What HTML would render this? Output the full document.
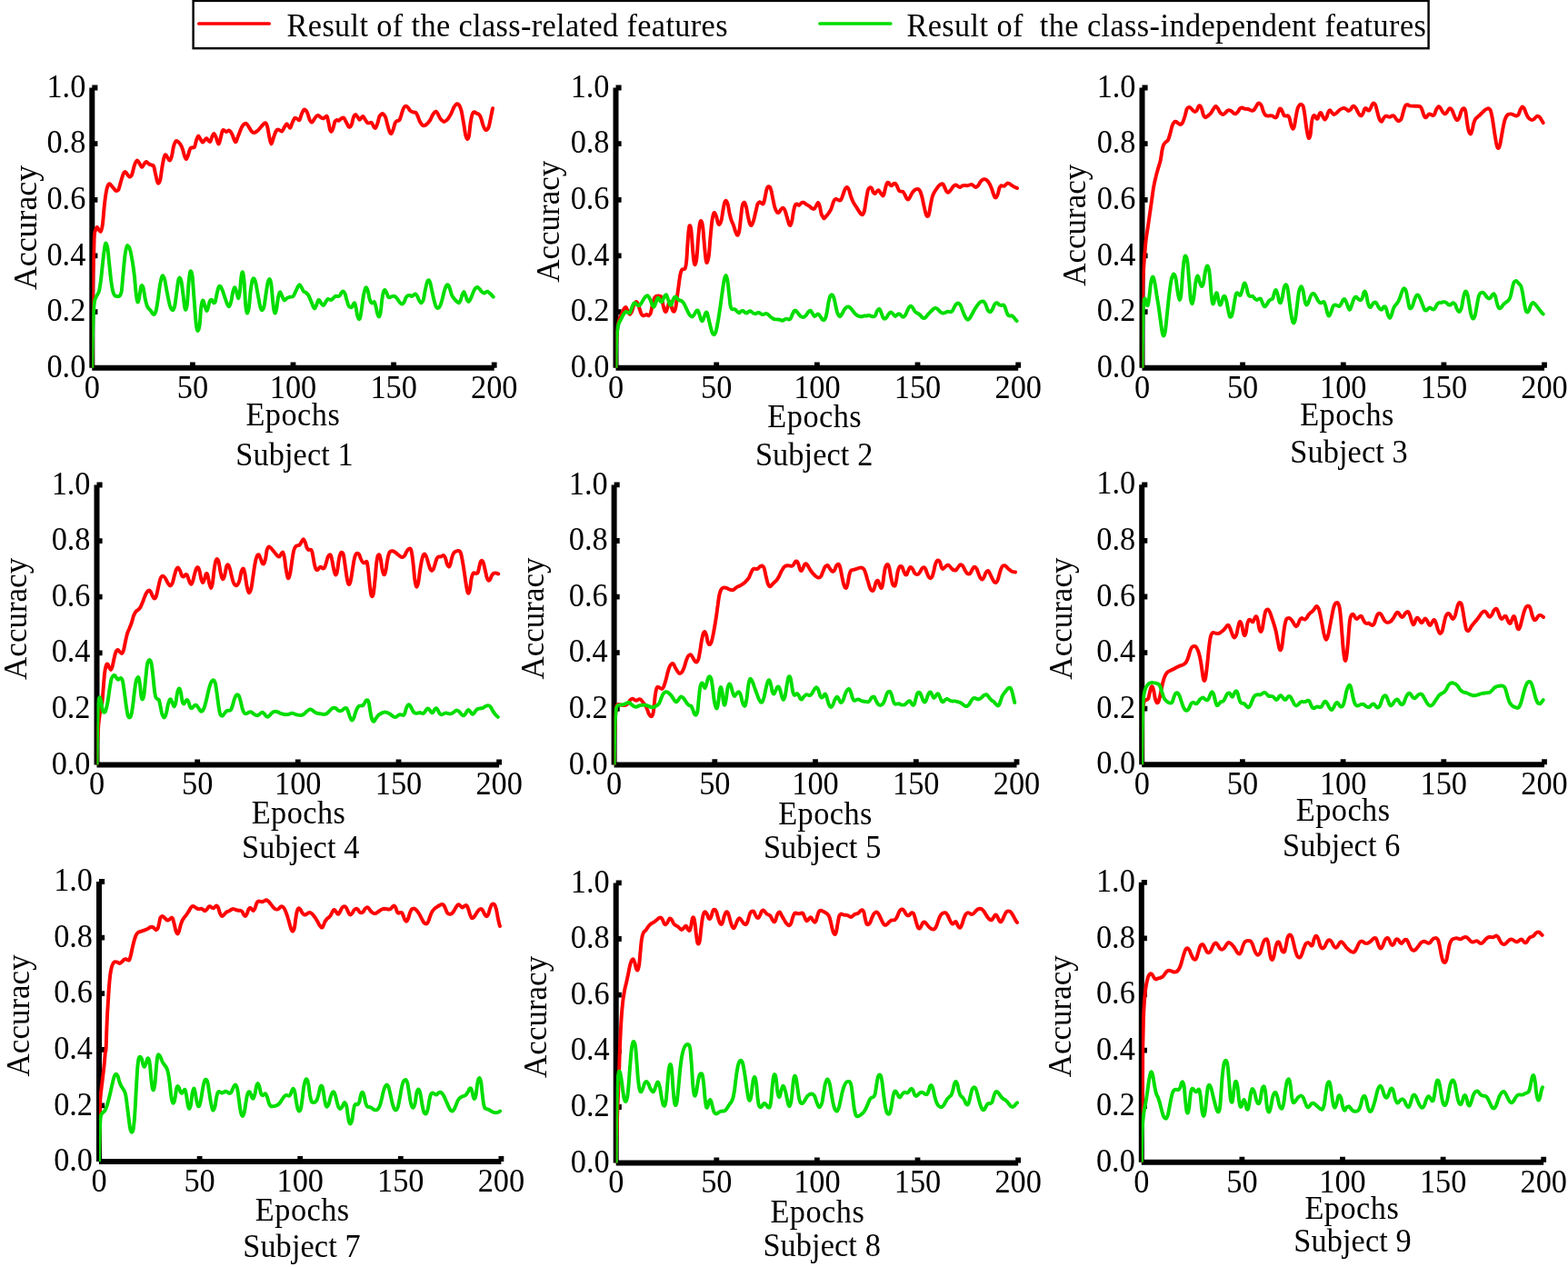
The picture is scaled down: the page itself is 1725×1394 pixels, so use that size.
<!DOCTYPE html>
<html lang="en"><head><meta charset="utf-8"><title>Accuracy curves for nine subjects</title>
<style>html,body{margin:0;padding:0;background:#fff}body{width:1725px;height:1394px;overflow:hidden}svg{display:block}text{font-family:"Liberation Serif","DejaVu Serif",serif;font-size:34.3px;fill:#000}.t{font-size:34.3px}.c{fill:none;stroke-width:3.95;stroke-linejoin:round;stroke-linecap:round}</style></head><body>
<svg width="1725" height="1394" viewBox="0 0 1725 1394">
<rect width="1725" height="1394" fill="#fff"/>
<g id="legend"><rect x="212.6" y="0.9" width="1359.0" height="52.3" fill="#fff" stroke="#000" stroke-width="2.4"/>
<line x1="218.8" y1="26.0" x2="296.2" y2="26.0" stroke="#ff0000" stroke-width="3.7" stroke-linecap="round"/>
<text transform="translate(315.6 39.8) scale(1 1.03)" textLength="484.9" lengthAdjust="spacing">Result of the class-related features</text>
<line x1="902" y1="26.0" x2="979.8" y2="26.0" stroke="#00dd00" stroke-width="3.7" stroke-linecap="round"/>
<text transform="translate(997.4 39.8) scale(1 1.03)" textLength="571.5" lengthAdjust="spacing" xml:space="preserve">Result of  the class-independent features</text></g>
<g id="subject1">
<path d="M101.3 404.7V96.5M101.3 404.7H543.7" stroke="#000" stroke-width="6.0" fill="none"/>
<path d="M101.3 343.1h6.1M101.3 281.4h6.1M101.3 219.8h6.1M101.3 158.1h6.1M101.3 96.5h6.1M211.9 404.7v-6.1M322.5 404.7v-6.1M433.1 404.7v-6.1M543.7 404.7v-6.1" stroke="#000" stroke-width="5.8" fill="none"/>
<clipPath id="cp1"><rect x="101.3" y="86.5" width="452.4" height="318.2"/></clipPath>
<g clip-path="url(#cp1)">
<path class="c" stroke="#ff0000" d="M101.3 404.7C101.4 398.8 101.6 382.1 101.7 369.2C101.8 356.3 101.7 345.0 102.0 327.4C102.3 309.9 103.1 276.3 103.6 264.0C104.1 251.6 104.5 255.8 105.0 253.5C105.6 251.2 105.9 249.8 106.8 250.0C107.8 250.3 109.6 255.4 110.6 254.9C111.6 254.4 112.2 251.5 112.8 247.3C113.5 243.0 113.9 235.0 114.5 229.2C115.1 223.4 115.9 216.6 116.6 212.5C117.3 208.3 118.0 205.8 118.7 204.1C119.4 202.4 119.8 202.1 120.8 202.4C121.7 202.8 123.1 205.0 124.2 206.2C125.4 207.5 126.7 209.6 127.7 210.0C128.7 210.3 129.6 210.2 130.5 208.3C131.4 206.4 132.3 201.5 133.3 198.6C134.2 195.6 135.2 192.0 136.1 190.5C136.9 188.9 137.3 188.8 138.1 189.2C139.0 189.6 140.1 192.1 140.9 193.0C141.7 193.9 142.3 194.8 143.0 194.7C143.7 194.5 144.3 194.4 145.1 192.3C145.9 190.2 147.0 184.5 147.9 181.8C148.8 179.2 149.7 176.9 150.7 176.6C151.6 176.2 152.5 178.5 153.4 179.8C154.4 181.0 155.3 183.9 156.2 183.9C157.2 183.9 158.2 180.8 159.0 179.8C159.8 178.8 160.3 177.8 161.1 177.9C161.9 178.1 163.0 179.9 163.9 180.5C164.8 181.1 165.8 181.2 166.7 181.6C167.5 181.9 168.3 181.1 169.0 182.6C169.7 184.0 170.2 187.5 170.8 190.2C171.5 192.9 172.1 196.6 172.7 198.6C173.2 200.5 173.7 201.8 174.3 201.6C175.0 201.4 175.7 200.2 176.4 197.2C177.1 194.1 177.8 187.3 178.5 183.2C179.2 179.2 179.9 174.9 180.6 172.8C181.2 170.7 181.7 170.2 182.4 170.4C183.1 170.7 184.0 173.2 184.8 174.2C185.5 175.2 186.2 176.9 186.8 176.6C187.5 176.2 188.2 174.7 188.9 172.1C189.6 169.5 190.3 163.7 191.0 161.0C191.7 158.2 192.5 156.7 193.1 155.7C193.7 154.7 193.7 154.7 194.5 155.1C195.3 155.5 196.9 156.8 198.0 158.2C199.0 159.6 200.0 161.6 200.8 163.8C201.6 166.0 202.2 169.5 202.9 171.4C203.6 173.3 204.2 175.3 204.9 175.2C205.6 175.1 206.3 172.6 207.0 170.7C207.7 168.8 208.4 165.2 209.1 163.8C209.8 162.4 210.4 162.7 211.2 162.4C212.0 162.0 213.2 163.1 214.0 161.7C214.8 160.3 215.4 156.0 216.1 154.0C216.8 152.0 217.5 149.8 218.2 149.6C218.9 149.3 219.4 151.5 220.2 152.6C221.1 153.8 222.1 156.4 223.0 156.5C224.0 156.6 225.1 154.0 225.8 153.3C226.6 152.6 226.9 152.1 227.5 152.3C228.1 152.6 228.7 154.2 229.3 154.7C229.9 155.3 230.7 156.5 231.4 155.7C232.1 154.9 232.8 151.3 233.5 149.8C234.2 148.4 234.9 146.8 235.6 147.1C236.3 147.3 236.8 149.3 237.7 151.2C238.5 153.1 239.6 158.2 240.4 158.5C241.2 158.7 241.8 155.0 242.5 152.6C243.2 150.3 244.0 145.9 244.6 144.3C245.3 142.7 245.7 143.0 246.4 143.2C247.1 143.3 247.8 144.9 248.8 145.0C249.8 145.0 251.2 143.2 252.3 143.6C253.3 143.9 253.9 145.0 255.0 147.1C256.2 149.1 257.8 155.6 258.9 156.1C260.1 156.6 260.8 152.6 262.0 149.8C263.2 147.1 264.8 141.8 266.2 139.4C267.6 137.0 269.2 135.8 270.4 135.7C271.5 135.5 272.1 137.3 273.1 138.7C274.2 140.1 275.5 143.1 276.6 144.3C277.7 145.5 278.5 146.2 279.8 145.9C281.1 145.7 282.7 144.3 284.3 142.9C285.8 141.4 287.9 138.6 289.1 137.3C290.4 136.0 291.1 135.0 291.9 135.2C292.7 135.5 293.3 136.3 294.0 138.7C294.7 141.1 295.4 146.5 296.1 149.8C296.8 153.1 297.6 158.2 298.5 158.5C299.3 158.7 300.1 153.6 301.0 151.2C301.9 148.8 302.8 145.4 303.8 144.0C304.7 142.6 305.5 142.5 306.5 142.6C307.6 142.7 309.0 145.0 310.0 144.6C311.1 144.1 311.9 141.5 312.8 140.1C313.7 138.7 314.5 136.1 315.6 136.2C316.6 136.3 318.0 141.1 319.1 140.8C320.1 140.5 320.9 136.4 321.8 134.5C322.8 132.7 323.6 130.1 324.6 129.7C325.7 129.2 327.2 131.3 328.1 131.7C328.9 132.0 329.1 132.7 329.7 131.7C330.4 130.6 331.1 127.1 331.8 125.4C332.5 123.7 333.2 122.0 333.9 121.2C334.6 120.5 335.3 120.5 336.0 121.0C336.7 121.4 337.3 122.1 338.1 124.0C338.9 125.9 340.0 130.6 340.9 132.4C341.8 134.1 342.6 134.7 343.4 134.4C344.2 134.2 344.9 132.1 345.8 131.0C346.6 129.8 347.7 128.1 348.5 127.5C349.3 126.9 349.8 126.9 350.6 127.2C351.4 127.6 352.5 129.1 353.4 129.6C354.3 130.1 355.1 130.5 355.9 130.3C356.7 130.0 357.6 128.5 358.3 128.2C358.9 127.9 359.4 127.3 359.9 128.5C360.5 129.6 360.9 132.8 361.5 135.2C362.0 137.5 362.6 141.2 363.1 142.8C363.7 144.4 364.2 145.0 364.8 144.6C365.4 144.3 366.0 142.5 366.6 140.7C367.2 138.9 367.8 135.2 368.4 133.8C369.1 132.3 369.6 132.3 370.4 132.1C371.1 131.9 372.0 133.0 372.9 132.7C373.8 132.3 374.8 130.8 375.7 130.3C376.6 129.8 377.4 129.0 378.2 129.6C379.0 130.2 379.7 132.2 380.5 133.8C381.4 135.3 382.6 138.1 383.3 139.1C384.1 140.0 384.5 140.1 385.1 139.6C385.8 139.1 386.5 138.0 387.1 136.3C387.7 134.5 388.2 130.6 388.9 128.9C389.5 127.2 390.3 126.2 391.0 126.1C391.7 126.0 392.3 127.3 393.1 128.2C393.8 129.1 394.7 131.5 395.4 131.7C396.2 131.9 397.0 129.9 397.7 129.3C398.4 128.7 398.9 127.8 399.6 128.2C400.3 128.6 401.1 130.5 401.8 131.7C402.6 132.8 403.4 134.6 404.2 135.2C405.0 135.7 405.8 135.2 406.6 135.2C407.3 135.1 408.0 134.2 408.8 134.9C409.6 135.6 410.4 138.4 411.1 139.3C411.9 140.3 412.5 141.3 413.2 140.7C413.9 140.1 414.6 137.9 415.3 135.8C416.0 133.8 416.7 129.9 417.4 128.2C418.2 126.5 419.2 125.9 419.9 125.4C420.6 124.9 420.9 124.8 421.6 125.4C422.3 126.0 423.3 126.8 424.1 128.9C424.9 131.0 425.7 135.3 426.5 137.9C427.2 140.6 427.9 143.4 428.6 144.9C429.2 146.4 429.9 147.4 430.6 147.0C431.3 146.5 432.0 144.1 432.7 142.1C433.4 140.1 434.1 136.7 434.8 135.2C435.5 133.6 436.1 133.6 436.9 133.1C437.7 132.6 438.7 133.1 439.4 132.1C440.2 131.0 440.6 129.0 441.4 126.8C442.1 124.6 443.0 120.8 443.9 119.2C444.7 117.5 445.5 116.9 446.4 116.8C447.2 116.6 447.9 117.3 448.7 118.2C449.6 119.0 450.6 121.1 451.5 121.9C452.4 122.8 453.4 123.0 454.3 123.3C455.2 123.6 456.3 123.2 457.1 123.7C457.9 124.3 458.4 125.1 459.2 126.8C460.0 128.5 461.0 131.9 461.9 133.8C462.9 135.6 463.9 136.9 464.7 137.7C465.5 138.4 466.0 138.4 466.8 138.2C467.6 138.0 468.6 137.5 469.6 136.5C470.7 135.6 471.9 134.2 473.1 132.4C474.2 130.5 475.5 127.0 476.6 125.4C477.6 123.8 478.5 122.7 479.4 122.6C480.2 122.5 480.6 123.4 481.4 124.7C482.2 126.0 483.3 128.9 484.2 130.3C485.1 131.7 486.2 132.5 487.0 133.1C487.8 133.6 488.2 134.1 489.1 133.8C490.0 133.4 491.4 132.4 492.6 131.0C493.7 129.6 494.9 127.6 496.1 125.4C497.2 123.2 498.5 119.6 499.5 117.8C500.6 115.9 501.4 114.6 502.3 114.3C503.2 113.9 504.2 114.4 505.1 115.7C506.0 116.9 506.8 118.7 507.6 121.9C508.4 125.2 509.2 130.9 510.0 135.2C510.7 139.4 511.4 144.7 512.0 147.7C512.7 150.6 513.5 152.7 514.1 153.0C514.8 153.2 515.4 152.0 516.0 149.1C516.5 146.1 517.0 139.1 517.6 135.2C518.2 131.2 519.0 127.4 519.7 125.4C520.4 123.4 521.0 123.4 521.8 123.3C522.6 123.2 523.5 124.3 524.3 124.7C525.1 125.1 525.9 125.0 526.7 125.7C527.4 126.4 527.9 126.8 528.8 128.9C529.6 130.9 530.7 135.7 531.5 137.9C532.4 140.2 533.0 141.6 533.6 142.4C534.3 143.2 534.7 143.3 535.4 142.8C536.1 142.3 537.1 141.5 537.8 139.3C538.5 137.1 539.2 132.9 539.9 129.6C540.6 126.2 541.6 120.9 542.0 119.2"/>
<path class="c" stroke="#00dd00" d="M101.3 404.7C101.4 398.8 101.7 378.6 102.0 369.2C102.2 359.8 102.3 354.6 102.7 348.3C103.0 342.0 103.5 335.3 104.0 331.6C104.6 327.9 105.3 327.9 106.1 326.0C106.9 324.2 108.1 323.5 108.9 320.5C109.7 317.4 110.3 313.3 111.0 307.9C111.7 302.6 112.4 294.5 113.1 288.4C113.8 282.4 114.6 275.2 115.2 271.8C115.8 268.3 116.0 267.3 116.6 267.6C117.1 267.8 117.8 269.7 118.4 273.1C119.0 276.6 119.4 282.7 120.0 288.4C120.7 294.2 121.4 302.6 122.1 307.9C122.8 313.3 123.5 317.6 124.2 320.5C124.9 323.4 125.5 324.4 126.3 325.3C127.1 326.3 128.2 326.0 129.1 326.0C130.0 326.1 130.7 326.7 131.5 325.8C132.2 324.8 133.0 324.4 133.7 320.5C134.3 316.6 134.7 308.9 135.4 302.4C136.0 295.9 136.8 286.6 137.4 281.5C138.1 276.4 138.7 273.6 139.3 271.8C139.8 269.9 140.0 269.9 140.7 270.4C141.3 270.8 142.2 271.5 143.0 274.5C143.9 277.5 145.0 283.6 145.8 288.4C146.6 293.3 147.3 298.2 147.9 303.8C148.5 309.3 149.0 317.3 149.6 321.9C150.1 326.4 150.5 329.2 150.9 330.9C151.4 332.6 151.6 332.7 152.1 331.9C152.5 331.1 152.9 328.7 153.4 326.0C154.0 323.3 154.6 317.6 155.1 315.6C155.6 313.6 156.0 313.9 156.5 314.2C157.0 314.5 157.4 315.2 157.9 317.7C158.4 320.1 159.1 325.7 159.7 328.8C160.4 331.9 161.1 334.6 161.8 336.5C162.5 338.3 163.2 339.0 163.9 339.9C164.6 340.9 165.3 341.1 166.0 342.0C166.7 342.9 167.4 344.6 168.1 345.2C168.7 345.9 169.2 346.4 169.9 345.8C170.5 345.1 171.1 344.4 171.8 341.3C172.5 338.3 173.4 332.1 174.1 327.4C174.7 322.8 175.3 317.3 176.0 313.5C176.7 309.7 177.5 306.1 178.1 304.4C178.7 302.8 179.1 303.2 179.6 303.8C180.1 304.3 180.5 304.7 181.3 307.9C182.0 311.2 183.1 318.6 184.1 323.2C185.0 327.9 186.0 332.9 186.8 335.8C187.7 338.7 188.3 339.8 188.9 340.6C189.6 341.5 190.2 341.5 190.8 340.6C191.3 339.8 191.8 339.1 192.4 335.8C193.0 332.4 193.9 325.1 194.5 320.5C195.2 315.8 195.7 310.4 196.3 307.9C196.9 305.5 197.4 305.4 198.0 305.9C198.5 306.3 199.1 307.6 199.7 310.7C200.2 313.9 200.9 320.0 201.5 324.6C202.1 329.3 202.7 336.0 203.3 338.6C203.8 341.1 204.2 341.1 204.7 340.2C205.1 339.3 205.6 337.4 206.1 333.0C206.5 328.5 207.0 318.8 207.4 313.5C207.9 308.2 208.4 303.5 208.8 301.0C209.3 298.5 209.6 298.0 210.1 298.5C210.6 298.9 211.1 299.9 211.6 303.8C212.1 307.7 212.5 315.1 213.0 321.9C213.5 328.6 214.2 337.9 214.7 344.1C215.2 350.4 215.6 356.1 216.1 359.4C216.6 362.7 217.2 364.1 217.8 363.9C218.3 363.6 219.0 361.8 219.6 358.0C220.1 354.3 220.5 345.6 220.9 341.3C221.4 337.0 221.9 334.0 222.3 332.3C222.8 330.6 223.2 330.1 223.7 330.9C224.3 331.7 225.0 335.3 225.5 337.2C226.1 339.0 226.7 341.8 227.2 342.0C227.8 342.3 228.3 340.3 228.9 338.6C229.5 336.8 230.0 333.0 230.7 331.6C231.3 330.2 232.1 329.7 232.8 329.9C233.5 330.2 234.2 332.6 234.9 333.0C235.5 333.4 236.1 333.7 236.7 332.3C237.2 330.9 237.7 327.3 238.3 324.6C239.0 322.0 239.8 317.9 240.4 316.3C241.1 314.7 241.5 314.4 242.2 314.9C242.9 315.4 243.8 317.0 244.6 319.1C245.5 321.2 246.5 324.8 247.4 327.4C248.3 330.1 249.4 333.5 250.2 335.1C251.0 336.6 251.6 337.5 252.3 336.9C253.0 336.3 253.7 334.3 254.3 331.6C255.0 328.9 255.7 323.0 256.4 320.5C257.1 317.9 257.9 316.0 258.5 316.3C259.2 316.5 259.7 319.9 260.3 321.9C261.0 323.8 261.8 328.6 262.4 328.1C263.0 327.6 263.6 323.1 264.1 319.1C264.6 315.0 265.0 307.0 265.5 303.8C266.0 300.5 266.6 298.4 267.1 299.6C267.7 300.7 268.2 304.9 268.7 310.7C269.2 316.5 269.6 328.8 270.1 334.4C270.6 340.0 271.1 343.7 271.7 344.4C272.4 345.1 273.2 342.5 273.8 338.6C274.5 334.6 275.0 325.4 275.6 320.5C276.3 315.5 277.0 310.9 277.6 308.6C278.2 306.3 278.8 306.0 279.4 306.5C280.0 307.1 280.7 308.6 281.5 312.1C282.3 315.6 283.4 322.9 284.3 327.4C285.2 331.9 286.0 337.0 286.8 339.2C287.5 341.5 288.1 341.4 288.7 341.1C289.3 340.7 289.9 340.1 290.5 337.2C291.2 334.2 291.9 327.6 292.6 323.2C293.3 318.8 294.0 313.4 294.7 310.7C295.4 308.1 296.2 306.8 296.8 307.2C297.4 307.7 297.9 309.2 298.5 313.5C299.0 317.8 299.7 328.1 300.3 333.0C300.8 337.9 301.2 340.9 301.7 342.7C302.1 344.6 302.6 344.8 303.1 344.1C303.5 343.4 303.9 341.6 304.4 338.6C305.0 335.5 305.6 328.9 306.3 326.0C306.9 323.1 307.5 321.1 308.2 321.1C308.9 321.1 309.7 324.5 310.4 326.0C311.2 327.6 311.9 330.1 312.8 330.5C313.7 330.8 314.5 328.7 315.6 328.1C316.6 327.5 317.9 327.1 319.1 326.7C320.2 326.4 321.5 327.1 322.5 326.0C323.6 325.0 324.5 322.2 325.3 320.5C326.2 318.7 327.0 316.8 327.6 315.6C328.3 314.4 328.8 313.2 329.5 313.2C330.1 313.2 330.7 314.4 331.4 315.6C332.2 316.8 333.0 319.4 333.9 320.5C334.8 321.5 335.8 321.3 336.7 322.1C337.6 322.9 338.6 323.8 339.5 325.3C340.4 326.9 341.4 329.5 342.3 331.6C343.2 333.7 344.1 336.6 344.8 337.9C345.5 339.1 345.9 339.6 346.4 339.2C347.0 338.9 347.5 337.2 348.1 335.8C348.7 334.4 349.4 331.8 349.9 330.9C350.5 330.0 350.7 329.7 351.3 330.2C351.9 330.7 352.6 332.7 353.4 333.7C354.2 334.7 355.2 336.2 355.9 336.1C356.7 335.9 357.1 334.1 357.9 333.0C358.6 331.8 359.6 329.7 360.4 329.1C361.1 328.5 361.8 329.4 362.4 329.5C363.1 329.6 363.8 330.2 364.5 329.9C365.2 329.7 365.9 328.8 366.6 328.1C367.4 327.4 368.2 326.1 369.0 325.8C369.8 325.4 370.7 326.1 371.5 326.0C372.3 326.0 372.9 326.0 373.6 325.3C374.3 324.6 375.0 322.7 375.7 321.9C376.4 321.0 377.1 320.2 377.8 320.5C378.4 320.7 378.9 321.6 379.6 323.2C380.2 324.9 380.9 328.1 381.5 330.2C382.1 332.3 382.7 334.5 383.3 335.8C383.9 337.0 384.5 337.5 385.1 337.9C385.8 338.2 386.5 338.4 387.1 337.9C387.7 337.3 388.4 335.1 388.9 334.4C389.4 333.7 389.8 333.0 390.3 333.7C390.7 334.4 391.2 336.3 391.7 338.6C392.1 340.8 392.5 344.8 393.1 346.9C393.6 349.0 394.3 350.8 394.9 351.1C395.4 351.3 396.0 350.6 396.5 348.3C397.1 346.0 397.6 341.1 398.2 337.2C398.8 333.2 399.4 327.9 400.0 324.6C400.6 321.4 401.3 319.0 401.8 317.7C402.4 316.3 402.7 316.1 403.2 316.6C403.7 317.0 404.3 318.4 404.9 320.5C405.4 322.5 406.0 326.7 406.6 328.8C407.1 330.9 407.8 332.2 408.4 333.0C409.0 333.7 409.6 333.4 410.2 333.3C410.8 333.1 411.3 331.6 411.9 332.3C412.4 332.9 412.9 335.0 413.5 337.2C414.1 339.4 414.7 343.7 415.3 345.5C415.9 347.4 416.6 348.8 417.1 348.3C417.7 347.8 418.3 345.7 418.8 342.7C419.3 339.7 419.7 333.8 420.2 330.2C420.7 326.6 421.3 323.0 421.9 321.1C422.4 319.3 423.1 318.8 423.7 319.1C424.3 319.3 424.9 321.2 425.5 322.6C426.1 323.9 426.7 326.4 427.4 327.1C428.2 327.8 429.1 327.0 429.9 326.7C430.8 326.5 431.8 325.8 432.7 325.8C433.6 325.8 434.4 326.1 435.2 326.7C436.0 327.3 436.8 328.5 437.6 329.5C438.4 330.6 439.2 332.1 440.0 333.0C440.7 333.8 441.4 334.8 442.2 334.6C443.0 334.5 443.8 333.5 444.6 332.3C445.3 331.1 445.9 328.6 446.6 327.4C447.3 326.3 448.0 325.7 448.7 325.3C449.4 324.9 450.1 324.8 450.8 324.9C451.5 325.0 452.2 326.1 452.9 326.0C453.6 326.0 454.3 325.0 455.0 324.6C455.7 324.2 456.4 323.3 457.1 323.5C457.8 323.8 458.4 324.7 459.2 326.0C459.9 327.4 460.9 330.4 461.7 331.6C462.4 332.8 462.9 333.6 463.6 333.3C464.3 332.9 465.2 331.9 465.9 329.5C466.5 327.1 467.1 322.3 467.8 319.1C468.5 315.8 469.4 311.8 470.0 310.0C470.7 308.2 471.1 308.0 471.7 308.2C472.2 308.4 472.7 309.1 473.4 311.4C474.0 313.7 474.8 318.4 475.6 321.9C476.4 325.3 477.2 329.6 478.0 332.3C478.7 335.0 479.3 336.8 480.0 337.9C480.7 338.9 481.4 339.1 482.1 338.8C482.8 338.6 483.5 338.1 484.2 336.5C485.0 334.8 485.9 331.7 486.7 328.8C487.5 325.9 488.3 321.5 489.1 319.1C489.8 316.6 490.6 315.1 491.2 314.2C491.8 313.3 492.3 313.0 492.9 313.5C493.4 314.0 494.0 315.1 494.7 317.0C495.4 318.8 496.2 322.7 497.0 324.6C497.9 326.6 498.9 327.6 499.8 328.8C500.7 330.0 501.5 330.8 502.3 331.6C503.1 332.3 504.1 333.5 504.8 333.3C505.6 333.0 506.1 331.8 506.8 330.2C507.4 328.6 508.0 325.4 508.6 323.9C509.2 322.4 509.8 321.0 510.4 321.1C511.0 321.3 511.4 323.1 512.0 324.6C512.7 326.2 513.5 329.3 514.1 330.5C514.8 331.6 515.3 332.1 516.0 331.6C516.6 331.1 517.5 329.3 518.3 327.4C519.2 325.6 520.3 322.2 521.1 320.5C521.9 318.7 522.5 317.7 523.2 317.0C523.9 316.2 524.5 315.8 525.3 316.0C526.0 316.2 526.8 317.1 527.6 317.9C528.5 318.8 529.3 320.4 530.1 321.1C531.0 321.9 531.8 322.6 532.6 322.6C533.5 322.6 534.4 321.5 535.0 321.1C535.6 320.8 535.8 320.5 536.4 320.7C537.0 321.0 538.0 321.9 538.8 322.6C539.5 323.2 540.4 324.2 541.0 324.9C541.6 325.6 542.4 326.4 542.7 326.7"/>
</g>
<text class="t" transform="translate(94.3 414.8) scale(1 1.03)" text-anchor="end">0.0</text>
<text class="t" transform="translate(94.3 353.2) scale(1 1.03)" text-anchor="end">0.2</text>
<text class="t" transform="translate(94.3 291.5) scale(1 1.03)" text-anchor="end">0.4</text>
<text class="t" transform="translate(94.3 229.9) scale(1 1.03)" text-anchor="end">0.6</text>
<text class="t" transform="translate(94.3 168.2) scale(1 1.03)" text-anchor="end">0.8</text>
<text class="t" transform="translate(94.3 106.6) scale(1 1.03)" text-anchor="end">1.0</text>
<text class="t" transform="translate(101.3 437.5) scale(1 1.03)" text-anchor="middle">0</text>
<text class="t" transform="translate(211.9 437.5) scale(1 1.03)" text-anchor="middle">50</text>
<text class="t" transform="translate(322.5 437.5) scale(1 1.03)" text-anchor="middle">100</text>
<text class="t" transform="translate(433.1 437.5) scale(1 1.03)" text-anchor="middle">150</text>
<text class="t" transform="translate(543.7 437.5) scale(1 1.03)" text-anchor="middle">200</text>
<text transform="translate(322.1 468.0) scale(1 1.03)" text-anchor="middle" textLength="103.3" lengthAdjust="spacing">Epochs</text>
<text transform="translate(324.0 512.4) scale(1 1.03)" text-anchor="middle" textLength="129.4" lengthAdjust="spacing">Subject 1</text>
<text transform="translate(40.0 250.5) rotate(-90)" text-anchor="middle" style="font-size:35.8px">Accuracy</text>
</g>
<g id="subject2">
<path d="M677.5 404.7V96.5M677.5 404.7H1120.2" stroke="#000" stroke-width="6.0" fill="none"/>
<path d="M677.5 343.1h6.1M677.5 281.4h6.1M677.5 219.8h6.1M677.5 158.1h6.1M677.5 96.5h6.1M788.2 404.7v-6.1M898.9 404.7v-6.1M1009.5 404.7v-6.1M1120.2 404.7v-6.1" stroke="#000" stroke-width="5.8" fill="none"/>
<clipPath id="cp2"><rect x="677.5" y="86.5" width="452.7" height="318.2"/></clipPath>
<g clip-path="url(#cp2)">
<path class="c" stroke="#ff0000" d="M677.5 404.7C677.6 401.2 677.6 390.8 677.9 384.0C678.1 377.2 678.4 369.2 679.0 364.0C679.5 358.8 680.2 355.8 681.0 352.8C681.9 349.8 682.9 348.1 683.8 345.9C684.8 343.7 685.8 340.9 686.6 339.6C687.4 338.3 688.0 337.7 688.7 338.2C689.4 338.7 690.1 341.1 690.8 342.4C691.5 343.7 692.2 345.8 692.9 345.9C693.6 346.0 694.1 344.9 695.0 343.1C695.8 341.2 696.8 336.5 697.8 334.7C698.7 332.9 699.7 331.8 700.5 332.2C701.4 332.7 702.1 335.4 702.9 337.5C703.7 339.7 704.6 343.5 705.4 345.2C706.2 346.8 706.7 347.0 707.5 347.3C708.2 347.5 709.2 346.7 709.9 346.6C710.5 346.4 711.0 346.0 711.7 346.1C712.3 346.3 713.1 347.5 713.8 347.3C714.4 347.0 715.1 346.6 715.8 344.5C716.5 342.4 717.2 337.5 717.9 334.7C718.6 331.9 719.3 329.3 720.0 327.8C720.8 326.3 721.5 326.0 722.4 325.7C723.3 325.3 724.7 325.5 725.6 325.7C726.5 325.9 727.0 325.6 727.7 327.1C728.3 328.6 728.8 332.3 729.3 334.7C729.9 337.2 730.6 340.3 731.1 341.7C731.7 343.0 732.2 343.5 732.8 342.8C733.4 342.1 734.0 339.3 734.6 337.5C735.2 335.7 735.8 332.6 736.3 331.9C736.8 331.3 737.2 331.9 737.7 333.3C738.2 334.7 738.9 338.7 739.5 340.3C740.1 341.9 741.0 343.0 741.6 342.8C742.2 342.6 742.7 341.2 743.2 338.9C743.8 336.6 744.1 333.1 744.6 329.2C745.2 325.2 745.8 319.7 746.5 315.2C747.1 310.8 747.7 305.7 748.3 302.7C748.8 299.7 749.3 298.3 749.9 297.2C750.6 296.0 751.4 296.4 752.0 296.1C752.7 295.7 753.3 296.5 753.8 295.1C754.4 293.6 754.8 291.9 755.2 287.4C755.7 282.9 756.0 274.0 756.5 267.9C756.9 261.9 757.4 254.5 757.9 251.2C758.3 248.0 758.8 247.8 759.3 248.4C759.7 249.1 760.2 250.8 760.6 255.4C761.1 260.0 761.7 270.7 762.2 276.3C762.7 281.8 763.1 286.4 763.6 288.8C764.0 291.2 764.4 291.6 764.8 290.9C765.3 290.2 765.8 289.2 766.4 284.6C766.9 280.1 767.5 270.0 768.0 263.8C768.6 257.5 769.1 250.5 769.7 247.1C770.3 243.6 770.9 242.7 771.5 243.2C772.1 243.6 772.6 245.2 773.2 249.8C773.8 254.4 774.4 264.7 775.0 270.7C775.6 276.8 776.1 283.1 776.6 286.0C777.2 289.0 777.5 289.5 778.0 288.5C778.6 287.6 779.3 285.1 779.9 280.5C780.4 275.9 781.0 267.2 781.5 261.0C782.1 254.7 782.8 247.2 783.3 242.9C783.9 238.6 784.5 236.7 785.0 235.2C785.5 233.8 785.9 233.7 786.4 234.3C786.9 234.8 787.6 236.8 788.2 238.7C788.8 240.6 789.4 244.3 790.0 245.7C790.6 247.0 791.1 247.5 791.7 246.8C792.3 246.1 793.1 244.2 793.8 241.5C794.4 238.8 795.0 233.5 795.6 230.4C796.2 227.2 796.7 224.3 797.2 222.7C797.8 221.1 798.3 220.6 798.9 220.9C799.5 221.2 800.1 222.5 800.7 224.8C801.3 227.1 801.9 231.6 802.5 234.5C803.2 237.4 803.8 240.1 804.5 242.2C805.2 244.3 805.9 245.0 806.7 247.1C807.5 249.1 808.3 252.7 809.1 254.7C809.8 256.7 810.5 259.0 811.2 258.9C811.9 258.8 812.6 257.4 813.3 254.0C813.9 250.7 814.5 243.4 815.1 238.7C815.6 234.1 816.1 228.8 816.7 226.2C817.4 223.5 818.1 222.5 818.8 222.7C819.5 222.9 820.2 224.9 820.9 227.6C821.6 230.2 822.3 235.6 823.0 238.7C823.7 241.8 824.5 244.9 825.1 246.4C825.7 247.9 826.1 248.3 826.8 247.8C827.4 247.2 828.2 245.3 829.0 242.9C829.7 240.4 830.6 236.2 831.4 233.1C832.1 230.1 832.7 226.6 833.4 224.8C834.1 223.0 834.8 222.5 835.5 222.3C836.2 222.1 836.9 223.1 837.6 223.4C838.3 223.7 839.1 225.0 839.7 224.1C840.4 223.2 840.9 220.5 841.5 217.8C842.1 215.2 842.8 210.2 843.5 208.1C844.1 206.0 844.9 205.3 845.7 205.3C846.4 205.3 847.3 206.0 848.0 208.1C848.8 210.2 849.4 214.6 850.1 217.8C850.8 221.1 851.5 225.0 852.2 227.6C853.0 230.1 853.8 232.1 854.6 233.1C855.4 234.2 856.0 234.3 856.8 233.8C857.6 233.4 858.4 231.2 859.2 230.4C859.9 229.5 860.6 228.6 861.3 228.7C862.0 228.8 862.6 229.4 863.4 231.1C864.1 232.7 865.0 236.2 865.7 238.7C866.5 241.3 867.3 244.9 868.0 246.4C868.6 247.9 869.1 248.3 869.6 247.8C870.2 247.2 870.7 245.5 871.3 242.9C871.9 240.2 872.5 234.6 873.1 231.8C873.7 228.9 874.3 226.7 874.9 225.5C875.5 224.3 876.2 224.4 876.9 224.5C877.6 224.6 878.3 226.1 879.1 225.9C879.8 225.7 880.7 223.9 881.5 223.4C882.2 222.9 882.9 222.5 883.8 222.7C884.7 222.9 885.9 224.1 887.0 224.8C888.1 225.5 889.4 226.1 890.5 226.9C891.5 227.6 892.4 228.8 893.3 229.2C894.2 229.7 895.0 230.1 895.8 229.7C896.5 229.3 897.1 228.0 897.7 226.9C898.4 225.8 899.2 223.1 899.8 223.0C900.5 222.9 901.0 224.0 901.6 226.2C902.3 228.3 903.2 234.1 903.7 235.9C904.2 237.8 904.2 236.6 904.6 237.3C905.1 238.1 905.8 240.3 906.5 240.4C907.2 240.5 908.0 239.0 908.8 238.0C909.7 237.0 910.7 235.9 911.6 234.5C912.5 233.1 913.5 231.9 914.4 229.7C915.3 227.5 916.3 223.1 917.2 221.3C918.0 219.5 918.7 219.2 919.5 218.9C920.4 218.7 921.2 219.7 922.0 219.9C922.9 220.2 924.0 221.0 924.8 220.3C925.6 219.6 926.2 217.7 926.9 215.8C927.7 213.8 928.5 210.4 929.3 208.8C930.1 207.2 931.0 206.0 931.8 206.0C932.6 206.0 933.1 207.0 933.9 208.8C934.6 210.5 935.4 214.1 936.2 216.4C937.1 218.8 937.9 221.0 938.8 222.7C939.6 224.4 940.5 225.3 941.5 226.9C942.6 228.5 944.0 231.0 945.0 232.4C946.0 233.9 946.7 235.1 947.4 235.7C948.1 236.2 948.6 236.6 949.2 235.9C949.8 235.3 950.4 234.5 951.0 231.8C951.6 229.0 952.3 223.1 953.0 219.2C953.6 215.4 954.3 210.9 955.0 208.8C955.7 206.7 956.5 206.7 957.1 206.4C957.8 206.1 958.3 206.1 958.9 207.0C959.5 207.8 960.1 210.6 960.7 211.6C961.4 212.6 962.1 213.1 962.7 213.0C963.3 212.8 963.9 211.2 964.5 210.6C965.1 210.0 965.9 208.9 966.6 209.2C967.3 209.5 968.0 211.3 968.7 212.3C969.4 213.2 970.2 214.6 970.8 215.1C971.3 215.5 971.6 215.9 972.1 214.8C972.7 213.6 973.2 210.2 973.8 208.1C974.4 205.9 975.0 203.0 975.6 201.8C976.2 200.6 976.8 200.6 977.4 200.9C978.1 201.2 978.8 203.1 979.4 203.6C980.0 204.2 980.6 204.4 981.2 204.2C981.8 204.0 982.4 202.6 983.0 202.2C983.6 201.9 984.3 201.4 985.0 201.8C985.6 202.2 986.1 203.3 986.8 204.6C987.4 205.9 988.2 208.5 988.9 209.5C989.5 210.5 990.2 210.4 990.9 210.6C991.7 210.8 992.5 210.3 993.3 210.9C994.1 211.5 994.8 213.1 995.5 214.3C996.2 215.6 996.9 217.7 997.5 218.5C998.1 219.4 998.6 219.8 999.3 219.5C999.9 219.2 1000.6 217.8 1001.4 216.4C1002.1 215.1 1003.1 212.8 1003.9 211.6C1004.7 210.4 1005.5 209.8 1006.2 209.2C1007.0 208.6 1007.6 208.3 1008.3 208.1C1009.0 207.9 1009.7 207.6 1010.4 208.1C1011.1 208.6 1011.8 209.3 1012.5 210.9C1013.2 212.5 1013.9 215.0 1014.6 217.8C1015.3 220.6 1016.0 224.6 1016.7 227.6C1017.4 230.6 1018.1 234.2 1018.8 235.9C1019.4 237.7 1020.0 238.2 1020.6 238.0C1021.2 237.8 1021.7 236.7 1022.2 234.5C1022.8 232.3 1023.3 227.8 1023.9 224.8C1024.5 221.8 1025.1 218.6 1025.7 216.4C1026.4 214.2 1027.0 213.1 1027.8 211.6C1028.6 210.1 1029.7 208.7 1030.6 207.4C1031.5 206.1 1032.6 204.7 1033.4 203.9C1034.2 203.1 1034.8 202.8 1035.5 202.5C1036.1 202.3 1036.7 202.0 1037.3 202.5C1037.9 203.1 1038.5 204.6 1039.2 206.0C1039.9 207.4 1040.8 210.0 1041.5 210.9C1042.2 211.8 1042.7 211.8 1043.4 211.6C1044.1 211.3 1044.9 210.4 1045.6 209.5C1046.4 208.6 1047.3 206.9 1048.0 206.0C1048.7 205.1 1049.5 204.3 1050.1 203.9C1050.7 203.5 1051.1 203.5 1051.8 203.6C1052.4 203.8 1053.2 204.6 1054.0 205.0C1054.7 205.4 1055.6 206.1 1056.3 206.0C1057.1 205.9 1057.9 204.7 1058.7 204.3C1059.5 204.0 1060.3 203.9 1061.2 203.9C1062.1 203.9 1063.1 204.4 1064.0 204.3C1064.9 204.3 1065.7 203.9 1066.5 203.6C1067.3 203.4 1068.1 202.8 1068.9 202.9C1069.7 203.1 1070.4 204.1 1071.2 204.6C1072.1 205.1 1072.9 206.1 1073.7 206.0C1074.6 205.9 1075.4 204.9 1076.2 203.9C1077.1 202.9 1077.8 201.1 1078.6 200.0C1079.4 199.0 1080.2 198.1 1081.0 197.7C1081.7 197.2 1082.4 197.1 1083.2 197.2C1084.0 197.4 1084.8 197.7 1085.6 198.3C1086.4 199.0 1087.1 199.9 1087.9 201.1C1088.8 202.4 1089.7 204.1 1090.4 206.0C1091.2 207.9 1091.9 210.5 1092.5 212.3C1093.2 214.1 1093.8 215.9 1094.3 216.7C1094.9 217.5 1095.5 217.6 1096.0 217.1C1096.6 216.6 1097.1 215.4 1097.7 213.7C1098.3 211.9 1098.9 208.3 1099.5 206.7C1100.1 205.1 1100.7 204.7 1101.3 204.3C1101.9 204.0 1102.6 204.6 1103.2 204.6C1103.9 204.7 1104.4 205.0 1105.1 204.6C1105.7 204.3 1106.4 203.0 1107.1 202.5C1107.8 202.0 1108.5 201.5 1109.2 201.6C1110.0 201.6 1110.8 202.3 1111.6 202.8C1112.4 203.3 1113.3 204.1 1114.1 204.6C1114.9 205.1 1115.8 205.6 1116.6 206.0C1117.4 206.4 1118.6 206.8 1119.0 207.0"/>
<path class="c" stroke="#00dd00" d="M677.5 404.7C677.6 401.2 677.7 390.1 677.9 384.0C678.0 377.9 678.3 372.6 678.7 368.1C679.1 363.6 679.6 359.8 680.4 357.0C681.1 354.2 682.2 353.3 683.1 351.4C684.1 349.6 685.0 347.3 685.9 345.9C686.8 344.5 687.6 343.4 688.4 343.1C689.2 342.7 690.0 343.6 690.8 343.8C691.5 344.0 692.2 345.0 692.9 344.2C693.6 343.4 694.3 340.6 695.0 338.9C695.7 337.2 696.4 335.0 697.0 334.0C697.7 333.1 698.1 333.1 698.7 333.3C699.4 333.6 700.2 335.0 701.0 335.4C701.7 335.9 702.5 336.6 703.3 336.1C704.2 335.7 705.2 334.0 706.1 332.6C707.0 331.3 708.1 328.9 708.9 327.8C709.7 326.6 710.3 326.0 711.0 325.7C711.7 325.3 712.4 325.1 713.0 325.7C713.7 326.3 714.4 327.5 715.1 329.2C715.9 330.8 716.9 334.0 717.6 335.4C718.4 336.8 719.0 337.9 719.6 337.5C720.2 337.2 720.8 334.8 721.4 333.3C722.0 331.8 722.7 329.4 723.2 328.5C723.7 327.6 724.1 327.6 724.6 328.1C725.2 328.5 725.9 330.6 726.5 331.3C727.2 331.9 727.8 332.5 728.4 331.9C729.0 331.4 729.6 328.9 730.2 327.8C730.8 326.6 731.3 325.5 731.8 325.0C732.4 324.5 732.7 324.0 733.2 324.7C733.7 325.4 734.3 327.5 734.9 329.2C735.5 330.8 736.1 333.7 736.7 334.7C737.3 335.8 737.9 336.1 738.5 335.4C739.1 334.7 739.6 332.0 740.2 330.6C740.7 329.2 741.3 327.7 741.9 327.1C742.4 326.4 743.0 326.3 743.7 326.7C744.3 327.0 745.1 328.5 745.8 329.2C746.5 329.8 747.1 330.2 747.9 330.6C748.6 330.9 749.4 330.7 750.2 331.3C751.0 331.8 751.7 332.8 752.4 334.0C753.2 335.3 754.0 337.3 754.8 338.9C755.6 340.5 756.4 342.4 757.2 343.8C757.9 345.2 758.6 346.5 759.4 347.3C760.2 348.0 761.0 348.6 761.8 348.4C762.5 348.1 763.2 346.9 763.9 345.9C764.5 344.9 765.3 343.1 765.9 342.4C766.6 341.7 767.2 341.1 767.8 341.7C768.3 342.3 768.9 344.2 769.4 345.9C770.0 347.5 770.5 350.2 771.1 351.4C771.7 352.6 772.3 353.6 772.9 353.1C773.5 352.6 774.1 350.1 774.7 348.6C775.3 347.2 775.9 344.9 776.4 344.2C776.9 343.5 777.3 343.2 777.8 344.2C778.3 345.2 778.8 347.4 779.4 350.0C780.1 352.6 781.0 357.1 781.7 359.8C782.4 362.4 782.9 364.7 783.6 366.1C784.3 367.4 785.0 368.5 785.7 368.1C786.4 367.8 787.1 366.5 787.8 364.0C788.5 361.4 789.2 357.2 790.0 352.8C790.8 348.4 791.6 342.6 792.4 337.5C793.1 332.4 793.8 327.1 794.5 322.2C795.2 317.3 795.9 311.5 796.6 308.3C797.3 305.1 798.0 303.0 798.6 303.0C799.3 303.0 799.7 304.9 800.3 308.3C800.9 311.7 801.6 319.0 802.1 323.6C802.7 328.2 803.0 333.4 803.5 336.1C804.0 338.9 804.3 339.3 804.9 340.0C805.5 340.7 806.3 340.2 807.0 340.3C807.7 340.4 808.4 340.1 809.1 340.6C809.8 341.0 810.5 342.5 811.2 343.1C811.9 343.7 812.6 344.3 813.3 344.2C814.0 344.1 814.6 342.8 815.3 342.4C816.0 342.0 816.7 341.7 817.4 342.0C818.1 342.2 818.8 343.4 819.5 343.8C820.2 344.2 820.9 344.6 821.6 344.5C822.3 344.3 823.0 343.2 823.7 342.8C824.4 342.5 825.0 342.1 825.8 342.4C826.6 342.7 827.6 344.0 828.6 344.5C829.5 344.9 830.5 345.2 831.4 345.2C832.2 345.1 832.7 344.4 833.4 344.2C834.1 344.0 834.8 344.0 835.5 344.2C836.2 344.4 836.9 345.3 837.6 345.6C838.3 345.9 839.0 346.2 839.7 346.1C840.4 346.1 841.1 345.3 841.8 345.2C842.5 345.0 843.2 344.9 843.9 345.2C844.6 345.5 845.1 346.3 846.0 347.0C846.8 347.7 847.8 348.7 848.7 349.4C849.7 350.0 850.6 350.8 851.5 351.2C852.5 351.5 853.3 351.3 854.3 351.4C855.4 351.5 856.7 351.5 857.8 351.7C858.8 351.9 859.6 352.9 860.6 352.8C861.5 352.8 862.5 351.8 863.4 351.4C864.2 351.1 864.7 350.7 865.4 350.7C866.1 350.7 866.8 351.4 867.5 351.4C868.2 351.4 868.9 351.7 869.6 350.7C870.3 349.8 871.1 347.3 871.7 345.9C872.4 344.5 872.9 343.1 873.5 342.4C874.1 341.7 874.6 341.5 875.2 341.7C875.8 341.9 876.5 342.9 877.3 343.8C878.1 344.7 879.2 346.4 880.1 347.3C880.9 348.1 881.4 348.4 882.1 348.6C882.8 348.9 883.4 349.3 884.2 348.9C885.0 348.6 886.2 347.5 887.0 346.6C887.9 345.6 888.6 343.9 889.4 343.1C890.1 342.3 890.9 341.5 891.6 341.7C892.3 341.9 892.8 343.4 893.6 344.5C894.3 345.5 895.3 347.6 896.1 348.0C896.8 348.3 897.5 347.0 898.1 346.6C898.8 346.2 899.5 345.4 900.2 345.6C900.9 345.8 901.6 347.0 902.3 348.0C903.0 348.9 904.0 350.6 904.4 351.2C904.6 351.7 904.4 351.3 904.6 351.4C905.0 351.6 905.9 352.4 906.5 352.1C907.0 351.9 907.6 351.5 908.1 350.0C908.7 348.5 909.2 346.1 909.8 343.1C910.4 340.1 911.0 334.8 911.6 331.9C912.2 329.1 912.8 327.0 913.4 325.7C914.0 324.4 914.7 324.1 915.4 324.3C916.0 324.5 916.6 325.3 917.2 327.1C917.8 328.8 918.4 332.1 919.0 334.7C919.6 337.4 920.3 341.0 920.9 343.1C921.6 345.2 922.2 346.4 922.8 347.3C923.3 348.1 923.8 348.3 924.4 348.0C925.0 347.6 925.7 346.4 926.5 345.2C927.3 343.9 928.2 341.5 929.0 340.3C929.8 339.1 930.8 338.3 931.5 337.8C932.3 337.3 932.8 337.3 933.5 337.5C934.2 337.7 934.9 338.2 935.7 338.9C936.5 339.6 937.3 340.7 938.0 341.7C938.8 342.7 939.6 343.9 940.4 344.8C941.2 345.6 942.1 346.4 942.9 347.0C943.8 347.5 944.6 347.8 945.4 348.0C946.2 348.2 946.9 348.3 947.8 348.2C948.7 348.2 949.7 347.7 950.6 347.5C951.5 347.4 952.4 347.6 953.4 347.5C954.3 347.4 955.2 346.9 956.1 347.0C957.1 347.1 958.1 347.8 958.9 348.0C959.8 348.2 960.6 348.4 961.3 348.2C962.0 348.1 962.5 348.0 963.1 347.0C963.7 346.0 964.2 343.5 964.8 342.4C965.4 341.3 966.0 340.6 966.6 340.3C967.1 340.0 967.5 339.9 968.0 340.6C968.5 341.3 969.1 343.0 969.6 344.5C970.2 345.9 970.8 348.3 971.5 349.4C972.1 350.4 972.6 350.7 973.3 350.7C973.9 350.7 974.5 350.2 975.2 349.4C975.9 348.5 976.7 346.8 977.4 345.9C978.1 344.9 978.8 344.1 979.4 343.8C979.9 343.4 980.2 343.4 980.8 343.8C981.4 344.2 982.3 345.5 983.0 346.1C983.7 346.8 984.3 348.0 985.0 348.0C985.6 348.0 986.5 346.6 987.2 346.1C987.9 345.7 988.5 345.1 989.1 345.2C989.8 345.2 990.3 346.0 990.9 346.6C991.5 347.1 992.2 348.1 992.8 348.4C993.3 348.7 993.9 348.7 994.4 348.4C995.0 348.1 995.5 347.6 996.1 346.6C996.7 345.6 997.3 343.8 997.9 342.4C998.5 341.0 999.3 339.1 1000.0 338.2C1000.7 337.3 1001.4 336.8 1002.1 336.8C1002.8 336.9 1003.5 337.7 1004.2 338.6C1004.9 339.6 1005.6 341.5 1006.2 342.4C1006.9 343.3 1007.6 343.7 1008.3 344.2C1009.0 344.7 1009.7 344.7 1010.4 345.2C1011.1 345.6 1011.8 346.3 1012.5 347.0C1013.2 347.7 1013.9 348.8 1014.6 349.4C1015.3 349.9 1016.0 350.2 1016.7 350.0C1017.4 349.9 1018.0 349.5 1018.8 348.6C1019.6 347.8 1020.6 346.2 1021.6 345.2C1022.5 344.1 1023.4 343.3 1024.3 342.4C1025.3 341.5 1026.3 340.2 1027.1 339.6C1028.0 339.0 1028.7 338.8 1029.5 338.9C1030.3 339.0 1030.9 339.7 1031.7 340.3C1032.5 340.9 1033.3 342.2 1034.1 342.8C1034.8 343.5 1035.5 343.9 1036.2 344.2C1036.8 344.5 1037.2 344.6 1037.8 344.5C1038.5 344.4 1039.3 344.1 1040.1 343.8C1040.8 343.5 1041.7 342.9 1042.4 342.8C1043.2 342.7 1043.8 343.0 1044.5 343.1C1045.2 343.1 1046.0 343.4 1046.6 343.1C1047.3 342.7 1047.8 342.0 1048.4 341.0C1049.0 340.0 1049.7 338.0 1050.4 336.8C1051.1 335.7 1051.9 334.6 1052.6 334.0C1053.3 333.5 1053.8 333.3 1054.5 333.6C1055.2 334.0 1056.1 334.9 1056.8 336.1C1057.5 337.4 1058.0 339.3 1058.7 341.0C1059.4 342.7 1060.2 344.9 1060.9 346.6C1061.7 348.2 1062.6 349.9 1063.3 350.7C1064.0 351.6 1064.5 351.9 1065.1 351.7C1065.7 351.5 1066.3 350.8 1067.1 349.8C1067.8 348.7 1068.7 346.7 1069.6 345.2C1070.5 343.6 1071.4 341.8 1072.3 340.3C1073.3 338.8 1074.2 337.3 1075.1 336.1C1076.0 334.9 1076.8 333.8 1077.6 333.1C1078.5 332.3 1079.3 331.9 1080.0 331.7C1080.8 331.4 1081.4 331.2 1082.1 331.7C1082.8 332.2 1083.5 333.3 1084.2 334.7C1084.9 336.2 1085.6 338.9 1086.3 340.3C1087.0 341.7 1087.8 342.6 1088.4 343.1C1088.9 343.5 1089.2 343.5 1089.8 343.1C1090.3 342.6 1091.1 341.6 1091.8 340.3C1092.5 339.0 1093.2 336.6 1093.9 335.4C1094.6 334.3 1095.4 333.6 1096.0 333.3C1096.6 333.0 1097.1 333.3 1097.7 333.6C1098.3 334.0 1098.8 335.1 1099.5 335.4C1100.1 335.8 1100.9 335.9 1101.6 335.9C1102.3 335.9 1103.0 335.2 1103.7 335.4C1104.3 335.7 1104.9 336.4 1105.5 337.5C1106.0 338.7 1106.6 340.9 1107.1 342.4C1107.7 343.9 1108.2 345.7 1108.8 346.6C1109.4 347.4 1110.0 347.4 1110.6 347.5C1111.3 347.7 1112.0 347.1 1112.7 347.3C1113.4 347.4 1114.1 348.0 1114.8 348.6C1115.5 349.3 1116.3 350.4 1116.9 351.2C1117.5 351.9 1118.3 352.8 1118.6 353.1"/>
</g>
<text class="t" transform="translate(670.5 414.8) scale(1 1.03)" text-anchor="end">0.0</text>
<text class="t" transform="translate(670.5 353.2) scale(1 1.03)" text-anchor="end">0.2</text>
<text class="t" transform="translate(670.5 291.5) scale(1 1.03)" text-anchor="end">0.4</text>
<text class="t" transform="translate(670.5 229.9) scale(1 1.03)" text-anchor="end">0.6</text>
<text class="t" transform="translate(670.5 168.2) scale(1 1.03)" text-anchor="end">0.8</text>
<text class="t" transform="translate(670.5 106.6) scale(1 1.03)" text-anchor="end">1.0</text>
<text class="t" transform="translate(677.5 437.5) scale(1 1.03)" text-anchor="middle">0</text>
<text class="t" transform="translate(788.2 437.5) scale(1 1.03)" text-anchor="middle">50</text>
<text class="t" transform="translate(898.9 437.5) scale(1 1.03)" text-anchor="middle">100</text>
<text class="t" transform="translate(1009.5 437.5) scale(1 1.03)" text-anchor="middle">150</text>
<text class="t" transform="translate(1120.2 437.5) scale(1 1.03)" text-anchor="middle">200</text>
<text transform="translate(896.0 470.2) scale(1 1.03)" text-anchor="middle" textLength="103.3" lengthAdjust="spacing">Epochs</text>
<text transform="translate(895.6 512.1) scale(1 1.03)" text-anchor="middle" textLength="129.4" lengthAdjust="spacing">Subject 2</text>
<text transform="translate(614.7 243.8) rotate(-90)" text-anchor="middle" style="font-size:35.0px">Accuracy</text>
</g>
<g id="subject3">
<path d="M1256.5 404.7V96.5M1256.5 404.7H1699.0" stroke="#000" stroke-width="6.0" fill="none"/>
<path d="M1256.5 343.1h6.1M1256.5 281.4h6.1M1256.5 219.8h6.1M1256.5 158.1h6.1M1256.5 96.5h6.1M1367.1 404.7v-6.1M1477.8 404.7v-6.1M1588.4 404.7v-6.1M1699.0 404.7v-6.1" stroke="#000" stroke-width="5.8" fill="none"/>
<clipPath id="cp3"><rect x="1256.5" y="86.5" width="452.5" height="318.2"/></clipPath>
<g clip-path="url(#cp3)">
<path class="c" stroke="#ff0000" d="M1256.5 404.7C1256.6 398.8 1256.7 382.1 1256.8 369.2C1256.9 356.3 1257.1 339.0 1257.2 327.4C1257.4 315.8 1257.4 309.7 1257.9 299.6C1258.5 289.5 1259.6 275.0 1260.4 266.7C1261.3 258.5 1262.0 255.4 1262.8 250.0C1263.6 244.7 1264.3 239.6 1265.0 234.7C1265.7 229.9 1266.3 225.7 1267.0 220.8C1267.7 215.9 1268.4 209.9 1269.2 205.5C1270.0 201.1 1270.7 197.9 1271.6 194.4C1272.4 190.9 1273.5 187.6 1274.3 184.6C1275.2 181.6 1276.0 179.5 1276.7 176.3C1277.4 173.0 1277.9 168.0 1278.5 165.2C1279.1 162.3 1279.6 160.4 1280.3 158.9C1281.0 157.4 1281.9 156.9 1282.7 156.1C1283.5 155.3 1284.3 155.5 1285.1 154.0C1285.8 152.5 1286.5 149.7 1287.3 147.1C1288.1 144.4 1288.9 140.1 1289.7 138.0C1290.4 135.9 1291.1 135.0 1291.8 134.3C1292.4 133.6 1293.1 133.6 1293.8 133.8C1294.6 134.1 1295.4 135.1 1296.2 135.7C1297.0 136.2 1297.9 137.2 1298.7 137.0C1299.5 136.9 1300.4 136.1 1301.2 134.5C1302.0 133.0 1302.8 130.0 1303.6 127.6C1304.3 125.1 1305.0 121.5 1305.7 119.9C1306.4 118.3 1307.0 118.3 1307.8 118.1C1308.5 117.9 1309.3 118.3 1310.1 119.0C1310.9 119.6 1311.9 121.0 1312.6 121.7C1313.4 122.4 1314.0 123.2 1314.7 123.1C1315.4 123.1 1316.2 122.3 1316.8 121.3C1317.4 120.3 1317.9 118.0 1318.5 117.1C1319.0 116.3 1319.7 116.0 1320.3 116.4C1320.9 116.9 1321.5 118.2 1322.1 119.9C1322.7 121.7 1323.4 125.3 1324.0 126.9C1324.7 128.4 1325.4 129.1 1326.1 129.2C1326.9 129.4 1327.6 128.4 1328.6 127.6C1329.6 126.8 1331.1 125.8 1332.1 124.5C1333.2 123.2 1334.0 121.2 1334.9 119.9C1335.8 118.6 1336.6 117.0 1337.4 116.9C1338.2 116.7 1338.9 118.0 1339.8 119.2C1340.6 120.4 1341.6 123.0 1342.5 124.1C1343.5 125.2 1344.4 125.9 1345.3 125.9C1346.3 125.9 1347.3 124.8 1348.1 124.1C1349.0 123.4 1349.7 122.2 1350.5 121.7C1351.2 121.3 1351.9 121.1 1352.7 121.3C1353.5 121.5 1354.3 122.1 1355.1 122.7C1355.9 123.3 1356.7 124.4 1357.4 124.8C1358.2 125.2 1358.9 125.4 1359.7 125.1C1360.4 124.7 1361.3 123.6 1362.0 122.7C1362.8 121.8 1363.4 120.2 1364.1 119.5C1364.9 118.8 1365.8 118.5 1366.6 118.5C1367.4 118.6 1368.1 119.4 1369.0 119.6C1369.8 119.9 1370.8 119.8 1371.8 119.9C1372.7 120.1 1373.7 120.3 1374.6 120.6C1375.4 120.9 1376.2 121.6 1376.9 121.7C1377.7 121.8 1378.4 122.0 1379.2 121.3C1379.9 120.7 1380.8 119.0 1381.5 117.8C1382.3 116.7 1382.9 115.0 1383.6 114.3C1384.3 113.7 1385.0 113.3 1385.7 113.7C1386.4 114.0 1387.1 114.9 1387.8 116.4C1388.5 117.9 1389.2 121.0 1389.9 122.7C1390.6 124.4 1391.1 125.6 1392.0 126.5C1392.8 127.3 1393.8 127.5 1394.7 127.6C1395.7 127.7 1396.6 127.2 1397.5 127.2C1398.4 127.2 1399.2 127.2 1400.0 127.6C1400.8 127.9 1401.7 129.0 1402.4 129.2C1403.1 129.5 1403.6 129.7 1404.2 129.0C1404.8 128.2 1405.3 126.2 1405.9 124.8C1406.4 123.4 1407.0 121.2 1407.5 120.3C1408.1 119.5 1408.5 119.5 1409.1 119.9C1409.6 120.3 1410.2 121.5 1410.7 122.7C1411.3 123.9 1411.9 126.1 1412.5 126.9C1413.2 127.7 1414.2 127.5 1414.9 127.6C1415.7 127.7 1416.4 126.8 1417.0 127.3C1417.6 127.8 1418.1 128.6 1418.7 130.4C1419.2 132.1 1419.9 136.1 1420.5 138.0C1421.1 139.9 1421.7 141.7 1422.3 141.8C1422.9 141.9 1423.4 140.8 1424.0 138.7C1424.5 136.6 1425.1 132.1 1425.6 129.0C1426.2 125.8 1426.8 122.1 1427.4 119.9C1428.1 117.7 1428.8 116.6 1429.5 115.8C1430.2 114.9 1430.9 114.5 1431.6 114.8C1432.3 115.0 1433.1 115.2 1433.7 117.1C1434.3 119.0 1434.8 122.4 1435.4 126.2C1435.9 130.0 1436.6 136.2 1437.2 140.1C1437.8 144.0 1438.5 147.9 1439.0 149.8C1439.5 151.8 1439.9 152.4 1440.4 151.9C1440.8 151.5 1441.3 150.2 1441.8 147.1C1442.2 143.9 1442.6 136.4 1443.2 133.1C1443.7 129.9 1444.3 128.6 1444.8 127.6C1445.4 126.6 1445.9 126.8 1446.5 127.3C1447.1 127.8 1447.8 129.9 1448.3 130.4C1448.8 130.9 1449.2 131.2 1449.7 130.4C1450.2 129.5 1450.9 126.5 1451.5 125.5C1452.1 124.4 1452.6 123.6 1453.2 124.1C1453.8 124.6 1454.6 127.0 1455.3 128.3C1456.0 129.5 1456.7 131.4 1457.4 131.5C1458.1 131.6 1458.8 130.3 1459.5 129.0C1460.1 127.6 1460.6 124.7 1461.3 123.4C1461.9 122.1 1462.5 121.2 1463.2 121.3C1463.9 121.4 1464.7 123.3 1465.4 124.1C1466.2 124.9 1466.9 125.9 1467.8 125.9C1468.7 125.9 1469.7 124.9 1470.6 124.1C1471.5 123.3 1472.4 122.1 1473.4 121.3C1474.3 120.5 1475.2 119.9 1476.2 119.5C1477.1 119.1 1478.0 118.8 1478.9 119.0C1479.9 119.1 1480.9 120.1 1481.7 120.6C1482.5 121.1 1482.9 121.9 1483.6 121.9C1484.3 121.9 1485.2 121.3 1485.9 120.5C1486.6 119.8 1487.2 118.0 1487.8 117.3C1488.4 116.7 1489.0 116.5 1489.6 116.8C1490.3 117.1 1490.9 117.9 1491.7 119.2C1492.5 120.4 1493.5 122.7 1494.2 124.0C1495.0 125.3 1495.5 126.3 1496.2 126.8C1496.8 127.3 1497.4 127.5 1498.0 127.1C1498.6 126.6 1499.2 125.3 1499.8 124.0C1500.3 122.8 1500.9 120.4 1501.4 119.6C1502.0 118.7 1502.3 118.9 1502.8 119.2C1503.3 119.4 1503.9 120.6 1504.5 121.0C1505.1 121.4 1505.7 121.9 1506.3 121.5C1506.9 121.1 1507.5 119.6 1508.1 118.5C1508.7 117.3 1509.2 115.4 1509.8 114.5C1510.3 113.7 1510.9 113.4 1511.5 113.6C1512.0 113.8 1512.7 114.2 1513.3 115.7C1513.9 117.2 1514.5 120.4 1515.1 122.6C1515.7 124.8 1516.2 127.2 1516.8 128.9C1517.3 130.6 1517.8 131.9 1518.4 132.7C1519.0 133.4 1519.6 133.9 1520.2 133.5C1520.8 133.1 1521.4 131.2 1522.0 130.3C1522.7 129.4 1523.4 128.3 1524.0 127.9C1524.6 127.5 1525.2 127.7 1525.8 127.8C1526.4 127.9 1527.0 128.3 1527.6 128.5C1528.2 128.6 1528.7 128.8 1529.3 128.6C1529.9 128.4 1530.7 127.7 1531.4 127.5C1532.1 127.3 1532.8 127.0 1533.5 127.5C1534.1 128.0 1534.8 129.4 1535.5 130.3C1536.2 131.1 1537.0 132.2 1537.6 132.7C1538.3 133.1 1538.7 133.3 1539.3 133.1C1539.9 132.8 1540.9 132.3 1541.5 131.0C1542.2 129.7 1542.6 127.4 1543.2 125.4C1543.7 123.4 1544.3 120.8 1544.9 119.2C1545.4 117.5 1546.1 116.3 1546.7 115.7C1547.3 115.0 1547.8 115.1 1548.5 115.2C1549.2 115.4 1549.9 116.1 1550.8 116.4C1551.8 116.6 1553.1 116.6 1554.3 116.6C1555.6 116.7 1557.2 116.7 1558.5 116.8C1559.8 116.8 1561.1 116.7 1562.0 117.1C1562.9 117.5 1563.2 118.0 1563.8 119.2C1564.4 120.3 1564.9 122.5 1565.5 124.0C1566.0 125.5 1566.6 127.3 1567.1 128.2C1567.7 129.0 1568.3 129.4 1568.9 129.2C1569.5 128.9 1570.2 127.4 1570.8 126.8C1571.3 126.2 1571.8 125.5 1572.4 125.4C1573.0 125.3 1573.8 125.8 1574.5 126.1C1575.2 126.4 1576.0 127.2 1576.6 127.1C1577.2 127.0 1577.7 126.5 1578.3 125.4C1578.8 124.3 1579.5 121.8 1580.1 120.5C1580.7 119.3 1581.3 118.2 1581.9 117.8C1582.5 117.3 1583.2 117.3 1583.8 117.8C1584.5 118.2 1585.0 119.5 1585.6 120.5C1586.3 121.6 1587.0 123.2 1587.7 124.0C1588.4 124.8 1589.1 125.5 1589.8 125.4C1590.5 125.3 1591.2 124.2 1591.9 123.3C1592.6 122.4 1593.3 120.5 1594.0 119.8C1594.6 119.2 1595.2 119.1 1595.8 119.4C1596.4 119.8 1597.1 120.6 1597.8 121.9C1598.4 123.3 1599.3 125.9 1600.0 127.5C1600.7 129.1 1601.3 130.5 1601.9 131.2C1602.5 132.0 1603.1 132.3 1603.7 131.9C1604.3 131.6 1604.9 130.4 1605.5 128.9C1606.2 127.3 1606.9 124.2 1607.5 122.6C1608.1 121.1 1608.7 120.1 1609.3 119.6C1609.9 119.0 1610.6 118.9 1611.1 119.6C1611.6 120.2 1612.0 121.0 1612.5 123.3C1613.0 125.7 1613.4 130.4 1613.9 133.8C1614.4 137.1 1615.0 141.3 1615.6 143.5C1616.1 145.7 1616.8 146.4 1617.2 147.0C1617.7 147.6 1617.9 147.7 1618.3 147.0C1618.8 146.3 1619.2 144.8 1619.7 142.8C1620.2 140.8 1620.8 137.1 1621.4 135.2C1622.0 133.2 1622.6 132.0 1623.2 131.0C1623.9 129.9 1624.5 129.6 1625.3 128.9C1626.1 128.1 1627.2 127.4 1628.1 126.5C1629.0 125.7 1629.9 124.7 1630.9 123.7C1631.8 122.8 1632.8 121.7 1633.7 121.0C1634.5 120.3 1635.4 119.8 1636.2 119.6C1636.9 119.3 1637.5 119.2 1638.1 119.6C1638.7 120.0 1639.3 120.3 1639.9 121.9C1640.5 123.6 1641.1 126.4 1641.7 129.6C1642.3 132.7 1642.8 137.0 1643.4 140.7C1643.9 144.4 1644.5 148.5 1645.1 151.8C1645.6 155.2 1646.3 159.0 1646.9 160.9C1647.4 162.8 1648.0 163.3 1648.5 163.0C1649.1 162.6 1649.8 161.1 1650.3 158.8C1650.9 156.5 1651.4 152.3 1652.0 149.1C1652.6 145.8 1653.2 142.2 1653.8 139.3C1654.4 136.4 1655.0 133.6 1655.6 131.7C1656.3 129.7 1656.9 128.5 1657.6 127.5C1658.3 126.5 1659.0 126.0 1659.8 125.7C1660.6 125.3 1661.4 125.3 1662.2 125.4C1663.0 125.5 1663.8 125.8 1664.5 126.1C1665.3 126.4 1666.1 126.8 1666.8 127.1C1667.5 127.3 1668.1 127.7 1668.7 127.5C1669.3 127.3 1669.9 127.1 1670.5 126.1C1671.1 125.1 1671.8 122.6 1672.3 121.2C1672.9 119.9 1673.5 118.8 1674.0 118.2C1674.5 117.6 1674.9 117.5 1675.4 117.8C1675.9 118.0 1676.5 118.7 1677.1 119.8C1677.6 121.0 1678.2 123.2 1678.9 124.7C1679.5 126.2 1680.3 127.8 1681.0 128.9C1681.7 129.9 1682.3 130.5 1683.1 131.0C1683.8 131.5 1684.7 131.9 1685.4 131.9C1686.2 131.9 1686.9 131.6 1687.7 131.0C1688.4 130.4 1689.3 129.0 1690.0 128.5C1690.7 127.9 1691.2 127.7 1691.8 127.8C1692.4 127.8 1693.1 128.2 1693.8 128.9C1694.4 129.5 1694.9 130.6 1695.6 131.7C1696.2 132.7 1697.3 134.6 1697.7 135.2"/>
<path class="c" stroke="#00dd00" d="M1256.5 404.7C1256.6 398.8 1256.8 379.7 1257.0 369.2C1257.2 358.6 1257.4 347.8 1257.7 341.3C1257.9 334.8 1258.2 332.2 1258.6 330.2C1259.0 328.2 1259.6 328.4 1260.0 329.1C1260.5 329.8 1260.9 333.3 1261.4 334.4C1261.9 335.5 1262.3 336.9 1262.8 335.8C1263.3 334.6 1263.7 331.4 1264.2 327.4C1264.7 323.5 1265.5 315.7 1266.0 312.1C1266.5 308.5 1266.9 307.0 1267.4 305.9C1267.9 304.7 1268.3 304.1 1268.8 305.1C1269.3 306.2 1270.0 308.9 1270.6 312.1C1271.2 315.4 1271.9 320.2 1272.5 324.6C1273.2 329.0 1274.1 333.9 1274.8 338.6C1275.5 343.2 1276.1 348.1 1276.7 352.5C1277.3 356.9 1278.0 362.2 1278.5 365.0C1279.1 367.8 1279.6 369.7 1280.2 369.4C1280.8 369.2 1281.4 367.8 1282.0 363.6C1282.7 359.4 1283.4 350.6 1284.1 344.1C1284.8 337.6 1285.5 330.4 1286.2 324.6C1286.9 318.8 1287.6 313.0 1288.3 309.3C1289.0 305.6 1289.7 303.6 1290.4 302.4C1291.0 301.2 1291.5 301.2 1292.0 302.1C1292.6 303.0 1293.2 304.6 1293.8 307.9C1294.4 311.2 1295.0 318.2 1295.7 321.9C1296.3 325.5 1297.0 329.7 1297.6 329.9C1298.2 330.2 1298.8 328.3 1299.4 323.2C1300.0 318.2 1300.6 306.1 1301.2 299.6C1301.8 293.1 1302.3 287.2 1302.9 284.3C1303.4 281.3 1304.0 281.1 1304.5 281.8C1305.1 282.5 1305.8 283.9 1306.4 288.4C1307.0 293.0 1307.6 302.6 1308.2 309.3C1308.8 316.1 1309.3 324.7 1309.8 328.8C1310.4 332.9 1311.1 334.3 1311.7 334.1C1312.2 333.9 1312.7 331.1 1313.3 327.4C1313.9 323.8 1314.6 315.9 1315.1 312.1C1315.7 308.3 1316.3 305.7 1316.8 304.4C1317.3 303.2 1317.7 303.4 1318.2 304.4C1318.7 305.5 1319.3 309.0 1319.9 310.7C1320.4 312.5 1321.0 314.7 1321.7 314.9C1322.3 315.1 1323.1 314.7 1323.8 312.1C1324.5 309.6 1325.2 302.7 1325.8 299.6C1326.5 296.4 1327.0 294.4 1327.5 293.3C1328.1 292.3 1328.5 292.0 1329.0 293.3C1329.6 294.6 1330.2 296.2 1330.7 301.0C1331.3 305.7 1331.9 316.5 1332.4 321.9C1332.9 327.2 1333.3 331.0 1333.8 333.0C1334.2 335.0 1334.7 334.6 1335.2 333.7C1335.6 332.8 1336.1 329.3 1336.6 327.4C1337.0 325.6 1337.5 323.2 1338.0 322.6C1338.4 321.9 1338.7 322.0 1339.1 323.2C1339.5 324.5 1340.0 328.2 1340.5 330.2C1341.0 332.2 1341.6 335.0 1342.1 335.5C1342.7 336.0 1343.3 334.4 1343.9 333.0C1344.5 331.5 1345.2 327.9 1345.8 326.7C1346.3 325.6 1346.9 325.4 1347.4 326.0C1348.0 326.6 1348.5 327.9 1349.1 330.2C1349.7 332.5 1350.3 337.0 1350.9 339.9C1351.5 342.8 1352.1 346.2 1352.7 347.6C1353.3 349.0 1353.8 349.1 1354.4 348.6C1354.9 348.0 1355.5 346.7 1356.0 344.1C1356.6 341.5 1357.3 336.3 1357.9 333.0C1358.5 329.6 1359.1 325.7 1359.7 323.9C1360.2 322.1 1360.8 322.1 1361.3 322.1C1361.9 322.1 1362.4 323.5 1363.0 323.9C1363.6 324.4 1364.2 325.4 1364.8 324.6C1365.4 323.8 1366.0 321.0 1366.6 319.1C1367.2 317.1 1367.8 314.0 1368.3 312.8C1368.8 311.6 1369.2 311.2 1369.7 311.8C1370.2 312.4 1370.8 314.3 1371.3 316.3C1371.9 318.3 1372.5 322.3 1373.2 323.9C1373.8 325.6 1374.4 325.7 1375.2 326.0C1376.1 326.3 1377.2 325.4 1378.0 325.8C1378.8 326.1 1379.4 327.4 1380.1 328.1C1380.8 328.8 1381.4 329.8 1382.2 329.9C1383.0 330.1 1384.0 329.3 1384.7 329.1C1385.5 328.9 1386.0 328.0 1386.7 328.5C1387.3 329.1 1387.9 331.0 1388.5 332.3C1389.1 333.6 1389.7 335.6 1390.3 336.5C1390.9 337.3 1391.3 337.5 1392.0 337.2C1392.6 336.8 1393.3 335.4 1394.0 334.4C1394.7 333.3 1395.4 331.7 1396.1 330.9C1396.8 330.1 1397.5 330.0 1398.2 329.5C1398.9 329.0 1399.7 329.4 1400.3 328.1C1400.9 326.8 1401.4 323.4 1402.0 321.9C1402.5 320.3 1403.2 318.7 1403.8 319.1C1404.4 319.4 1405.0 321.9 1405.6 323.9C1406.2 326.0 1406.7 330.1 1407.3 331.6C1407.8 333.1 1408.4 333.7 1408.9 333.0C1409.5 332.3 1410.1 330.1 1410.7 327.4C1411.3 324.8 1411.9 319.3 1412.5 317.0C1413.2 314.6 1413.9 313.3 1414.5 313.2C1415.1 313.1 1415.7 313.7 1416.3 316.3C1416.9 318.9 1417.5 324.2 1418.1 328.8C1418.7 333.4 1419.4 340.1 1420.1 344.1C1420.7 348.2 1421.3 351.3 1421.9 353.2C1422.4 355.0 1423.0 355.8 1423.5 355.2C1424.1 354.7 1424.8 352.9 1425.3 349.7C1425.9 346.4 1426.4 340.4 1427.0 335.8C1427.6 331.1 1428.2 325.1 1428.8 321.9C1429.4 318.6 1430.1 317.3 1430.6 316.3C1431.2 315.2 1431.5 314.9 1432.0 315.6C1432.5 316.3 1433.1 317.7 1433.7 320.5C1434.3 323.2 1435.1 329.8 1435.8 332.3C1436.4 334.8 1437.0 335.5 1437.6 335.5C1438.2 335.5 1438.9 333.9 1439.5 332.3C1440.2 330.7 1441.1 327.5 1441.8 326.0C1442.5 324.5 1443.1 323.7 1443.7 323.2C1444.3 322.8 1444.9 322.8 1445.5 323.2C1446.2 323.7 1446.9 324.8 1447.6 326.0C1448.4 327.3 1449.3 329.7 1450.1 330.9C1450.9 332.1 1451.7 333.0 1452.5 333.3C1453.2 333.6 1453.9 332.9 1454.6 332.7C1455.3 332.5 1456.0 331.5 1456.7 332.3C1457.3 333.0 1457.8 335.1 1458.5 337.2C1459.1 339.2 1459.8 343.1 1460.4 344.8C1461.0 346.6 1461.6 347.8 1462.2 347.6C1462.9 347.4 1463.6 345.2 1464.3 343.4C1465.0 341.7 1465.7 338.5 1466.4 337.2C1467.1 335.8 1467.7 335.7 1468.5 335.5C1469.3 335.3 1470.2 335.8 1471.0 336.1C1471.8 336.3 1472.6 337.2 1473.4 336.9C1474.1 336.6 1474.8 335.5 1475.5 334.4C1476.1 333.3 1476.9 331.1 1477.5 330.2C1478.2 329.3 1478.7 328.6 1479.3 329.1C1480.0 329.6 1480.6 331.3 1481.3 333.0C1482.0 334.7 1483.0 338.0 1483.6 339.2C1484.3 340.5 1484.6 341.1 1485.2 340.6C1485.7 340.2 1486.2 338.1 1486.8 336.5C1487.4 334.8 1488.1 332.4 1488.6 330.9C1489.2 329.4 1489.8 328.1 1490.3 327.4C1490.9 326.7 1491.4 326.5 1492.0 326.7C1492.6 326.9 1493.2 328.0 1493.8 328.5C1494.4 329.1 1495.0 329.7 1495.6 329.9C1496.2 330.2 1496.7 330.3 1497.3 329.9C1497.8 329.5 1498.4 328.7 1498.9 327.4C1499.5 326.1 1499.9 323.2 1500.3 322.1C1500.8 321.0 1501.3 320.4 1501.7 320.7C1502.2 321.0 1502.6 322.0 1503.1 323.9C1503.6 325.9 1504.1 330.1 1504.6 332.3C1505.2 334.5 1505.8 336.2 1506.3 337.2C1506.9 338.1 1507.4 338.2 1508.0 337.9C1508.6 337.5 1509.2 335.9 1509.8 335.1C1510.4 334.3 1510.9 333.4 1511.5 333.0C1512.0 332.6 1512.7 332.4 1513.3 332.7C1513.9 333.1 1514.5 334.1 1515.1 335.1C1515.7 336.0 1516.2 337.4 1516.8 338.3C1517.3 339.1 1517.8 339.8 1518.4 340.2C1519.0 340.6 1519.6 341.0 1520.2 340.6C1520.8 340.2 1521.5 338.4 1522.0 337.9C1522.6 337.3 1523.2 337.1 1523.7 337.4C1524.2 337.8 1524.6 338.5 1525.1 339.9C1525.6 341.4 1526.3 344.7 1526.8 346.2C1527.3 347.7 1527.7 348.5 1528.2 349.0C1528.6 349.5 1529.1 349.9 1529.5 349.4C1530.0 348.9 1530.4 347.8 1531.0 346.2C1531.5 344.6 1532.1 341.6 1532.8 339.9C1533.4 338.3 1533.9 337.4 1534.6 336.5C1535.2 335.5 1535.9 334.9 1536.5 334.1C1537.1 333.3 1537.7 332.7 1538.3 331.6C1538.9 330.5 1539.6 328.9 1540.1 327.4C1540.7 325.9 1541.2 324.1 1541.8 322.6C1542.4 321.0 1542.9 319.2 1543.5 318.4C1544.0 317.5 1544.7 317.1 1545.3 317.4C1545.9 317.7 1546.4 318.3 1547.0 320.5C1547.5 322.6 1548.2 327.3 1548.8 330.2C1549.3 333.1 1549.9 336.4 1550.4 337.9C1551.0 339.4 1551.6 339.5 1552.2 339.2C1552.8 339.0 1553.4 338.0 1554.0 336.5C1554.7 335.0 1555.3 332.1 1556.0 330.2C1556.7 328.3 1557.4 326.3 1558.1 325.3C1558.7 324.4 1559.3 324.4 1559.9 324.6C1560.5 324.9 1561.0 325.7 1561.6 326.7C1562.1 327.8 1562.8 329.4 1563.4 330.9C1564.0 332.4 1564.6 334.1 1565.2 335.8C1565.8 337.4 1566.5 339.7 1567.1 340.6C1567.8 341.6 1568.3 341.7 1568.9 341.6C1569.5 341.5 1570.2 340.4 1570.8 339.9C1571.3 339.4 1571.9 338.7 1572.4 338.6C1573.0 338.4 1573.5 338.6 1574.1 338.8C1574.7 339.1 1575.3 340.0 1575.9 340.2C1576.5 340.5 1577.1 340.6 1577.7 340.2C1578.3 339.8 1578.8 338.9 1579.4 337.9C1580.0 336.8 1580.8 334.9 1581.5 334.1C1582.2 333.3 1582.9 333.2 1583.5 333.0C1584.2 332.8 1584.9 333.1 1585.6 333.0C1586.3 332.9 1587.0 332.4 1587.7 332.3C1588.4 332.2 1589.1 332.1 1589.8 332.3C1590.5 332.5 1591.2 333.1 1591.9 333.7C1592.6 334.2 1593.3 335.2 1594.0 335.5C1594.6 335.8 1595.2 335.8 1595.8 335.5C1596.4 335.2 1596.9 334.1 1597.5 333.7C1598.0 333.3 1598.6 333.0 1599.1 333.3C1599.7 333.5 1600.3 334.0 1601.0 335.1C1601.6 336.2 1602.2 338.7 1602.8 339.9C1603.3 341.2 1603.9 342.0 1604.4 342.4C1605.0 342.9 1605.5 343.1 1606.1 342.4C1606.7 341.8 1607.3 340.8 1607.9 338.6C1608.5 336.3 1609.0 331.6 1609.6 328.8C1610.2 326.0 1610.8 323.2 1611.4 321.9C1612.0 320.5 1612.5 320.3 1613.0 320.7C1613.6 321.2 1614.1 322.4 1614.6 324.6C1615.1 326.9 1615.7 331.0 1616.3 334.4C1616.8 337.7 1617.5 342.3 1618.1 344.8C1618.6 347.4 1619.2 348.8 1619.7 349.7C1620.2 350.6 1620.6 350.8 1621.1 350.4C1621.6 349.9 1622.2 349.1 1622.8 346.9C1623.4 344.7 1624.0 340.4 1624.6 337.2C1625.2 333.9 1625.8 329.8 1626.4 327.4C1627.0 325.1 1627.5 323.9 1628.1 323.0C1628.7 322.0 1629.5 322.0 1630.2 321.9C1630.8 321.7 1631.4 321.7 1632.0 322.1C1632.6 322.5 1633.2 323.5 1633.9 324.4C1634.6 325.2 1635.5 326.7 1636.2 327.4C1636.9 328.1 1637.5 328.5 1638.1 328.5C1638.7 328.5 1639.3 328.1 1639.9 327.4C1640.5 326.7 1641.1 325.1 1641.7 324.4C1642.3 323.7 1642.8 323.0 1643.4 323.2C1643.9 323.5 1644.5 324.3 1645.1 326.0C1645.6 327.8 1646.3 331.6 1646.9 333.7C1647.5 335.8 1648.1 337.6 1648.7 338.6C1649.3 339.5 1649.7 339.5 1650.3 339.2C1651.0 339.0 1651.7 338.0 1652.4 337.2C1653.1 336.3 1653.7 335.2 1654.5 334.4C1655.3 333.6 1656.4 333.0 1657.3 332.3C1658.2 331.6 1659.1 331.2 1659.8 330.2C1660.6 329.2 1661.1 328.1 1661.8 326.0C1662.4 323.9 1663.0 320.2 1663.6 317.7C1664.2 315.1 1664.8 312.2 1665.4 310.7C1666.0 309.3 1666.7 309.2 1667.3 309.1C1668.0 308.9 1668.5 309.5 1669.1 310.0C1669.8 310.6 1670.5 311.6 1671.2 312.4C1671.9 313.2 1672.7 313.3 1673.3 314.9C1673.9 316.5 1674.4 318.8 1675.0 321.9C1675.6 324.9 1676.2 329.8 1676.8 333.0C1677.4 336.2 1677.9 339.3 1678.5 341.1C1679.0 342.8 1679.7 343.4 1680.3 343.4C1680.9 343.5 1681.5 342.5 1682.1 341.3C1682.7 340.2 1683.2 337.7 1683.8 336.5C1684.3 335.2 1684.8 334.2 1685.4 333.7C1686.0 333.1 1686.6 333.0 1687.2 333.3C1687.9 333.5 1688.6 334.3 1689.3 335.1C1690.0 335.8 1690.7 336.9 1691.4 337.9C1692.1 338.8 1692.8 339.7 1693.5 340.6C1694.2 341.6 1694.9 342.6 1695.6 343.4C1696.3 344.2 1697.3 345.2 1697.7 345.5"/>
</g>
<text class="t" transform="translate(1249.5 414.8) scale(1 1.03)" text-anchor="end">0.0</text>
<text class="t" transform="translate(1249.5 353.2) scale(1 1.03)" text-anchor="end">0.2</text>
<text class="t" transform="translate(1249.5 291.5) scale(1 1.03)" text-anchor="end">0.4</text>
<text class="t" transform="translate(1249.5 229.9) scale(1 1.03)" text-anchor="end">0.6</text>
<text class="t" transform="translate(1249.5 168.2) scale(1 1.03)" text-anchor="end">0.8</text>
<text class="t" transform="translate(1249.5 106.6) scale(1 1.03)" text-anchor="end">1.0</text>
<text class="t" transform="translate(1256.5 437.5) scale(1 1.03)" text-anchor="middle">0</text>
<text class="t" transform="translate(1367.1 437.5) scale(1 1.03)" text-anchor="middle">50</text>
<text class="t" transform="translate(1477.8 437.5) scale(1 1.03)" text-anchor="middle">100</text>
<text class="t" transform="translate(1588.4 437.5) scale(1 1.03)" text-anchor="middle">150</text>
<text class="t" transform="translate(1699.0 437.5) scale(1 1.03)" text-anchor="middle">200</text>
<text transform="translate(1481.8 467.5) scale(1 1.03)" text-anchor="middle" textLength="103.3" lengthAdjust="spacing">Epochs</text>
<text transform="translate(1484.0 509.3) scale(1 1.03)" text-anchor="middle" textLength="129.4" lengthAdjust="spacing">Subject 3</text>
<text transform="translate(1194.1 247.7) rotate(-90)" text-anchor="middle" style="font-size:35.0px">Accuracy</text>
</g>
<g id="subject4">
<path d="M106.5 841.5V533.5M106.5 841.5H549.1" stroke="#000" stroke-width="6.0" fill="none"/>
<path d="M106.5 779.9h6.1M106.5 718.3h6.1M106.5 656.7h6.1M106.5 595.1h6.1M106.5 533.5h6.1M217.2 841.5v-6.1M327.8 841.5v-6.1M438.5 841.5v-6.1M549.1 841.5v-6.1" stroke="#000" stroke-width="5.8" fill="none"/>
<clipPath id="cp4"><rect x="106.5" y="523.5" width="452.6" height="318.0"/></clipPath>
<g clip-path="url(#cp4)">
<path class="c" stroke="#ff0000" d="M106.5 841.5C106.6 837.3 106.9 823.4 107.2 816.1C107.5 808.9 107.9 803.4 108.3 798.0C108.8 792.7 109.5 788.5 110.0 784.1C110.5 779.7 111.0 773.3 111.4 771.6C111.8 769.9 111.9 776.2 112.2 774.0C112.6 771.8 113.2 763.6 113.6 758.1C114.1 752.7 114.5 745.7 115.0 741.4C115.5 737.1 116.1 734.2 116.7 732.4C117.3 730.6 117.8 730.2 118.4 730.6C119.0 730.9 119.6 733.4 120.2 734.5C120.8 735.5 121.4 737.2 122.0 737.0C122.6 736.7 123.0 735.4 123.7 733.1C124.3 730.8 125.1 726.1 125.8 723.3C126.4 720.6 127.2 717.8 127.8 716.4C128.5 715.0 129.0 714.9 129.6 715.0C130.3 715.1 131.0 716.4 131.7 717.1C132.5 717.7 133.4 719.1 134.1 718.9C134.8 718.7 135.3 717.7 135.9 715.7C136.5 713.6 137.2 709.8 137.8 706.6C138.5 703.5 139.3 699.5 140.1 696.9C140.8 694.3 141.7 693.3 142.4 691.3C143.2 689.4 144.0 687.4 144.8 685.1C145.6 682.8 146.3 679.4 147.0 677.4C147.8 675.4 148.6 674.0 149.4 673.0C150.2 671.9 151.0 671.9 151.8 671.1C152.6 670.4 153.4 669.8 154.3 668.4C155.1 667.0 156.0 664.8 156.8 662.8C157.6 660.8 158.4 658.4 159.2 656.5C159.9 654.7 160.7 652.8 161.5 651.7C162.3 650.5 163.0 649.7 163.7 649.6C164.4 649.5 165.0 649.9 165.7 651.0C166.4 652.0 167.2 654.6 167.9 655.9C168.6 657.1 169.2 658.6 169.9 658.6C170.5 658.6 171.3 657.8 171.9 655.9C172.6 653.9 173.3 649.9 174.0 646.8C174.8 643.7 175.6 639.2 176.3 637.1C177.0 634.9 177.6 634.5 178.2 634.0C178.8 633.5 179.3 633.5 180.0 634.0C180.7 634.5 181.6 635.7 182.4 637.1C183.2 638.4 184.1 640.7 184.9 641.9C185.7 643.2 186.6 644.5 187.4 644.4C188.2 644.3 189.0 643.0 189.8 641.2C190.5 639.4 191.2 636.0 191.8 633.6C192.5 631.1 193.2 628.1 193.9 626.6C194.6 625.1 195.3 624.3 196.0 624.5C196.7 624.8 197.4 626.5 198.1 628.0C198.8 629.5 199.5 632.5 200.2 633.6C200.9 634.6 201.6 634.5 202.3 634.3C202.9 634.0 203.5 632.5 204.1 632.2C204.7 631.9 205.1 631.6 205.8 632.6C206.4 633.7 207.2 636.8 207.9 638.5C208.6 640.1 209.2 642.4 209.9 642.6C210.6 642.9 211.3 641.7 212.0 639.8C212.7 638.0 213.4 633.9 214.1 631.5C214.8 629.1 215.6 626.4 216.2 625.2C216.9 624.1 217.4 623.9 218.0 624.5C218.6 625.1 219.1 626.6 219.7 628.7C220.2 630.8 220.8 635.0 221.3 637.1C221.9 639.1 222.6 641.0 223.2 641.0C223.8 641.0 224.4 638.6 225.0 637.1C225.6 635.5 226.1 632.3 226.6 631.5C227.2 630.7 227.7 630.6 228.3 632.2C228.9 633.8 229.5 638.7 230.1 641.2C230.8 643.7 231.6 647.1 232.2 647.1C232.8 647.1 233.3 644.8 233.9 641.2C234.5 637.7 235.1 630.0 235.7 625.9C236.3 621.9 236.9 618.7 237.5 616.9C238.1 615.1 238.6 614.9 239.2 615.2C239.7 615.6 240.3 616.5 240.8 619.0C241.4 621.5 242.0 627.2 242.7 630.1C243.3 633.0 243.9 635.2 244.5 636.4C245.0 637.5 245.3 637.6 245.8 636.8C246.4 636.0 247.0 633.8 247.5 631.5C248.1 629.2 248.6 624.8 249.2 623.1C249.8 621.5 250.4 621.1 251.0 621.5C251.6 621.8 252.2 623.2 252.8 625.2C253.4 627.2 254.1 630.9 254.8 633.6C255.4 636.2 256.2 639.5 257.0 641.2C257.7 643.0 258.6 643.7 259.4 644.0C260.1 644.4 260.7 644.2 261.4 643.3C262.1 642.4 262.8 640.9 263.5 638.5C264.2 636.0 264.9 630.8 265.6 628.7C266.3 626.6 267.1 625.2 267.7 625.6C268.3 626.1 268.9 628.4 269.5 631.5C270.1 634.6 270.8 640.8 271.4 644.0C272.1 647.3 272.7 649.7 273.3 651.0C273.8 652.3 274.1 652.4 274.7 651.7C275.2 651.0 275.8 649.7 276.5 646.8C277.1 643.9 277.7 638.7 278.4 634.3C279.1 629.9 279.8 624.1 280.5 620.4C281.2 616.6 281.9 613.7 282.6 612.0C283.3 610.3 284.1 609.9 284.8 610.3C285.5 610.8 286.1 613.2 286.8 614.8C287.4 616.3 288.0 618.8 288.6 619.7C289.2 620.5 289.8 620.9 290.4 620.1C291.0 619.3 291.5 617.3 292.1 614.8C292.6 612.3 293.1 607.3 293.7 605.0C294.3 602.8 294.9 602.0 295.5 601.6C296.2 601.2 296.8 601.9 297.6 602.5C298.4 603.2 299.5 604.6 300.4 605.8C301.3 606.9 302.3 608.2 303.2 609.2C304.1 610.3 304.9 611.5 305.7 612.0C306.4 612.5 307.0 612.8 307.6 612.3C308.3 611.8 308.8 610.0 309.4 609.2C310.1 608.5 310.7 607.1 311.3 607.8C311.8 608.5 312.4 610.4 312.9 613.4C313.5 616.4 314.0 622.3 314.6 625.9C315.2 629.5 315.9 633.3 316.4 635.0C316.9 636.6 317.3 636.7 317.8 635.7C318.3 634.6 319.0 632.2 319.6 628.7C320.2 625.2 320.9 618.7 321.6 614.8C322.2 610.8 322.7 607.3 323.4 605.0C324.0 602.8 324.8 602.0 325.4 601.1C326.1 600.3 326.8 600.5 327.5 600.2C328.2 599.9 329.0 600.1 329.6 599.5C330.3 598.8 330.9 597.4 331.6 596.4C332.3 595.3 333.1 593.2 333.8 593.2C334.4 593.2 335.0 594.9 335.6 596.4C336.3 597.8 336.8 600.7 337.4 602.1C338.0 603.5 338.5 604.3 339.1 604.8C339.7 605.2 340.4 604.6 341.0 604.8C341.6 604.9 342.3 604.5 342.9 605.8C343.5 607.0 343.8 609.6 344.4 612.3C344.9 614.9 345.5 619.3 346.1 621.7C346.7 624.1 347.2 625.6 347.8 626.5C348.4 627.3 349.1 627.2 349.7 626.8C350.3 626.4 351.0 624.7 351.6 624.2C352.2 623.7 352.8 623.7 353.3 623.9C353.9 624.1 354.5 625.2 355.1 625.3C355.7 625.5 356.3 625.6 357.0 624.6C357.6 623.6 358.2 621.5 358.8 619.5C359.4 617.6 360.0 614.5 360.6 613.0C361.2 611.5 361.8 610.9 362.3 610.5C362.9 610.2 363.3 609.9 363.8 610.8C364.3 611.7 364.7 613.4 365.2 615.9C365.8 618.4 366.5 623.5 367.1 626.1C367.7 628.6 368.1 630.5 368.6 631.4C369.0 632.4 369.5 632.8 370.0 631.9C370.5 631.0 371.0 628.8 371.4 626.1C371.9 623.3 372.3 618.1 372.9 615.2C373.5 612.3 374.2 609.9 374.8 608.7C375.4 607.5 376.0 607.6 376.5 607.9C377.1 608.3 377.4 608.4 378.0 610.8C378.5 613.3 379.1 618.3 379.7 622.4C380.3 626.5 381.0 632.2 381.6 635.5C382.1 638.7 382.6 640.8 383.0 642.0C383.5 643.2 384.0 643.3 384.5 642.7C385.0 642.1 385.4 641.0 385.9 638.4C386.5 635.7 387.2 630.5 387.8 626.8C388.4 623.0 389.0 618.7 389.6 615.9C390.1 613.1 390.7 611.3 391.3 610.1C391.9 608.9 392.6 608.7 393.2 608.7C393.8 608.7 394.5 609.2 395.1 610.1C395.7 611.1 396.2 613.1 396.8 614.5C397.4 615.8 397.9 617.2 398.6 618.1C399.2 618.9 399.8 619.5 400.4 619.5C401.1 619.5 401.8 618.2 402.3 618.1C402.9 618.0 403.3 617.1 403.8 618.8C404.3 620.5 404.7 624.2 405.2 628.2C405.7 632.2 406.2 638.5 406.7 642.7C407.2 646.9 407.6 651.4 408.1 653.6C408.6 655.8 409.1 656.3 409.6 656.1C410.1 655.8 410.5 655.6 411.0 652.1C411.5 648.7 412.2 640.9 412.8 635.5C413.3 630.0 413.7 623.5 414.2 619.5C414.7 615.6 415.1 613.1 415.6 611.6C416.2 610.1 416.9 609.9 417.4 610.5C417.9 611.2 418.3 612.6 418.8 615.2C419.3 617.8 419.9 623.4 420.4 626.1C420.9 628.8 421.4 630.5 421.9 631.4C422.3 632.4 422.7 632.6 423.2 631.9C423.6 631.1 424.2 629.3 424.6 626.8C425.1 624.2 425.5 619.7 426.1 616.6C426.6 613.6 427.3 610.4 428.0 608.7C428.6 607.0 429.3 606.9 429.9 606.5C430.5 606.1 430.9 606.1 431.6 606.2C432.2 606.3 433.0 606.5 433.8 606.9C434.5 607.3 435.1 608.0 435.9 608.7C436.7 609.3 437.7 610.2 438.6 610.8C439.4 611.5 440.3 612.2 441.0 612.6C441.7 612.9 442.2 613.2 442.9 613.0C443.6 612.8 444.3 612.4 444.9 611.6C445.6 610.7 446.2 609.1 446.8 607.9C447.4 606.8 448.1 605.5 448.7 604.8C449.3 604.0 449.9 603.7 450.4 603.6C451.0 603.5 451.4 603.2 451.9 604.3C452.4 605.4 452.8 607.1 453.3 610.1C453.8 613.1 454.3 618.0 454.8 622.4C455.3 626.9 455.7 633.3 456.2 636.9C456.7 640.6 457.2 643.1 457.7 644.5C458.1 645.9 458.4 646.0 458.8 645.3C459.3 644.7 459.8 643.4 460.3 640.5C460.8 637.7 461.4 632.1 462.0 628.2C462.6 624.4 463.2 620.3 463.8 617.4C464.4 614.5 465.0 612.1 465.6 610.8C466.3 609.6 466.9 609.3 467.5 609.7C468.1 610.0 468.6 611.2 469.3 613.0C469.9 614.8 470.8 618.1 471.4 620.3C472.1 622.4 472.7 624.8 473.3 626.1C473.9 627.3 474.5 627.9 475.1 627.9C475.6 627.9 476.2 627.3 476.8 626.1C477.4 624.8 478.1 622.2 478.7 620.3C479.3 618.3 480.0 615.7 480.6 614.5C481.2 613.2 481.7 612.9 482.3 612.6C483.0 612.3 483.8 612.7 484.5 612.6C485.2 612.4 485.8 611.8 486.4 611.6C487.0 611.3 487.5 610.8 488.1 611.1C488.7 611.5 489.3 612.2 489.9 613.7C490.5 615.3 491.1 618.6 491.7 620.3C492.4 621.9 493.0 623.5 493.6 623.6C494.2 623.7 494.8 622.6 495.4 621.0C495.9 619.3 496.5 615.8 497.1 613.7C497.7 611.7 498.3 609.8 499.0 608.7C499.7 607.5 500.4 607.2 501.2 606.8C501.9 606.3 502.7 606.2 503.3 606.1C504.0 606.0 504.6 605.8 505.2 606.2C505.8 606.6 506.4 606.9 507.0 608.7C507.5 610.4 508.1 613.4 508.7 616.6C509.3 619.9 510.0 624.1 510.6 628.2C511.2 632.3 511.9 637.5 512.5 641.3C513.1 645.0 513.7 648.8 514.2 650.7C514.7 652.6 515.2 653.1 515.6 652.6C516.1 652.1 516.6 650.4 517.1 647.8C517.6 645.2 518.0 639.7 518.5 636.9C519.1 634.2 519.7 632.2 520.3 631.1C520.9 630.0 521.5 630.4 522.2 630.4C522.8 630.4 523.5 631.3 524.1 631.1C524.7 631.0 525.3 630.9 525.8 629.7C526.3 628.5 526.8 625.8 527.2 623.9C527.7 621.9 528.2 619.2 528.7 618.1C529.2 616.9 529.9 616.7 530.4 616.9C531.0 617.2 531.3 617.8 531.9 619.5C532.4 621.3 533.1 624.9 533.8 627.5C534.4 630.2 535.0 633.6 535.6 635.5C536.3 637.3 536.8 638.3 537.4 638.7C538.0 639.0 538.5 638.5 539.1 637.6C539.7 636.8 540.4 634.4 541.0 633.3C541.6 632.2 542.2 631.3 542.9 630.8C543.6 630.4 544.3 630.4 544.9 630.4C545.6 630.4 546.3 630.7 546.8 630.8C547.4 631.0 548.0 631.3 548.3 631.4"/>
<path class="c" stroke="#00dd00" d="M106.5 841.5C106.6 836.1 106.8 819.2 107.0 809.2C107.2 799.1 107.4 787.9 107.7 781.3C107.9 774.7 108.2 771.8 108.6 769.5C109.0 767.2 109.6 766.8 110.0 767.4C110.5 768.0 110.9 770.7 111.4 773.0C111.9 775.3 112.3 779.5 112.8 781.3C113.3 783.1 114.0 783.8 114.6 783.8C115.2 783.8 115.8 783.1 116.4 781.3C117.0 779.5 117.7 776.9 118.4 773.0C119.1 769.0 119.9 762.0 120.6 757.7C121.3 753.4 121.9 749.6 122.5 747.2C123.2 744.9 123.7 744.5 124.3 743.8C125.0 743.1 125.5 742.7 126.2 743.1C126.8 743.4 127.5 745.1 128.1 745.9C128.7 746.6 129.3 747.5 129.9 747.7C130.5 747.8 131.1 746.8 131.7 746.5C132.3 746.3 132.8 745.7 133.4 746.3C134.0 746.8 134.5 747.4 135.1 750.0C135.6 752.6 136.3 757.6 136.9 761.9C137.5 766.1 138.1 771.6 138.7 775.8C139.3 779.9 140.0 784.6 140.6 786.9C141.3 789.2 141.8 789.4 142.4 789.4C143.1 789.4 143.6 789.2 144.3 786.9C144.9 784.6 145.6 780.2 146.2 775.8C146.8 771.4 147.4 765.0 148.0 760.5C148.6 755.9 149.2 751.1 149.8 748.6C150.4 746.1 151.0 745.9 151.5 745.4C152.0 745.0 152.2 744.5 152.6 745.9C153.0 747.2 153.5 750.1 154.0 753.5C154.5 756.9 154.9 763.4 155.4 766.0C155.9 768.7 156.3 769.7 156.8 769.5C157.3 769.3 157.9 768.2 158.4 764.6C159.0 761.0 159.5 753.5 160.1 747.9C160.7 742.4 161.4 734.8 161.9 731.2C162.5 727.7 163.1 727.6 163.6 726.8C164.1 726.0 164.5 725.9 165.0 726.4C165.5 726.9 166.0 727.2 166.5 729.8C167.1 732.5 167.6 737.5 168.2 742.4C168.7 747.2 169.4 755.0 169.9 759.1C170.4 763.1 170.7 765.1 171.2 766.7C171.8 768.4 172.5 768.5 173.1 769.1C173.7 769.7 174.3 768.9 174.9 770.2C175.4 771.5 176.0 774.6 176.5 777.2C177.1 779.7 177.6 783.5 178.2 785.5C178.8 787.5 179.5 788.4 180.0 789.0C180.6 789.6 180.9 789.8 181.4 789.0C181.9 788.2 182.5 786.4 183.1 784.1C183.7 781.8 184.3 777.4 184.9 775.1C185.5 772.8 186.1 771.1 186.6 770.2C187.1 769.3 187.4 768.9 187.9 769.5C188.5 770.1 189.2 772.4 189.8 773.7C190.4 775.0 191.0 777.4 191.6 777.4C192.2 777.4 192.7 776.0 193.2 773.7C193.8 771.3 194.4 765.8 194.9 763.2C195.4 760.7 195.8 759.3 196.3 758.4C196.8 757.5 197.2 757.3 197.7 758.0C198.2 758.6 198.6 760.3 199.1 762.5C199.6 764.8 199.9 769.6 200.5 771.6C201.0 773.6 201.7 774.6 202.3 774.6C202.9 774.6 203.5 772.4 204.1 771.6C204.7 770.8 205.2 769.8 205.8 769.9C206.3 770.0 206.9 771.0 207.4 772.3C208.0 773.6 208.6 776.7 209.2 777.9C209.9 779.0 210.4 779.4 211.1 779.2C211.7 779.1 212.4 777.7 213.0 777.2C213.6 776.6 214.2 775.9 214.8 775.8C215.4 775.7 216.0 775.9 216.6 776.5C217.2 777.0 217.9 778.3 218.6 779.2C219.2 780.2 219.8 781.5 220.4 782.0C221.0 782.6 221.6 782.8 222.2 782.5C222.8 782.1 223.5 781.3 224.1 779.9C224.8 778.6 225.3 776.7 225.9 774.4C226.6 772.1 227.3 768.9 228.0 766.0C228.7 763.1 229.4 759.5 230.1 757.0C230.8 754.4 231.6 752.1 232.2 750.7C232.8 749.3 233.4 749.0 233.9 748.6C234.4 748.3 234.7 747.9 235.3 748.6C235.8 749.3 236.5 750.1 237.1 752.8C237.7 755.5 238.3 760.6 238.9 764.6C239.5 768.7 240.0 773.7 240.6 777.2C241.1 780.6 241.6 783.8 242.2 785.5C242.8 787.2 243.5 787.3 244.0 787.6C244.6 787.9 244.8 787.8 245.4 787.2C246.0 786.6 246.8 785.0 247.5 784.1C248.2 783.3 248.9 782.4 249.6 782.0C250.3 781.6 251.0 781.9 251.7 781.8C252.4 781.6 253.1 782.1 253.8 781.3C254.4 780.6 255.0 779.0 255.6 777.2C256.2 775.3 256.9 772.2 257.5 770.2C258.2 768.2 259.0 766.3 259.6 765.3C260.3 764.4 260.9 764.2 261.4 764.4C262.0 764.5 262.5 764.7 263.1 766.0C263.7 767.4 264.3 770.0 264.9 772.3C265.5 774.6 266.1 777.9 266.7 779.9C267.3 782.0 268.0 783.5 268.7 784.4C269.3 785.3 269.8 785.2 270.5 785.2C271.1 785.2 271.9 784.7 272.6 784.4C273.3 784.1 274.0 783.6 274.7 783.4C275.3 783.3 275.8 783.2 276.5 783.4C277.1 783.7 277.7 784.3 278.4 784.8C279.1 785.3 279.9 786.2 280.6 786.6C281.4 787.0 282.3 787.2 283.0 787.2C283.8 787.1 284.4 786.7 285.1 786.2C285.8 785.7 286.5 784.8 287.2 784.4C287.8 784.0 288.4 783.7 289.0 783.8C289.6 784.0 290.3 784.8 290.9 785.5C291.6 786.2 292.1 787.5 292.8 788.0C293.4 788.5 294.1 788.8 294.8 788.6C295.5 788.4 296.2 787.6 296.9 786.9C297.6 786.2 298.3 785.0 299.0 784.4C299.7 783.8 300.4 783.3 301.1 783.0C301.8 782.7 302.4 782.7 303.2 782.7C304.0 782.8 304.8 783.1 305.7 783.4C306.6 783.8 307.5 784.4 308.5 784.8C309.4 785.2 310.5 785.6 311.5 785.8C312.6 786.0 314.0 786.2 315.0 786.2C316.1 786.2 316.9 786.0 317.8 785.8C318.7 785.6 319.4 785.0 320.2 784.8C320.9 784.6 321.6 784.6 322.4 784.8C323.2 785.0 323.9 785.5 324.8 785.8C325.6 786.1 326.4 786.4 327.5 786.6C328.7 786.8 330.4 787.1 331.6 786.9C332.7 786.7 333.6 786.1 334.5 785.5C335.4 784.8 336.3 783.7 337.1 783.0C337.9 782.3 338.8 781.6 339.6 781.1C340.3 780.7 341.0 780.3 341.7 780.4C342.5 780.5 343.1 781.0 343.9 781.6C344.7 782.1 345.5 783.1 346.4 783.6C347.2 784.1 348.1 784.5 349.0 784.8C349.9 785.0 350.9 785.0 351.9 785.2C352.8 785.4 353.8 785.7 354.8 785.8C355.7 785.9 356.8 786.0 357.7 785.8C358.6 785.6 359.4 785.1 360.3 784.5C361.1 783.8 361.9 782.7 362.8 781.9C363.6 781.1 364.4 780.2 365.2 779.7C366.0 779.1 366.8 778.7 367.5 778.7C368.3 778.6 368.9 778.8 369.6 779.2C370.2 779.7 370.8 780.6 371.4 781.1C372.1 781.6 372.9 782.0 373.6 782.1C374.3 782.3 375.1 782.1 375.8 781.9C376.5 781.6 377.1 780.9 377.7 780.4C378.3 779.9 378.8 779.2 379.4 779.0C380.0 778.8 380.6 778.8 381.2 779.2C381.7 779.7 382.1 780.5 382.6 781.9C383.2 783.3 383.9 786.0 384.5 787.6C385.1 789.3 385.8 790.9 386.4 791.7C386.9 792.5 387.3 792.7 387.8 792.3C388.4 791.9 389.0 790.6 389.6 789.1C390.1 787.6 390.7 785.0 391.3 783.3C391.9 781.6 392.6 780.0 393.2 779.0C393.8 777.9 394.4 777.2 395.1 776.8C395.7 776.3 396.4 776.4 397.1 776.4C397.8 776.3 398.4 776.8 399.0 776.4C399.6 775.9 400.3 774.8 400.9 773.9C401.5 773.0 402.0 771.6 402.6 771.0C403.2 770.4 403.8 769.9 404.4 770.3C404.9 770.6 405.3 771.2 405.8 773.2C406.3 775.1 406.8 779.1 407.2 781.9C407.7 784.6 408.2 787.9 408.7 789.8C409.2 791.7 409.7 792.6 410.1 793.2C410.6 793.8 411.0 793.9 411.6 793.5C412.1 793.0 412.8 791.5 413.5 790.5C414.2 789.6 414.9 788.5 415.6 787.6C416.4 786.8 417.3 786.1 418.3 785.5C419.2 784.9 420.2 784.3 421.2 784.0C422.1 783.7 423.1 783.5 424.1 783.6C425.0 783.7 426.0 784.0 427.0 784.5C427.9 784.9 428.9 785.5 429.9 786.2C430.8 786.9 431.9 787.9 432.8 788.4C433.6 788.9 434.4 789.2 435.2 789.1C436.0 789.0 436.7 788.1 437.4 787.6C438.1 787.2 438.8 786.4 439.6 786.2C440.3 786.0 441.0 786.4 441.7 786.5C442.5 786.6 443.3 787.2 443.9 786.9C444.5 786.6 444.9 786.0 445.4 784.8C445.8 783.5 446.3 781.1 446.8 779.7C447.3 778.2 448.0 776.8 448.6 776.1C449.1 775.3 449.6 775.1 450.1 775.3C450.7 775.6 451.3 776.5 451.9 777.5C452.5 778.5 453.0 780.0 453.6 781.1C454.2 782.2 454.8 783.4 455.5 784.0C456.2 784.6 457.0 784.7 457.7 784.8C458.4 784.8 459.1 784.6 459.9 784.5C460.6 784.3 461.3 784.0 462.0 784.0C462.8 784.1 463.5 784.6 464.2 784.8C464.9 784.9 465.5 785.1 466.1 784.8C466.7 784.4 467.2 783.4 467.8 782.6C468.4 781.8 469.0 780.6 469.6 780.1C470.1 779.6 470.6 779.4 471.2 779.7C471.7 779.9 472.3 780.8 472.9 781.6C473.5 782.3 474.2 783.7 474.8 784.0C475.4 784.4 475.9 784.2 476.5 783.6C477.1 783.0 477.7 781.1 478.3 780.4C478.8 779.7 479.3 779.1 479.9 779.2C480.4 779.4 481.0 780.2 481.6 781.1C482.2 782.0 482.8 783.9 483.5 784.8C484.1 785.6 484.8 786.1 485.5 786.2C486.2 786.3 487.0 785.8 487.8 785.5C488.6 785.2 489.5 784.5 490.3 784.5C491.1 784.4 491.9 784.9 492.8 785.0C493.6 785.2 494.5 785.6 495.4 785.5C496.2 785.4 497.1 784.9 498.0 784.5C498.8 784.0 499.6 783.1 500.4 782.6C501.3 782.1 502.1 781.5 502.9 781.6C503.7 781.6 504.4 782.3 505.2 783.0C506.0 783.7 506.9 785.2 507.7 785.9C508.5 786.6 509.4 787.4 510.1 787.4C510.9 787.3 511.4 786.4 512.0 785.5C512.7 784.6 513.3 782.9 513.9 782.1C514.5 781.4 515.1 781.0 515.6 781.1C516.2 781.3 516.8 782.3 517.4 783.0C518.0 783.7 518.7 785.1 519.3 785.5C519.8 785.9 520.2 785.9 520.7 785.5C521.3 785.1 522.0 783.9 522.6 783.0C523.3 782.2 523.9 781.0 524.6 780.4C525.4 779.9 526.2 779.9 527.0 779.7C527.8 779.5 528.6 779.4 529.4 779.2C530.2 779.1 530.9 779.0 531.6 778.7C532.3 778.3 533.0 777.6 533.8 777.2C534.5 776.8 535.2 776.5 535.9 776.4C536.7 776.2 537.4 776.2 538.1 776.5C538.8 776.8 539.3 777.3 540.0 778.2C540.7 779.1 541.3 780.7 542.0 781.9C542.8 783.1 543.6 784.5 544.4 785.5C545.1 786.4 545.8 787.1 546.4 787.6C547.0 788.2 547.6 788.6 547.8 788.8"/>
</g>
<text class="t" transform="translate(99.5 851.6) scale(1 1.03)" text-anchor="end">0.0</text>
<text class="t" transform="translate(99.5 790.0) scale(1 1.03)" text-anchor="end">0.2</text>
<text class="t" transform="translate(99.5 728.4) scale(1 1.03)" text-anchor="end">0.4</text>
<text class="t" transform="translate(99.5 666.8) scale(1 1.03)" text-anchor="end">0.6</text>
<text class="t" transform="translate(99.5 605.2) scale(1 1.03)" text-anchor="end">0.8</text>
<text class="t" transform="translate(99.5 543.6) scale(1 1.03)" text-anchor="end">1.0</text>
<text class="t" transform="translate(106.5 874.3) scale(1 1.03)" text-anchor="middle">0</text>
<text class="t" transform="translate(217.2 874.3) scale(1 1.03)" text-anchor="middle">50</text>
<text class="t" transform="translate(327.8 874.3) scale(1 1.03)" text-anchor="middle">100</text>
<text class="t" transform="translate(438.5 874.3) scale(1 1.03)" text-anchor="middle">150</text>
<text class="t" transform="translate(549.1 874.3) scale(1 1.03)" text-anchor="middle">200</text>
<text transform="translate(328.3 905.8) scale(1 1.03)" text-anchor="middle" textLength="103.3" lengthAdjust="spacing">Epochs</text>
<text transform="translate(330.7 944.1) scale(1 1.03)" text-anchor="middle" textLength="129.4" lengthAdjust="spacing">Subject 4</text>
<text transform="translate(28.7 680.9) rotate(-90)" text-anchor="middle" style="font-size:35.0px">Accuracy</text>
</g>
<g id="subject5">
<path d="M675.6 841.4V533.4M675.6 841.4H1118.5" stroke="#000" stroke-width="6.0" fill="none"/>
<path d="M675.6 779.8h6.1M675.6 718.2h6.1M675.6 656.6h6.1M675.6 595.0h6.1M675.6 533.4h6.1M786.3 841.4v-6.1M897.0 841.4v-6.1M1007.8 841.4v-6.1M1118.5 841.4v-6.1" stroke="#000" stroke-width="5.8" fill="none"/>
<clipPath id="cp5"><rect x="675.6" y="523.4" width="452.9" height="318.0"/></clipPath>
<g clip-path="url(#cp5)">
<path class="c" stroke="#ff0000" d="M675.6 841.4C675.7 835.2 676.0 812.9 676.3 804.0C676.5 795.1 676.6 792.6 677.0 788.1C677.3 783.6 677.8 779.2 678.4 777.0C678.9 774.8 679.6 775.1 680.4 774.9C681.3 774.7 682.3 775.4 683.2 775.6C684.1 775.8 685.1 775.9 686.0 775.9C686.9 775.9 687.9 776.0 688.8 775.6C689.6 775.2 690.4 774.4 691.1 773.5C691.9 772.6 692.6 770.9 693.4 770.0C694.1 769.2 695.0 768.7 695.8 768.6C696.5 768.6 697.1 769.4 697.8 769.8C698.5 770.1 699.2 770.7 699.9 770.7C700.6 770.7 701.3 770.0 702.0 769.8C702.7 769.5 703.5 769.2 704.1 769.4C704.8 769.5 705.3 770.0 705.9 770.7C706.5 771.4 707.2 772.6 707.9 773.5C708.5 774.4 709.4 775.1 710.1 776.3C710.8 777.5 711.4 779.0 712.0 780.5C712.7 782.0 713.2 784.1 713.8 785.4C714.4 786.6 715.1 787.4 715.6 787.9C716.2 788.3 716.8 788.5 717.3 787.9C717.8 787.2 718.3 786.2 718.7 784.0C719.1 781.7 719.4 777.7 719.8 774.2C720.2 770.7 720.6 766.0 721.1 763.1C721.5 760.2 722.1 758.0 722.6 756.8C723.1 755.6 723.7 755.8 724.3 755.9C724.9 755.9 725.7 756.9 726.4 757.2C727.1 757.6 727.8 758.2 728.5 757.8C729.1 757.4 729.8 756.4 730.5 754.7C731.2 753.1 731.9 750.3 732.6 747.8C733.3 745.2 734.0 741.9 734.7 739.4C735.4 737.0 736.1 734.7 736.8 733.2C737.5 731.7 738.2 730.8 738.9 730.4C739.5 729.9 740.1 729.8 740.7 730.4C741.3 731.0 742.0 732.6 742.6 733.9C743.3 735.1 744.2 736.9 744.9 738.0C745.6 739.1 746.2 740.1 746.8 740.5C747.4 741.0 748.0 741.1 748.6 740.8C749.3 740.5 750.0 739.9 750.7 738.7C751.4 737.6 752.1 735.8 752.8 733.9C753.5 731.9 754.2 728.9 754.9 726.9C755.6 724.9 756.3 723.1 757.0 722.0C757.7 720.9 758.4 720.5 759.1 720.4C759.7 720.2 760.2 720.4 760.7 721.1C761.3 721.7 761.9 723.0 762.5 724.1C763.2 725.2 763.9 726.9 764.6 727.6C765.3 728.3 766.1 728.8 766.7 728.3C767.4 727.8 767.9 726.9 768.5 724.8C769.1 722.7 769.6 719.1 770.2 715.8C770.8 712.4 771.3 707.8 771.9 704.6C772.5 701.5 773.1 698.6 773.7 697.0C774.3 695.4 774.9 694.8 775.5 695.2C776.1 695.5 776.6 697.1 777.2 699.1C777.7 701.0 778.2 705.1 778.8 706.7C779.4 708.4 780.0 709.1 780.6 709.1C781.2 709.1 781.8 708.4 782.5 706.7C783.1 705.1 783.8 702.0 784.4 699.1C785.0 696.2 785.6 692.8 786.2 689.3C786.8 685.9 787.4 682.1 788.0 678.2C788.6 674.2 789.1 669.6 789.7 665.7C790.2 661.7 790.8 657.3 791.4 654.5C791.9 651.7 792.6 650.2 793.2 649.0C793.8 647.7 794.3 647.3 795.0 646.9C795.7 646.5 796.5 646.4 797.3 646.5C798.2 646.5 799.2 646.9 800.1 647.3C801.0 647.7 802.0 648.4 802.9 648.7C803.8 649.0 804.9 649.3 805.7 649.2C806.5 649.2 807.0 648.8 807.8 648.3C808.6 647.7 809.5 646.5 810.6 645.9C811.6 645.3 812.9 645.1 814.0 644.5C815.2 643.9 816.4 643.2 817.5 642.3C818.7 641.4 820.0 640.3 821.0 639.2C822.0 638.1 823.0 637.1 823.8 635.8C824.6 634.4 825.2 632.4 825.9 630.9C826.6 629.4 827.3 627.6 828.0 626.7C828.7 625.8 829.3 625.8 830.0 625.7C830.7 625.6 831.4 626.1 832.1 626.0C832.8 625.9 833.5 625.8 834.2 625.3C834.9 624.8 835.6 623.7 836.3 623.2C837.0 622.8 837.7 622.3 838.4 622.5C839.1 622.8 839.8 622.8 840.5 624.6C841.2 626.5 841.9 630.8 842.6 633.7C843.3 636.6 844.0 640.1 844.7 642.0C845.4 643.9 846.2 644.6 846.7 645.1C847.3 645.5 847.5 645.3 848.1 644.8C848.7 644.3 849.5 643.0 850.2 642.3C850.9 641.5 851.5 641.1 852.3 640.3C853.1 639.6 854.0 638.9 854.8 637.8C855.6 636.7 856.4 635.2 857.2 633.7C858.0 632.2 858.7 630.3 859.5 628.8C860.4 627.3 861.3 625.6 862.0 624.6C862.8 623.6 863.4 623.2 864.1 622.8C864.9 622.4 865.7 622.3 866.5 622.2C867.3 622.2 868.0 622.4 868.7 622.5C869.5 622.6 870.4 623.0 871.1 622.8C871.8 622.6 872.6 621.9 873.2 621.1C873.8 620.3 874.3 618.7 874.9 618.1C875.4 617.5 876.1 617.3 876.7 617.6C877.2 618.0 877.8 618.9 878.3 620.4C878.9 621.9 879.6 625.5 880.1 626.7C880.7 627.9 881.2 628.2 881.8 627.8C882.4 627.5 883.0 625.8 883.6 624.6C884.2 623.5 884.8 621.6 885.4 620.9C886.0 620.2 886.5 620.0 887.1 620.4C887.7 620.8 888.4 622.1 889.2 623.2C889.9 624.4 890.7 626.1 891.6 627.4C892.4 628.7 893.4 629.8 894.3 630.9C895.3 631.9 896.2 632.9 897.1 633.7C898.0 634.4 898.9 635.1 899.6 635.3C900.4 635.6 901.1 635.6 901.7 635.3C902.3 635.1 902.7 634.8 903.4 633.7C904.0 632.6 904.7 630.4 905.4 628.8C906.1 627.2 906.8 625.0 907.5 623.9C908.2 622.8 909.0 622.5 909.6 622.2C910.2 622.0 910.5 622.0 911.0 622.5C911.5 623.0 912.2 624.4 912.8 625.3C913.4 626.2 914.1 627.5 914.8 628.1C915.4 628.7 916.0 629.0 916.6 628.8C917.2 628.6 917.8 627.7 918.4 626.7C919.0 625.7 919.5 623.5 920.0 622.5C920.6 621.6 921.2 621.0 921.7 620.9C922.2 620.7 922.6 620.7 923.1 621.4C923.6 622.2 924.0 623.2 924.5 625.3C925.0 627.5 925.7 631.5 926.3 634.4C926.9 637.2 927.5 640.7 928.1 642.7C928.7 644.7 929.3 645.8 929.8 646.5C930.3 647.1 930.7 647.2 931.2 646.5C931.6 645.7 932.1 644.3 932.6 642.0C933.1 639.8 933.7 635.3 934.2 633.0C934.8 630.6 935.4 629.1 936.0 628.1C936.7 627.1 937.3 627.3 938.1 627.0C939.0 626.7 940.0 626.7 940.9 626.4C941.9 626.1 942.8 625.6 943.7 625.3C944.6 625.0 945.7 624.7 946.5 624.6C947.3 624.5 947.9 624.5 948.6 624.9C949.3 625.2 950.0 625.7 950.7 626.7C951.3 627.7 951.8 629.1 952.3 630.9C952.9 632.6 953.5 635.1 954.1 637.1C954.8 639.2 955.4 641.6 956.0 643.4C956.5 645.2 957.1 646.8 957.6 647.9C958.2 648.9 958.8 649.4 959.3 649.7C959.8 650.0 960.2 650.2 960.7 649.7C961.2 649.1 961.6 647.6 962.1 646.2C962.5 644.8 963.0 642.5 963.5 641.3C963.9 640.1 964.4 639.3 964.9 639.0C965.3 638.6 965.8 638.5 966.2 639.2C966.7 640.0 967.2 642.2 967.6 643.4C968.1 644.6 968.6 646.0 969.0 646.5C969.5 647.0 969.8 647.2 970.1 646.5C970.5 645.7 970.9 644.4 971.3 642.0C971.7 639.6 972.1 635.2 972.5 632.3C973.0 629.4 973.4 626.4 973.9 624.6C974.4 622.8 974.9 621.9 975.4 621.4C976.0 620.9 976.6 620.8 977.1 621.4C977.6 622.1 978.0 623.0 978.5 625.3C979.0 627.6 979.6 632.2 980.2 635.0C980.8 637.9 981.4 641.1 982.0 642.7C982.5 644.3 982.9 644.3 983.4 644.5C983.8 644.7 984.3 645.1 984.8 644.1C985.2 643.1 985.7 641.0 986.1 638.5C986.6 636.1 987.0 631.9 987.5 629.5C988.1 627.0 988.8 625.0 989.4 623.9C989.9 622.8 990.5 623.0 991.0 622.9C991.5 622.9 991.9 622.8 992.4 623.6C992.9 624.5 993.5 626.7 994.1 628.1C994.7 629.5 995.3 631.3 995.9 632.0C996.5 632.6 997.0 632.6 997.6 632.0C998.1 631.3 998.6 629.3 999.1 628.1C999.6 626.9 1000.2 625.2 1000.8 624.6C1001.3 624.0 1001.9 624.0 1002.4 624.3C1003.0 624.6 1003.6 625.4 1004.2 626.4C1004.9 627.5 1005.6 629.7 1006.3 630.6C1007.0 631.5 1007.8 631.8 1008.4 632.0C1009.1 632.2 1009.6 632.0 1010.2 631.6C1010.9 631.1 1011.5 630.3 1012.2 629.2C1012.9 628.2 1013.7 626.1 1014.4 625.3C1015.1 624.5 1015.7 624.2 1016.4 624.3C1017.0 624.4 1017.6 624.9 1018.2 626.0C1018.8 627.1 1019.3 629.4 1020.0 630.9C1020.6 632.4 1021.3 634.2 1021.9 635.0C1022.5 635.9 1023.1 636.3 1023.7 636.2C1024.3 636.0 1025.0 635.6 1025.5 634.4C1026.1 633.1 1026.7 631.0 1027.2 628.8C1027.8 626.6 1028.3 623.1 1028.9 621.1C1029.5 619.2 1030.1 618.0 1030.7 617.2C1031.3 616.5 1031.9 616.3 1032.5 616.5C1033.1 616.8 1033.7 617.4 1034.2 618.6C1034.7 619.9 1035.0 622.7 1035.6 623.9C1036.1 625.1 1036.7 625.9 1037.2 626.0C1037.8 626.1 1038.4 625.2 1039.0 624.6C1039.7 624.0 1040.5 623.0 1041.1 622.5C1041.8 622.1 1042.2 621.7 1042.8 621.8C1043.4 621.9 1044.3 622.5 1045.0 623.2C1045.8 623.9 1046.6 625.3 1047.4 626.0C1048.1 626.7 1048.8 627.2 1049.5 627.4C1050.2 627.6 1050.9 627.9 1051.6 627.4C1052.3 626.9 1053.0 625.5 1053.7 624.6C1054.3 623.7 1055.1 622.4 1055.7 621.8C1056.4 621.3 1056.9 621.2 1057.5 621.4C1058.2 621.6 1058.8 622.2 1059.5 623.2C1060.2 624.2 1061.0 626.2 1061.7 627.4C1062.4 628.6 1063.0 629.9 1063.7 630.6C1064.3 631.3 1064.9 631.5 1065.5 631.6C1066.1 631.6 1066.7 631.6 1067.3 630.9C1067.9 630.2 1068.6 628.5 1069.2 627.4C1069.9 626.3 1070.4 624.9 1071.0 624.3C1071.7 623.8 1072.3 623.6 1072.9 623.9C1073.4 624.2 1073.9 624.7 1074.5 626.0C1075.2 627.3 1075.9 629.9 1076.6 631.6C1077.3 633.3 1078.0 635.2 1078.7 636.2C1079.4 637.2 1080.1 637.7 1080.8 637.6C1081.4 637.4 1082.0 636.3 1082.6 635.0C1083.2 633.8 1083.9 631.3 1084.5 630.2C1085.2 629.0 1085.8 628.3 1086.4 628.1C1086.9 627.9 1087.2 628.1 1087.8 628.8C1088.3 629.5 1088.9 631.0 1089.6 632.3C1090.2 633.5 1090.8 635.1 1091.5 636.4C1092.2 637.8 1093.0 639.6 1093.7 640.3C1094.4 641.1 1095.1 641.2 1095.7 640.9C1096.3 640.6 1096.9 640.0 1097.5 638.5C1098.1 637.1 1098.7 634.4 1099.3 632.3C1099.9 630.2 1100.6 627.6 1101.2 626.0C1101.9 624.4 1102.4 623.4 1103.1 622.8C1103.7 622.2 1104.4 622.1 1105.1 622.2C1105.8 622.4 1106.5 623.0 1107.2 623.6C1108.0 624.3 1108.8 625.3 1109.6 626.0C1110.4 626.7 1111.3 627.6 1112.1 628.1C1112.9 628.6 1113.8 629.0 1114.6 629.2C1115.4 629.4 1116.6 629.4 1117.0 629.5"/>
<path class="c" stroke="#00dd00" d="M675.6 841.4C675.7 835.2 676.0 812.6 676.3 804.0C676.5 795.4 676.7 793.7 677.0 789.5C677.3 785.4 677.6 781.4 678.1 779.1C678.6 776.8 679.2 776.5 680.0 775.9C680.9 775.3 682.1 775.8 683.2 775.6C684.3 775.4 685.7 775.3 686.7 774.9C687.7 774.6 688.6 773.9 689.5 773.5C690.4 773.2 691.2 772.6 692.0 772.8C692.8 773.1 693.5 774.2 694.4 774.9C695.2 775.6 696.2 776.5 697.1 777.0C698.1 777.5 699.0 777.7 699.9 777.7C700.8 777.7 701.8 777.0 702.7 776.7C703.6 776.4 704.6 776.1 705.5 775.9C706.4 775.7 707.3 775.6 708.3 775.6C709.2 775.6 710.1 775.8 711.0 776.0C712.0 776.3 712.9 776.7 713.8 777.0C714.8 777.3 715.8 777.9 716.6 778.1C717.4 778.3 717.9 778.3 718.7 778.1C719.5 777.9 720.4 777.4 721.2 777.0C722.0 776.6 722.8 776.3 723.6 775.6C724.3 774.9 725.0 774.2 725.7 772.8C726.4 771.4 727.1 768.9 727.8 767.3C728.4 765.6 729.1 764.1 729.8 763.1C730.5 762.1 731.3 761.7 731.9 761.4C732.6 761.1 733.0 761.2 733.7 761.4C734.4 761.6 735.3 762.2 736.1 762.8C736.9 763.4 737.7 764.2 738.5 765.2C739.2 766.1 740.0 767.6 740.7 768.6C741.4 769.7 742.0 770.8 742.6 771.4C743.3 772.0 743.8 772.4 744.5 772.1C745.1 771.9 745.6 770.9 746.3 770.0C746.9 769.2 747.6 767.8 748.2 767.3C748.8 766.7 749.4 766.4 750.0 766.6C750.7 766.7 751.4 767.6 752.1 768.4C752.8 769.2 753.5 770.4 754.2 771.4C754.9 772.5 755.6 773.7 756.3 774.5C757.0 775.3 757.7 775.9 758.4 776.3C759.1 776.7 759.8 776.3 760.5 777.0C761.1 777.7 761.5 779.1 762.1 780.5C762.7 781.9 763.3 784.4 763.9 785.4C764.5 786.3 765.2 786.9 765.8 786.5C766.3 786.0 766.9 785.5 767.4 782.6C767.9 779.6 768.3 773.1 768.8 768.6C769.3 764.2 769.7 758.9 770.2 756.1C770.7 753.3 771.1 752.6 771.6 752.0C772.1 751.3 772.5 751.4 773.0 752.0C773.4 752.5 773.9 754.6 774.4 755.4C774.8 756.2 775.3 757.4 775.8 756.8C776.3 756.2 776.9 753.8 777.4 752.0C778.0 750.1 778.7 747.0 779.2 745.7C779.8 744.4 780.4 744.1 780.9 744.3C781.5 744.5 781.9 744.9 782.5 747.1C783.0 749.3 783.6 753.5 784.1 757.5C784.7 761.6 785.2 768.0 785.8 771.4C786.4 774.9 787.1 777.2 787.6 778.4C788.1 779.6 788.5 779.8 789.0 778.7C789.5 777.5 789.9 774.6 790.4 771.4C790.8 768.3 791.3 762.2 791.8 759.6C792.2 757.1 792.7 755.8 793.2 756.1C793.6 756.5 794.1 758.9 794.6 761.7C795.0 764.5 795.5 770.5 796.0 772.8C796.4 775.2 796.9 776.1 797.3 775.6C797.8 775.1 798.2 773.1 798.7 770.0C799.2 767.0 799.9 760.4 800.4 757.5C800.9 754.7 801.4 753.8 801.9 753.1C802.4 752.3 802.9 752.4 803.3 753.1C803.8 753.7 804.2 755.2 804.7 756.8C805.2 758.5 805.8 761.6 806.4 763.1C806.9 764.6 807.5 765.8 808.0 765.9C808.6 766.0 809.3 764.5 809.9 763.8C810.5 763.1 811.1 762.0 811.7 761.7C812.2 761.3 812.8 761.1 813.3 761.7C813.9 762.3 814.4 763.3 815.0 765.2C815.6 767.0 816.2 771.0 816.8 772.8C817.4 774.7 818.1 775.8 818.6 776.3C819.2 776.8 819.5 777.4 820.0 775.9C820.5 774.4 821.1 771.0 821.7 767.3C822.2 763.5 822.9 756.6 823.4 753.3C823.9 750.1 824.3 748.8 824.8 747.8C825.2 746.7 825.6 746.6 826.1 747.1C826.7 747.5 827.3 749.1 828.0 750.6C828.6 752.1 829.3 754.0 830.0 756.1C830.8 758.2 831.7 760.9 832.5 763.1C833.4 765.3 834.2 767.8 834.9 769.4C835.7 770.9 836.4 772.1 837.0 772.5C837.6 773.0 838.1 773.0 838.7 772.1C839.2 771.2 839.8 769.7 840.5 767.3C841.1 764.8 841.9 760.4 842.6 757.5C843.3 754.6 844.0 751.4 844.7 749.9C845.3 748.4 845.8 747.9 846.3 748.5C846.9 749.1 847.6 751.1 848.1 753.3C848.7 755.5 849.2 760.0 849.8 761.7C850.4 763.4 851.0 763.7 851.6 763.4C852.2 763.0 852.8 760.8 853.4 759.6C854.0 758.4 854.5 756.8 855.1 756.1C855.6 755.5 856.2 755.2 856.8 755.9C857.3 756.5 858.0 758.4 858.6 760.3C859.2 762.2 859.8 765.7 860.4 767.3C861.0 768.8 861.5 770.0 862.0 769.8C862.6 769.5 863.1 768.4 863.7 765.9C864.3 763.4 864.9 758.1 865.5 754.7C866.1 751.4 866.7 747.4 867.2 745.7C867.7 744.0 868.2 744.0 868.7 744.3C869.2 744.6 869.6 745.3 870.1 747.8C870.6 750.2 871.2 756.1 871.8 758.9C872.3 761.7 872.9 763.6 873.5 764.5C874.0 765.4 874.7 764.4 875.3 764.2C875.9 764.0 876.5 762.9 877.1 763.1C877.7 763.2 878.2 764.2 878.8 765.2C879.3 766.1 879.8 768.0 880.4 768.6C881.0 769.3 881.6 769.7 882.2 769.4C882.9 769.0 883.6 767.4 884.3 766.6C885.0 765.7 885.7 764.8 886.4 764.5C887.1 764.1 887.8 764.4 888.5 764.5C889.2 764.6 889.9 765.3 890.6 765.2C891.3 765.1 892.0 764.6 892.7 763.8C893.4 763.0 894.1 761.4 894.8 760.3C895.5 759.2 896.2 757.9 896.8 757.2C897.5 756.6 897.9 756.1 898.5 756.4C899.1 756.7 899.7 757.4 900.3 758.9C900.9 760.4 901.6 763.7 902.1 765.2C902.7 766.6 903.1 767.3 903.6 767.5C904.2 767.8 904.9 767.1 905.4 766.6C906.0 766.0 906.4 764.7 906.8 764.2C907.3 763.7 907.8 763.3 908.2 763.8C908.7 764.3 909.1 765.6 909.6 767.3C910.1 769.0 910.8 772.3 911.4 773.9C912.0 775.6 912.5 776.7 913.1 777.3C913.6 777.9 914.2 778.1 914.8 777.7C915.3 777.3 916.0 776.2 916.6 774.9C917.2 773.6 917.8 771.3 918.4 770.0C919.0 768.8 919.5 767.8 920.0 767.3C920.6 766.8 920.9 766.6 921.4 767.0C922.0 767.4 922.6 768.8 923.1 769.8C923.6 770.7 924.0 772.0 924.5 772.5C925.0 773.1 925.4 773.2 925.9 772.8C926.4 772.4 927.1 771.4 927.7 770.0C928.3 768.6 928.9 766.1 929.5 764.5C930.1 762.8 930.8 761.1 931.5 760.0C932.1 759.0 932.7 758.4 933.3 758.2C933.8 758.0 934.1 757.9 934.7 758.6C935.2 759.3 935.8 760.8 936.3 762.4C936.9 763.9 937.3 766.6 937.9 768.0C938.4 769.4 938.9 770.3 939.5 770.7C940.2 771.1 940.9 770.6 941.6 770.3C942.3 770.1 943.0 769.4 943.7 769.4C944.4 769.3 945.1 769.7 945.8 770.0C946.5 770.3 947.1 770.9 947.9 771.2C948.7 771.4 949.7 771.5 950.7 771.7C951.6 771.9 952.6 772.1 953.5 772.1C954.3 772.2 954.9 772.5 955.5 772.1C956.2 771.8 956.8 770.9 957.4 770.0C957.9 769.2 958.5 767.8 959.0 767.3C959.6 766.7 960.2 766.6 960.7 766.6C961.2 766.6 961.5 766.5 962.1 767.3C962.6 768.0 963.2 769.9 963.9 771.2C964.5 772.4 965.3 774.1 966.0 774.9C966.7 775.7 967.4 775.8 968.1 775.9C968.8 776.0 969.5 775.8 970.1 775.3C970.8 774.8 971.6 774.1 972.2 772.8C972.9 771.6 973.5 769.6 974.0 768.0C974.6 766.3 975.2 764.2 975.7 763.1C976.3 761.9 976.8 761.3 977.4 761.0C978.0 760.7 978.6 760.4 979.2 761.0C979.8 761.6 980.3 762.7 980.9 764.5C981.5 766.2 982.1 769.8 982.7 771.4C983.3 773.1 983.7 774.0 984.4 774.5C985.0 775.0 985.8 774.5 986.6 774.5C987.3 774.5 988.2 774.1 988.9 774.2C989.7 774.4 990.5 775.1 991.3 775.3C992.1 775.6 993.0 775.7 993.8 775.6C994.6 775.5 995.2 775.4 995.9 774.9C996.6 774.4 997.4 773.4 998.0 772.8C998.6 772.2 999.1 771.7 999.6 771.4C1000.2 771.2 1000.7 771.0 1001.2 771.4C1001.7 771.9 1002.3 773.5 1002.9 774.2C1003.4 775.0 1004.1 775.9 1004.7 775.9C1005.2 775.9 1005.6 775.4 1006.1 774.2C1006.5 773.0 1006.9 770.5 1007.5 768.6C1008.0 766.8 1008.6 764.2 1009.1 763.1C1009.7 761.9 1010.3 761.8 1010.8 761.7C1011.3 761.6 1011.6 761.6 1012.2 762.4C1012.7 763.2 1013.4 765.1 1014.0 766.6C1014.6 768.0 1015.2 770.2 1015.8 771.2C1016.4 772.2 1016.9 772.7 1017.5 772.5C1018.0 772.4 1018.6 771.4 1019.1 770.0C1019.7 768.7 1020.3 765.9 1021.0 764.5C1021.6 763.1 1022.2 762.1 1022.8 761.7C1023.3 761.3 1023.6 761.4 1024.2 762.0C1024.7 762.5 1025.3 764.2 1025.8 765.2C1026.4 766.2 1026.9 767.8 1027.5 768.0C1028.1 768.1 1028.7 766.6 1029.3 765.9C1029.9 765.1 1030.6 763.8 1031.1 763.5C1031.6 763.2 1032.0 763.2 1032.5 763.8C1033.0 764.4 1033.6 766.0 1034.2 767.3C1034.7 768.5 1035.3 770.6 1035.8 771.4C1036.4 772.2 1037.0 772.4 1037.7 772.1C1038.3 771.9 1039.0 770.6 1039.7 770.0C1040.4 769.5 1041.1 768.9 1041.8 768.9C1042.5 768.9 1043.2 769.7 1043.9 770.0C1044.6 770.4 1045.3 770.9 1046.0 771.2C1046.7 771.4 1047.3 771.4 1048.1 771.4C1048.9 771.5 1049.9 771.3 1050.9 771.4C1051.8 771.5 1052.7 771.9 1053.7 772.1C1054.6 772.4 1055.5 772.6 1056.4 773.1C1057.4 773.6 1058.3 774.3 1059.2 774.9C1060.1 775.5 1061.0 776.4 1061.7 776.7C1062.5 777.1 1063.0 777.2 1063.7 777.0C1064.4 776.8 1065.1 776.3 1065.9 775.3C1066.7 774.4 1067.5 772.5 1068.3 771.4C1069.0 770.3 1069.7 769.2 1070.3 768.6C1071.0 768.1 1071.7 767.9 1072.4 768.0C1073.1 768.0 1073.8 768.7 1074.5 768.9C1075.2 769.2 1075.9 769.4 1076.6 769.4C1077.3 769.3 1078.0 768.8 1078.7 768.4C1079.4 767.9 1080.1 767.2 1080.8 766.6C1081.5 766.0 1082.2 765.1 1082.9 764.8C1083.6 764.4 1084.3 764.0 1085.0 764.2C1085.7 764.4 1086.4 765.1 1087.0 765.9C1087.7 766.6 1088.4 767.8 1089.1 768.6C1089.8 769.5 1090.5 770.2 1091.2 770.7C1091.9 771.3 1092.6 771.5 1093.3 772.1C1094.0 772.8 1094.7 773.8 1095.4 774.5C1096.1 775.2 1096.9 776.1 1097.5 776.3C1098.1 776.5 1098.3 776.7 1098.9 775.9C1099.4 775.1 1100.1 773.1 1100.7 771.4C1101.3 769.8 1101.9 767.4 1102.6 765.9C1103.3 764.4 1104.2 763.4 1104.9 762.4C1105.6 761.4 1106.2 760.8 1106.8 760.0C1107.4 759.3 1108.0 758.3 1108.6 757.8C1109.2 757.3 1109.9 756.9 1110.4 756.8C1111.0 756.7 1111.4 756.7 1111.8 757.2C1112.3 757.8 1112.7 758.6 1113.2 760.3C1113.7 762.0 1114.4 765.1 1114.9 767.3C1115.4 769.4 1116.0 772.1 1116.3 773.1"/>
</g>
<text class="t" transform="translate(668.6 851.5) scale(1 1.03)" text-anchor="end">0.0</text>
<text class="t" transform="translate(668.6 789.9) scale(1 1.03)" text-anchor="end">0.2</text>
<text class="t" transform="translate(668.6 728.3) scale(1 1.03)" text-anchor="end">0.4</text>
<text class="t" transform="translate(668.6 666.7) scale(1 1.03)" text-anchor="end">0.6</text>
<text class="t" transform="translate(668.6 605.1) scale(1 1.03)" text-anchor="end">0.8</text>
<text class="t" transform="translate(668.6 543.5) scale(1 1.03)" text-anchor="end">1.0</text>
<text class="t" transform="translate(675.6 874.2) scale(1 1.03)" text-anchor="middle">0</text>
<text class="t" transform="translate(786.3 874.2) scale(1 1.03)" text-anchor="middle">50</text>
<text class="t" transform="translate(897.0 874.2) scale(1 1.03)" text-anchor="middle">100</text>
<text class="t" transform="translate(1007.8 874.2) scale(1 1.03)" text-anchor="middle">150</text>
<text class="t" transform="translate(1118.5 874.2) scale(1 1.03)" text-anchor="middle">200</text>
<text transform="translate(907.8 906.6) scale(1 1.03)" text-anchor="middle" textLength="103.3" lengthAdjust="spacing">Epochs</text>
<text transform="translate(904.6 943.9) scale(1 1.03)" text-anchor="middle" textLength="129.4" lengthAdjust="spacing">Subject 5</text>
<text transform="translate(598.4 680.5) rotate(-90)" text-anchor="middle" style="font-size:35.0px">Accuracy</text>
</g>
<g id="subject6">
<path d="M1256.2 841.3V533.3M1256.2 841.3H1699.0" stroke="#000" stroke-width="6.0" fill="none"/>
<path d="M1256.2 779.7h6.1M1256.2 718.1h6.1M1256.2 656.5h6.1M1256.2 594.9h6.1M1256.2 533.3h6.1M1366.9 841.3v-6.1M1477.6 841.3v-6.1M1588.3 841.3v-6.1M1699.0 841.3v-6.1" stroke="#000" stroke-width="5.8" fill="none"/>
<clipPath id="cp6"><rect x="1256.2" y="523.3" width="452.8" height="318.0"/></clipPath>
<g clip-path="url(#cp6)">
<path class="c" stroke="#ff0000" d="M1256.2 841.3C1256.3 835.6 1256.5 816.9 1256.7 807.0C1256.9 797.1 1256.9 787.7 1257.2 782.0C1257.6 776.2 1258.0 774.2 1258.6 772.2C1259.2 770.2 1260.1 770.7 1260.9 770.1C1261.6 769.5 1262.5 770.2 1263.2 768.7C1263.9 767.2 1264.5 763.2 1265.0 761.1C1265.6 759.0 1266.0 757.1 1266.4 756.2C1266.9 755.3 1267.3 754.9 1267.8 755.5C1268.3 756.1 1268.7 757.5 1269.2 759.7C1269.7 761.9 1270.3 766.5 1270.9 768.7C1271.4 770.9 1272.0 772.2 1272.5 772.9C1273.1 773.6 1273.5 773.5 1273.9 772.9C1274.4 772.3 1274.8 771.4 1275.3 769.4C1275.9 767.5 1276.5 764.1 1277.1 761.1C1277.8 758.1 1278.5 754.1 1279.2 751.3C1279.9 748.5 1280.5 746.3 1281.3 744.4C1282.1 742.5 1283.1 741.0 1284.1 739.9C1285.1 738.8 1286.3 738.5 1287.6 737.8C1288.9 737.1 1290.4 736.5 1291.8 735.8C1293.1 735.0 1294.7 734.1 1295.9 733.5C1297.2 732.9 1298.3 732.6 1299.4 732.1C1300.5 731.7 1301.7 731.4 1302.6 730.7C1303.5 730.1 1304.2 729.6 1305.0 728.4C1305.7 727.2 1306.4 725.5 1307.1 723.5C1307.8 721.5 1308.5 718.4 1309.2 716.5C1309.8 714.6 1310.5 713.0 1311.2 712.1C1311.9 711.2 1312.7 711.1 1313.3 711.0C1314.0 710.8 1314.5 710.8 1315.1 711.2C1315.8 711.7 1316.5 712.5 1317.1 713.8C1317.7 715.0 1318.3 716.5 1318.9 718.6C1319.5 720.7 1320.1 723.1 1320.7 726.3C1321.3 729.4 1321.9 734.1 1322.4 737.4C1322.9 740.8 1323.3 744.6 1323.8 746.5C1324.2 748.4 1324.7 749.2 1325.2 748.8C1325.6 748.5 1326.0 747.4 1326.5 744.4C1327.0 741.3 1327.6 735.8 1328.2 730.5C1328.8 725.1 1329.4 717.4 1330.0 712.4C1330.6 707.4 1331.2 703.1 1331.8 700.5C1332.4 697.9 1332.9 697.5 1333.5 696.8C1334.1 696.0 1334.9 696.1 1335.6 696.1C1336.3 696.1 1336.9 696.6 1337.7 696.8C1338.4 696.9 1339.3 697.2 1340.2 697.1C1341.1 696.9 1342.0 696.2 1343.0 695.7C1343.9 695.1 1344.9 694.4 1345.8 693.6C1346.6 692.8 1347.4 691.7 1348.1 690.8C1348.8 689.9 1349.3 688.9 1349.9 688.4C1350.5 688.0 1351.0 687.5 1351.6 688.0C1352.1 688.5 1352.7 689.8 1353.3 691.2C1353.8 692.6 1354.5 694.8 1355.1 696.4C1355.7 697.9 1356.3 699.7 1356.9 700.5C1357.5 701.4 1358.0 701.6 1358.5 701.2C1359.1 700.9 1359.6 700.3 1360.2 698.5C1360.8 696.6 1361.5 692.4 1362.0 690.1C1362.6 687.8 1363.0 685.8 1363.4 684.8C1363.9 683.8 1364.3 683.7 1364.8 684.3C1365.3 684.8 1365.7 686.0 1366.2 688.0C1366.7 690.0 1367.3 694.5 1367.9 696.4C1368.4 698.2 1368.9 699.3 1369.4 699.1C1369.9 699.0 1370.3 697.8 1370.8 695.7C1371.3 693.6 1371.7 688.8 1372.2 686.6C1372.7 684.4 1373.1 683.3 1373.6 682.5C1374.0 681.6 1374.5 681.6 1375.0 681.8C1375.5 681.9 1376.1 682.7 1376.6 683.1C1377.2 683.6 1377.8 684.5 1378.3 684.3C1378.8 684.0 1379.2 682.4 1379.7 681.5C1380.2 680.5 1380.6 679.2 1381.1 678.7C1381.6 678.2 1382.0 677.9 1382.5 678.7C1383.0 679.4 1383.4 681.0 1383.9 683.1C1384.3 685.3 1384.7 689.5 1385.3 691.5C1385.8 693.5 1386.5 695.0 1387.1 695.0C1387.7 695.0 1388.2 693.9 1388.8 691.5C1389.3 689.1 1390.0 683.5 1390.6 680.4C1391.1 677.2 1391.7 674.3 1392.2 672.7C1392.8 671.1 1393.5 670.9 1394.0 670.6C1394.6 670.4 1395.1 670.6 1395.7 671.3C1396.3 672.0 1396.9 673.2 1397.5 674.8C1398.2 676.4 1398.9 679.0 1399.6 681.0C1400.3 683.1 1401.0 685.0 1401.7 687.3C1402.4 689.6 1403.1 692.1 1403.8 695.0C1404.4 697.9 1405.0 701.7 1405.6 704.7C1406.2 707.7 1406.7 711.3 1407.3 713.1C1407.8 714.8 1408.4 715.5 1408.9 715.1C1409.4 714.8 1409.9 713.5 1410.3 711.0C1410.8 708.4 1411.2 703.8 1411.7 699.8C1412.2 695.9 1412.9 690.5 1413.5 687.3C1414.1 684.2 1414.7 682.3 1415.3 681.0C1416.0 679.8 1416.7 680.2 1417.3 680.1C1417.9 680.0 1418.4 680.0 1419.1 680.4C1419.7 680.8 1420.5 681.5 1421.2 682.5C1421.9 683.4 1422.6 684.9 1423.3 685.9C1423.9 687.0 1424.5 688.2 1425.1 688.7C1425.6 689.2 1426.2 689.2 1426.7 688.7C1427.3 688.2 1427.8 687.1 1428.4 685.9C1429.0 684.7 1429.6 682.4 1430.2 681.5C1430.8 680.5 1431.5 680.2 1432.0 680.1C1432.6 680.0 1433.1 680.8 1433.7 681.0C1434.3 681.3 1435.1 681.7 1435.8 681.5C1436.4 681.2 1437.0 680.4 1437.6 679.7C1438.2 678.9 1438.6 677.7 1439.3 676.9C1439.9 676.0 1440.6 675.2 1441.4 674.5C1442.1 673.8 1443.0 673.5 1443.7 672.7C1444.5 671.9 1445.3 670.8 1446.0 669.9C1446.6 669.1 1447.1 668.0 1447.6 667.6C1448.2 667.1 1448.7 666.9 1449.3 667.4C1449.9 667.9 1450.5 668.8 1451.1 670.6C1451.7 672.4 1452.3 675.5 1452.9 678.3C1453.5 681.1 1454.0 684.3 1454.6 687.3C1455.1 690.3 1455.7 693.8 1456.2 696.4C1456.8 698.9 1457.5 701.5 1458.1 702.6C1458.6 703.8 1458.9 703.9 1459.5 703.3C1460.0 702.7 1460.5 701.4 1461.1 699.1C1461.7 696.9 1462.3 693.5 1462.9 690.1C1463.6 686.7 1464.4 682.3 1465.0 679.0C1465.7 675.6 1466.2 672.4 1466.8 669.9C1467.4 667.5 1468.1 665.5 1468.8 664.4C1469.4 663.2 1470.0 663.0 1470.6 663.0C1471.2 662.9 1471.7 662.9 1472.2 663.9C1472.8 665.0 1473.3 666.3 1473.8 669.2C1474.3 672.2 1474.7 676.6 1475.2 681.8C1475.6 686.9 1476.1 694.0 1476.6 699.8C1477.0 705.6 1477.5 712.2 1478.0 716.5C1478.4 720.8 1479.0 723.9 1479.3 725.6C1479.7 727.3 1480.0 727.1 1480.3 726.6C1480.7 726.0 1481.0 725.6 1481.4 722.1C1481.9 718.6 1482.6 711.2 1483.1 705.4C1483.6 699.6 1484.0 691.8 1484.5 687.3C1484.9 682.8 1485.3 680.2 1485.9 678.3C1486.4 676.4 1487.0 676.2 1487.5 675.9C1488.1 675.6 1488.6 675.8 1489.2 676.5C1489.8 677.1 1490.4 678.9 1491.0 679.7C1491.6 680.4 1492.2 681.1 1492.8 681.0C1493.4 681.0 1494.1 679.8 1494.8 679.2C1495.4 678.7 1496.0 678.0 1496.6 677.9C1497.1 677.7 1497.4 677.6 1498.0 678.3C1498.5 678.9 1499.1 680.6 1499.8 681.8C1500.4 682.9 1501.0 684.5 1501.7 685.2C1502.4 685.9 1503.3 685.9 1504.0 685.9C1504.6 686.0 1505.2 685.4 1505.9 685.6C1506.6 685.9 1507.4 686.9 1508.1 687.3C1508.8 687.7 1509.4 688.2 1510.1 688.0C1510.7 687.8 1511.3 687.2 1511.9 685.9C1512.5 684.7 1513.1 682.0 1513.7 680.4C1514.3 678.7 1515.0 676.8 1515.6 675.9C1516.3 675.0 1516.8 674.8 1517.5 674.8C1518.1 674.8 1518.6 675.2 1519.3 675.9C1519.9 676.7 1520.5 678.0 1521.2 679.2C1521.9 680.5 1522.7 682.2 1523.4 683.1C1524.2 684.1 1525.0 684.6 1525.8 684.8C1526.6 685.0 1527.3 684.9 1528.2 684.5C1529.0 684.2 1529.8 683.7 1530.7 682.9C1531.5 682.0 1532.4 680.9 1533.2 679.7C1534.0 678.4 1534.8 676.5 1535.5 675.5C1536.2 674.5 1536.8 673.8 1537.3 673.7C1537.9 673.6 1538.5 674.1 1539.0 674.8C1539.6 675.4 1540.1 676.9 1540.7 677.6C1541.3 678.3 1541.9 679.0 1542.5 679.0C1543.1 679.0 1543.7 678.3 1544.3 677.6C1544.9 676.8 1545.6 675.3 1546.2 674.5C1546.9 673.8 1547.5 673.3 1548.1 673.1C1548.6 672.9 1548.9 672.8 1549.5 673.4C1550.0 674.0 1550.5 675.3 1551.1 676.9C1551.7 678.5 1552.4 681.4 1552.9 683.1C1553.5 684.8 1554.1 686.6 1554.6 687.0C1555.1 687.5 1555.6 686.9 1556.1 685.9C1556.7 684.9 1557.2 682.1 1557.8 681.0C1558.4 680.0 1558.9 679.5 1559.5 679.7C1560.0 679.8 1560.7 680.9 1561.3 681.8C1561.9 682.6 1562.4 684.0 1563.0 684.5C1563.5 685.0 1564.2 685.3 1564.8 684.8C1565.4 684.3 1566.0 682.4 1566.6 681.8C1567.1 681.1 1567.7 680.5 1568.2 680.6C1568.8 680.8 1569.3 681.5 1569.9 682.5C1570.5 683.4 1571.1 685.7 1571.7 686.6C1572.3 687.5 1572.8 688.2 1573.4 688.0C1574.0 687.8 1574.6 686.2 1575.2 685.2C1575.8 684.3 1576.4 682.9 1576.9 682.5C1577.4 682.0 1577.8 682.0 1578.3 682.5C1578.7 682.9 1579.1 683.7 1579.7 685.2C1580.2 686.7 1580.9 689.7 1581.5 691.5C1582.1 693.3 1582.7 695.1 1583.3 696.0C1583.8 696.8 1584.4 697.1 1584.9 696.8C1585.5 696.5 1586.0 696.0 1586.6 694.3C1587.2 692.6 1587.8 689.2 1588.4 686.6C1589.0 684.1 1589.6 680.8 1590.2 679.0C1590.9 677.1 1591.6 676.1 1592.2 675.5C1592.8 674.8 1593.4 674.8 1594.0 675.1C1594.6 675.4 1595.2 676.4 1595.8 677.3C1596.4 678.2 1596.9 679.8 1597.5 680.4C1598.0 680.9 1598.6 681.2 1599.1 680.6C1599.7 680.1 1600.3 678.8 1601.0 676.9C1601.6 675.0 1602.2 671.3 1602.8 669.2C1603.3 667.1 1603.9 665.4 1604.4 664.4C1605.0 663.3 1605.5 662.8 1606.1 663.0C1606.7 663.1 1607.3 663.3 1607.9 665.0C1608.5 666.8 1609.0 670.2 1609.6 673.4C1610.2 676.6 1610.8 681.4 1611.4 684.5C1612.0 687.7 1612.5 690.6 1613.0 692.2C1613.6 693.8 1614.3 694.2 1614.9 694.3C1615.5 694.3 1616.0 693.5 1616.7 692.6C1617.4 691.7 1618.2 689.9 1619.0 688.7C1619.9 687.5 1620.9 686.3 1621.8 685.2C1622.7 684.1 1623.7 683.2 1624.6 682.0C1625.5 680.9 1626.5 679.5 1627.4 678.3C1628.2 677.1 1629.0 675.7 1629.8 674.8C1630.5 673.9 1631.3 673.0 1632.0 672.7C1632.7 672.4 1633.3 672.4 1633.9 672.7C1634.6 673.0 1635.1 673.9 1635.7 674.8C1636.3 675.6 1637.0 677.2 1637.5 677.9C1638.1 678.5 1638.6 679.0 1639.2 678.7C1639.8 678.4 1640.6 677.3 1641.3 676.2C1642.0 675.0 1642.8 672.8 1643.4 671.7C1644.0 670.7 1644.5 670.2 1645.1 669.9C1645.6 669.7 1646.3 669.6 1646.9 670.3C1647.4 671.0 1648.0 672.7 1648.5 674.1C1649.1 675.5 1649.8 677.8 1650.3 679.0C1650.9 680.1 1651.4 680.9 1652.0 681.0C1652.6 681.2 1653.2 680.2 1653.8 679.7C1654.4 679.1 1655.1 678.1 1655.6 677.9C1656.2 677.6 1656.5 677.5 1657.0 678.3C1657.5 679.0 1658.1 681.2 1658.7 682.5C1659.3 683.7 1659.9 685.1 1660.4 685.6C1660.9 686.2 1661.2 686.4 1661.8 685.6C1662.3 684.9 1663.0 682.3 1663.6 681.0C1664.1 679.8 1664.5 678.6 1665.0 678.3C1665.4 677.9 1665.9 677.9 1666.4 679.0C1666.8 680.0 1667.2 682.6 1667.8 684.5C1668.3 686.5 1668.9 689.5 1669.4 690.8C1670.0 692.1 1670.4 692.5 1671.0 692.2C1671.5 691.8 1672.0 690.7 1672.6 688.7C1673.2 686.7 1674.0 683.0 1674.7 680.4C1675.4 677.7 1676.1 674.8 1676.8 672.7C1677.5 670.6 1678.2 668.8 1678.9 667.8C1679.5 666.8 1680.1 666.8 1680.7 666.7C1681.3 666.6 1681.8 666.5 1682.4 667.1C1682.9 667.8 1683.5 668.9 1684.0 670.6C1684.6 672.4 1685.2 675.7 1685.8 677.6C1686.4 679.4 1687.1 681.0 1687.7 681.8C1688.2 682.5 1688.8 682.4 1689.3 682.0C1689.9 681.7 1690.4 680.4 1691.0 679.7C1691.6 678.9 1692.2 677.8 1692.8 677.3C1693.4 676.8 1694.0 676.8 1694.6 676.9C1695.2 676.9 1695.7 677.2 1696.3 677.6C1696.8 677.9 1697.7 678.7 1698.0 679.0"/>
<path class="c" stroke="#00dd00" d="M1256.2 841.3C1256.3 835.6 1256.5 817.4 1256.7 807.0C1256.9 796.6 1257.0 786.1 1257.2 779.2C1257.5 772.2 1257.8 769.0 1258.3 765.2C1258.9 761.5 1259.6 759.0 1260.4 756.9C1261.3 754.8 1262.3 753.7 1263.2 752.7C1264.1 751.8 1265.1 751.6 1266.0 751.3C1266.9 751.1 1267.9 751.0 1268.8 751.1C1269.7 751.1 1270.6 751.3 1271.6 751.6C1272.5 751.9 1273.5 752.1 1274.3 752.7C1275.2 753.4 1275.8 754.1 1276.4 755.5C1277.1 756.9 1277.6 759.1 1278.2 761.1C1278.9 763.1 1279.6 765.7 1280.3 767.3C1281.1 769.0 1281.8 769.9 1282.7 770.8C1283.6 771.7 1284.6 772.4 1285.5 772.9C1286.3 773.4 1287.2 773.7 1287.8 773.6C1288.5 773.5 1289.1 773.3 1289.7 772.2C1290.2 771.2 1290.8 768.8 1291.3 767.3C1291.9 765.8 1292.6 764.0 1293.1 763.2C1293.7 762.3 1294.3 762.2 1294.8 762.2C1295.3 762.2 1295.8 762.4 1296.3 763.2C1296.9 763.9 1297.4 765.1 1298.0 766.6C1298.6 768.1 1299.2 770.4 1299.8 772.2C1300.4 774.1 1301.1 776.3 1301.8 777.8C1302.5 779.3 1303.3 780.6 1304.0 781.3C1304.7 781.9 1305.3 781.9 1306.0 781.7C1306.6 781.4 1307.1 780.9 1307.8 779.9C1308.4 778.9 1309.0 776.8 1309.6 775.7C1310.1 774.6 1310.7 773.8 1311.2 773.3C1311.8 772.9 1312.3 772.8 1312.9 772.9C1313.5 773.0 1314.1 773.6 1314.7 773.9C1315.3 774.1 1315.9 774.6 1316.5 774.3C1317.1 774.0 1317.6 773.0 1318.2 772.2C1318.8 771.4 1319.6 770.2 1320.3 769.4C1321.0 768.7 1321.7 768.0 1322.4 767.8C1323.0 767.5 1323.5 767.5 1324.0 767.8C1324.6 768.0 1325.2 769.0 1325.8 769.4C1326.5 769.9 1327.1 770.5 1327.7 770.5C1328.2 770.5 1328.8 770.3 1329.3 769.4C1329.9 768.5 1330.5 766.5 1331.0 765.2C1331.5 764.0 1331.9 762.8 1332.4 762.2C1332.9 761.5 1333.3 761.1 1333.8 761.4C1334.2 761.6 1334.7 762.5 1335.2 763.9C1335.6 765.2 1336.1 767.6 1336.6 769.4C1337.0 771.2 1337.5 773.6 1338.0 774.7C1338.4 775.8 1338.8 776.2 1339.3 776.1C1339.9 776.0 1340.5 774.9 1341.2 774.3C1341.8 773.6 1342.4 772.6 1343.0 772.2C1343.5 771.8 1344.1 772.2 1344.6 771.9C1345.2 771.7 1345.7 771.6 1346.3 770.8C1346.9 770.1 1347.5 768.5 1348.1 767.3C1348.7 766.1 1349.3 764.4 1349.9 763.6C1350.5 762.8 1351.0 762.5 1351.6 762.5C1352.1 762.4 1352.8 762.6 1353.3 763.2C1353.8 763.7 1354.2 765.4 1354.7 766.0C1355.1 766.5 1355.6 767.0 1356.0 766.6C1356.5 766.3 1357.0 764.8 1357.4 763.9C1357.9 762.9 1358.4 761.7 1358.8 761.1C1359.3 760.5 1359.8 760.1 1360.2 760.4C1360.7 760.6 1361.1 761.2 1361.6 762.5C1362.1 763.7 1362.5 766.3 1363.0 768.0C1363.5 769.8 1364.2 771.9 1364.8 772.9C1365.5 773.9 1366.2 773.6 1366.9 773.9C1367.6 774.1 1368.3 773.9 1369.0 774.3C1369.6 774.7 1370.2 775.8 1370.8 776.4C1371.4 777.0 1371.9 777.8 1372.5 778.0C1373.0 778.3 1373.6 778.6 1374.1 778.0C1374.7 777.5 1375.3 776.3 1376.0 775.0C1376.6 773.7 1377.1 771.6 1377.8 770.1C1378.4 768.7 1379.0 767.3 1379.7 766.4C1380.4 765.4 1381.2 764.9 1381.9 764.6C1382.7 764.2 1383.6 764.3 1384.3 764.3C1385.0 764.3 1385.7 764.7 1386.4 764.6C1387.1 764.4 1387.8 763.6 1388.5 763.2C1389.1 762.8 1389.7 762.4 1390.3 762.2C1390.9 762.0 1391.3 761.9 1392.0 762.2C1392.6 762.5 1393.3 763.5 1394.0 764.1C1394.7 764.8 1395.4 765.6 1396.1 766.0C1396.8 766.3 1397.5 765.9 1398.2 766.0C1398.9 766.0 1399.6 766.0 1400.3 766.4C1401.0 766.8 1401.7 767.7 1402.4 768.3C1403.0 768.9 1403.6 770.0 1404.2 770.1C1404.8 770.2 1405.3 769.4 1405.9 768.7C1406.4 768.0 1407.0 766.5 1407.5 766.0C1408.1 765.4 1408.7 765.0 1409.3 765.2C1410.0 765.5 1410.5 766.6 1411.2 767.3C1411.8 768.1 1412.5 769.4 1413.1 769.7C1413.7 770.0 1414.3 769.9 1414.9 769.4C1415.5 769.0 1416.1 767.5 1416.7 766.9C1417.3 766.3 1417.8 765.9 1418.4 766.0C1418.9 766.0 1419.4 766.4 1420.1 767.3C1420.7 768.3 1421.6 770.2 1422.3 771.5C1423.0 772.8 1423.6 774.5 1424.2 775.3C1424.9 776.1 1425.4 776.4 1426.0 776.4C1426.7 776.4 1427.4 775.8 1428.1 775.3C1428.8 774.7 1429.5 773.5 1430.2 772.9C1430.9 772.4 1431.6 772.0 1432.3 771.9C1433.0 771.8 1433.7 772.2 1434.4 772.2C1435.1 772.2 1435.8 772.2 1436.5 771.9C1437.2 771.7 1437.9 770.9 1438.6 770.8C1439.2 770.8 1439.8 770.8 1440.4 771.5C1441.0 772.2 1441.5 773.8 1442.0 775.0C1442.6 776.1 1443.1 777.8 1443.7 778.5C1444.3 779.2 1444.9 779.2 1445.5 779.2C1446.2 779.1 1446.9 778.3 1447.6 778.0C1448.3 777.8 1449.0 777.5 1449.7 777.5C1450.4 777.5 1451.2 778.0 1451.8 778.0C1452.4 778.1 1452.9 778.3 1453.5 777.8C1454.0 777.3 1454.7 775.9 1455.3 775.0C1455.8 774.1 1456.4 772.7 1456.9 772.2C1457.5 771.7 1457.9 771.7 1458.5 771.9C1459.0 772.2 1459.5 772.9 1460.1 773.9C1460.8 774.9 1461.6 776.9 1462.2 778.0C1462.9 779.2 1463.5 780.1 1464.0 780.6C1464.6 781.0 1465.2 781.0 1465.7 780.6C1466.3 780.1 1466.8 779.1 1467.4 778.0C1468.0 777.0 1468.6 775.2 1469.2 774.3C1469.8 773.4 1470.4 772.8 1471.0 772.9C1471.6 773.0 1472.1 774.0 1472.7 774.7C1473.2 775.4 1473.8 776.6 1474.3 777.1C1474.9 777.5 1475.5 777.8 1476.2 777.5C1476.8 777.2 1477.4 776.5 1478.0 775.0C1478.5 773.5 1479.1 771.2 1479.6 768.7C1480.2 766.3 1480.6 762.8 1481.3 760.4C1482.0 758.0 1483.1 755.4 1483.8 754.4C1484.4 753.4 1484.7 753.6 1485.2 754.1C1485.6 754.7 1486.0 755.6 1486.5 757.6C1487.1 759.6 1487.6 763.4 1488.2 766.0C1488.8 768.5 1489.4 771.2 1490.0 772.9C1490.7 774.6 1491.3 775.5 1492.0 776.1C1492.7 776.7 1493.4 776.5 1494.2 776.4C1495.0 776.2 1495.8 775.5 1496.6 775.3C1497.3 775.0 1498.0 774.7 1498.7 774.7C1499.4 774.7 1500.1 774.9 1500.8 775.3C1501.4 775.7 1502.1 776.6 1502.8 777.1C1503.5 777.5 1504.3 777.9 1504.9 778.0C1505.6 778.2 1506.2 778.1 1506.7 777.8C1507.3 777.5 1507.8 776.6 1508.4 776.1C1509.0 775.6 1509.5 774.9 1510.1 774.7C1510.6 774.5 1511.1 774.4 1511.6 774.7C1512.1 775.0 1512.7 776.0 1513.3 776.7C1513.8 777.3 1514.5 778.2 1515.1 778.5C1515.7 778.7 1516.2 778.5 1516.8 778.0C1517.3 777.6 1517.8 777.0 1518.4 775.7C1519.0 774.4 1519.6 771.7 1520.2 770.1C1520.8 768.6 1521.5 767.2 1522.0 766.4C1522.6 765.5 1523.2 765.3 1523.7 765.2C1524.2 765.2 1524.6 765.1 1525.1 766.0C1525.6 766.8 1526.2 768.6 1526.8 770.1C1527.3 771.6 1528.0 773.9 1528.6 775.0C1529.2 776.0 1529.7 776.4 1530.2 776.4C1530.8 776.3 1531.4 775.5 1532.1 774.7C1532.7 773.9 1533.5 772.3 1534.2 771.5C1534.8 770.7 1535.4 770.0 1536.0 769.7C1536.5 769.4 1537.1 769.3 1537.6 769.7C1538.2 770.1 1538.7 771.4 1539.3 772.2C1539.9 773.0 1540.5 774.2 1541.1 774.7C1541.7 775.2 1542.3 775.3 1542.9 775.0C1543.5 774.7 1544.0 774.2 1544.6 772.9C1545.2 771.6 1546.0 768.9 1546.7 767.3C1547.4 765.8 1548.1 764.3 1548.8 763.6C1549.4 762.8 1550.0 762.7 1550.6 762.8C1551.1 762.8 1551.7 763.4 1552.2 764.1C1552.8 764.8 1553.4 766.2 1554.0 766.9C1554.7 767.6 1555.3 768.3 1556.0 768.3C1556.7 768.3 1557.4 767.5 1558.1 766.9C1558.8 766.3 1559.5 765.1 1560.2 764.6C1560.8 764.0 1561.4 763.7 1562.0 763.6C1562.6 763.4 1563.2 763.2 1563.8 763.6C1564.4 764.0 1565.0 764.9 1565.7 766.0C1566.4 767.0 1567.2 768.8 1568.0 770.1C1568.7 771.4 1569.6 772.9 1570.3 773.9C1571.1 774.9 1571.7 775.7 1572.4 776.1C1573.1 776.5 1573.8 776.6 1574.5 776.4C1575.2 776.1 1575.8 775.6 1576.6 774.7C1577.4 773.8 1578.3 772.0 1579.1 770.8C1579.9 769.6 1580.7 768.4 1581.5 767.3C1582.2 766.3 1583.0 765.3 1583.8 764.6C1584.6 763.8 1585.5 763.3 1586.3 762.8C1587.2 762.2 1588.0 762.1 1588.8 761.4C1589.7 760.6 1590.5 759.5 1591.2 758.3C1592.0 757.1 1592.6 755.2 1593.3 754.1C1594.0 753.1 1594.7 752.5 1595.4 752.0C1596.1 751.6 1596.8 751.4 1597.5 751.3C1598.2 751.3 1598.8 751.5 1599.6 751.8C1600.3 752.0 1601.2 752.4 1601.9 753.0C1602.7 753.6 1603.4 754.5 1604.2 755.5C1604.9 756.5 1605.8 758.1 1606.5 759.0C1607.3 759.9 1607.8 760.3 1608.6 760.8C1609.4 761.3 1610.2 761.5 1611.1 761.8C1612.0 762.0 1613.0 762.1 1613.9 762.5C1614.8 762.8 1615.7 763.4 1616.7 763.9C1617.6 764.3 1618.8 764.7 1619.7 765.0C1620.7 765.2 1621.6 765.3 1622.5 765.2C1623.4 765.2 1624.4 764.8 1625.3 764.6C1626.2 764.3 1627.2 763.9 1628.1 763.6C1629.0 763.3 1629.9 763.1 1630.9 762.9C1631.8 762.7 1632.7 762.6 1633.7 762.5C1634.6 762.4 1635.5 762.3 1636.4 762.2C1637.3 762.1 1638.1 762.2 1638.9 761.8C1639.8 761.4 1640.5 760.5 1641.3 759.7C1642.1 758.9 1642.9 757.6 1643.7 756.9C1644.5 756.2 1645.3 755.9 1646.2 755.5C1647.1 755.2 1648.0 755.0 1649.0 754.8C1649.9 754.6 1650.9 754.4 1651.7 754.4C1652.6 754.4 1653.2 754.4 1653.8 754.8C1654.5 755.2 1655.1 755.5 1655.6 756.6C1656.2 757.8 1656.8 759.9 1657.3 761.8C1657.9 763.7 1658.4 766.2 1659.0 768.0C1659.6 769.9 1660.1 771.6 1660.8 772.9C1661.4 774.2 1662.1 774.9 1662.9 775.7C1663.6 776.5 1664.6 777.0 1665.4 777.5C1666.2 778.0 1667.1 778.2 1667.8 778.5C1668.4 778.7 1669.0 779.0 1669.6 778.9C1670.1 778.8 1670.7 778.5 1671.2 777.8C1671.8 777.0 1672.3 775.9 1672.9 774.3C1673.5 772.7 1674.1 770.2 1674.7 768.0C1675.3 765.8 1675.9 763.3 1676.5 761.1C1677.1 758.9 1677.8 756.4 1678.5 754.8C1679.1 753.2 1679.7 752.1 1680.3 751.3C1680.9 750.5 1681.5 750.1 1682.1 749.9C1682.7 749.8 1683.2 749.8 1683.8 750.4C1684.3 750.9 1684.8 751.9 1685.4 753.4C1686.0 755.0 1686.6 757.5 1687.2 759.7C1687.8 761.9 1688.5 764.7 1689.0 766.6C1689.6 768.6 1690.2 770.3 1690.7 771.5C1691.3 772.7 1691.8 773.4 1692.4 773.9C1693.0 774.3 1693.6 774.5 1694.2 774.3C1694.8 774.1 1695.4 773.2 1696.0 772.5C1696.6 771.8 1697.4 770.5 1697.7 770.1"/>
</g>
<text class="t" transform="translate(1249.2 851.4) scale(1 1.03)" text-anchor="end">0.0</text>
<text class="t" transform="translate(1249.2 789.8) scale(1 1.03)" text-anchor="end">0.2</text>
<text class="t" transform="translate(1249.2 728.2) scale(1 1.03)" text-anchor="end">0.4</text>
<text class="t" transform="translate(1249.2 666.6) scale(1 1.03)" text-anchor="end">0.6</text>
<text class="t" transform="translate(1249.2 605.0) scale(1 1.03)" text-anchor="end">0.8</text>
<text class="t" transform="translate(1249.2 543.4) scale(1 1.03)" text-anchor="end">1.0</text>
<text class="t" transform="translate(1256.2 874.1) scale(1 1.03)" text-anchor="middle">0</text>
<text class="t" transform="translate(1366.9 874.1) scale(1 1.03)" text-anchor="middle">50</text>
<text class="t" transform="translate(1477.6 874.1) scale(1 1.03)" text-anchor="middle">100</text>
<text class="t" transform="translate(1588.3 874.1) scale(1 1.03)" text-anchor="middle">150</text>
<text class="t" transform="translate(1699.0 874.1) scale(1 1.03)" text-anchor="middle">200</text>
<text transform="translate(1477.4 902.5) scale(1 1.03)" text-anchor="middle" textLength="103.3" lengthAdjust="spacing">Epochs</text>
<text transform="translate(1475.7 942.1) scale(1 1.03)" text-anchor="middle" textLength="129.4" lengthAdjust="spacing">Subject 6</text>
<text transform="translate(1179.1 680.6) rotate(-90)" text-anchor="middle" style="font-size:35.0px">Accuracy</text>
</g>
<g id="subject7">
<path d="M109.0 1278.0V970.0M109.0 1278.0H551.4" stroke="#000" stroke-width="6.0" fill="none"/>
<path d="M109.0 1216.4h6.1M109.0 1154.8h6.1M109.0 1093.2h6.1M109.0 1031.6h6.1M109.0 970.0h6.1M219.6 1278.0v-6.1M330.2 1278.0v-6.1M440.8 1278.0v-6.1M551.4 1278.0v-6.1" stroke="#000" stroke-width="5.8" fill="none"/>
<clipPath id="cp7"><rect x="109.0" y="960.0" width="452.4" height="318.0"/></clipPath>
<g clip-path="url(#cp7)">
<path class="c" stroke="#ff0000" d="M109.0 1278.0C109.1 1272.0 109.3 1253.5 109.5 1242.2C109.7 1230.9 109.9 1218.8 110.3 1210.2C110.8 1201.6 111.7 1197.0 112.4 1190.7C113.1 1184.5 114.0 1178.2 114.5 1172.6C115.1 1167.1 115.6 1160.4 115.9 1157.3C116.3 1154.2 116.3 1159.1 116.6 1154.0C116.9 1148.9 117.2 1135.0 117.6 1127.0C117.9 1119.0 118.3 1112.6 118.7 1106.1C119.1 1099.6 119.4 1093.6 119.8 1088.0C120.2 1082.5 120.7 1076.8 121.2 1072.7C121.7 1068.7 122.3 1066.0 122.9 1063.7C123.5 1061.4 124.3 1060.0 125.0 1059.1C125.7 1058.2 126.3 1058.2 127.0 1058.1C127.8 1058.1 128.7 1058.5 129.6 1058.8C130.4 1059.1 131.1 1060.0 131.9 1059.9C132.7 1059.8 133.5 1058.8 134.3 1058.1C135.1 1057.4 135.8 1056.2 136.5 1055.8C137.2 1055.3 137.8 1055.2 138.5 1055.3C139.2 1055.4 140.0 1056.2 140.7 1056.3C141.3 1056.4 141.8 1057.0 142.4 1056.0C142.9 1055.1 143.4 1052.8 144.0 1050.5C144.6 1048.1 145.2 1044.9 145.8 1042.1C146.5 1039.3 147.2 1036.1 147.9 1033.8C148.6 1031.4 149.3 1029.5 150.0 1028.2C150.8 1026.8 151.5 1026.3 152.4 1025.7C153.3 1025.1 154.5 1025.1 155.6 1024.7C156.7 1024.3 157.9 1023.8 159.1 1023.3C160.2 1022.9 161.5 1022.5 162.5 1021.9C163.6 1021.4 164.5 1020.5 165.3 1020.1C166.2 1019.8 166.9 1019.6 167.7 1019.8C168.5 1020.1 169.2 1020.9 169.9 1021.5C170.6 1022.1 171.2 1023.4 171.9 1023.3C172.5 1023.3 173.1 1022.5 173.7 1021.2C174.2 1020.0 174.6 1017.6 175.1 1015.7C175.5 1013.8 175.9 1011.1 176.4 1009.8C177.0 1008.5 177.5 1008.2 178.1 1008.0C178.7 1007.8 179.3 1008.2 179.9 1008.7C180.6 1009.2 181.3 1010.1 182.0 1010.8C182.8 1011.4 183.6 1012.5 184.4 1012.6C185.2 1012.7 186.0 1012.0 186.6 1011.5C187.3 1011.0 187.7 1010.0 188.3 1009.8C188.8 1009.6 189.4 1009.2 189.9 1010.4C190.5 1011.6 191.2 1014.7 191.8 1017.1C192.4 1019.4 193.0 1023.0 193.6 1024.7C194.2 1026.5 194.7 1027.5 195.2 1027.5C195.8 1027.5 196.3 1026.3 196.9 1024.7C197.5 1023.1 198.1 1019.8 198.7 1017.8C199.4 1015.7 200.0 1013.7 200.8 1012.2C201.6 1010.7 202.5 1009.8 203.3 1008.7C204.1 1007.6 204.9 1006.8 205.7 1005.6C206.5 1004.5 207.3 1003.0 208.1 1001.8C208.8 1000.5 209.6 999.1 210.3 998.3C211.0 997.5 211.5 997.0 212.2 996.9C212.9 996.8 213.7 997.4 214.4 997.9C215.2 998.3 216.0 999.3 216.8 999.7C217.6 1000.0 218.4 1000.1 219.2 1000.1C219.9 1000.1 220.7 999.6 221.4 999.7C222.1 999.8 222.7 1000.2 223.3 1000.6C224.0 1001.1 224.9 1002.2 225.6 1002.2C226.3 1002.2 226.9 1001.4 227.5 1000.6C228.2 999.9 228.7 998.4 229.3 997.9C229.9 997.3 230.5 997.2 231.2 997.3C231.8 997.4 232.5 998.4 233.1 998.7C233.7 999.0 234.3 999.4 234.9 999.2C235.5 999.1 236.1 998.0 236.7 997.6C237.3 997.1 237.8 996.4 238.4 996.6C238.9 996.8 239.5 997.4 240.1 998.7C240.6 1000.0 241.3 1003.0 241.9 1004.5C242.5 1006.0 243.1 1007.1 243.7 1007.6C244.2 1008.1 244.7 1008.0 245.3 1007.6C246.0 1007.2 246.7 1006.0 247.4 1005.2C248.2 1004.5 249.0 1003.6 249.8 1003.1C250.6 1002.6 251.5 1002.6 252.3 1002.2C253.1 1001.8 254.0 1001.0 254.8 1000.6C255.6 1000.3 256.4 1000.0 257.2 1000.1C258.0 1000.1 258.7 1000.8 259.5 1001.0C260.4 1001.3 261.2 1001.6 262.0 1001.8C262.9 1001.9 263.8 1001.5 264.6 1001.8C265.3 1002.0 265.9 1002.3 266.5 1003.1C267.1 1004.0 267.7 1005.8 268.3 1006.6C268.9 1007.4 269.4 1008.2 270.0 1008.0C270.6 1007.8 271.2 1006.5 271.8 1005.2C272.4 1004.0 272.9 1001.5 273.4 1000.4C274.0 999.3 274.7 998.6 275.3 998.7C275.9 998.7 276.5 1000.1 277.1 1000.6C277.6 1001.2 278.2 1002.2 278.7 1002.0C279.3 1001.9 279.8 1001.0 280.4 999.7C281.0 998.3 281.6 995.4 282.2 994.1C282.8 992.8 283.4 992.1 284.0 991.7C284.7 991.3 285.3 991.6 286.0 991.7C286.7 991.8 287.4 992.4 288.2 992.3C289.0 992.2 289.8 991.7 290.6 991.3C291.4 991.0 292.1 990.1 292.9 990.2C293.8 990.3 294.6 991.0 295.4 991.7C296.3 992.5 297.1 993.8 297.9 994.8C298.8 995.8 299.5 997.0 300.3 997.9C301.1 998.7 301.9 999.6 302.7 1000.1C303.4 1000.5 304.2 1000.7 304.9 1000.6C305.6 1000.6 306.2 1000.2 306.9 999.7C307.5 999.1 308.1 998.0 308.7 997.6C309.3 997.2 309.8 997.1 310.5 997.3C311.1 997.5 311.7 997.9 312.4 999.0C313.1 1000.1 313.9 1001.9 314.6 1003.8C315.4 1005.8 316.3 1008.4 317.0 1010.8C317.8 1013.2 318.5 1016.4 319.1 1018.5C319.7 1020.5 320.2 1022.3 320.8 1023.3C321.3 1024.3 321.8 1024.8 322.3 1024.3C322.8 1023.8 323.5 1022.9 324.0 1020.5C324.5 1018.2 324.9 1013.2 325.4 1010.1C325.9 1007.0 326.4 1003.6 327.0 1001.8C327.6 999.9 328.2 999.4 328.8 999.2C329.4 999.1 330.0 1000.2 330.6 1001.0C331.3 1001.9 332.0 1003.7 332.6 1004.5C333.2 1005.4 334.0 1005.9 334.4 1006.2C334.9 1006.5 334.8 1006.6 335.4 1006.5C335.9 1006.4 336.7 1006.1 337.4 1005.7C338.1 1005.3 338.9 1004.6 339.5 1004.3C340.2 1004.0 340.6 1003.9 341.2 1004.0C341.8 1004.2 342.4 1004.5 343.0 1005.1C343.6 1005.7 344.4 1006.6 345.1 1007.5C345.8 1008.4 346.5 1009.2 347.2 1010.3C347.9 1011.3 348.6 1012.5 349.3 1013.8C350.0 1015.0 350.7 1016.6 351.4 1017.7C352.0 1018.7 352.6 1019.6 353.2 1020.0C353.7 1020.5 354.1 1020.8 354.6 1020.4C355.0 1020.1 355.4 1019.0 355.9 1017.9C356.5 1016.8 357.0 1014.9 357.6 1013.8C358.2 1012.6 359.0 1011.7 359.7 1011.0C360.4 1010.2 361.2 1009.9 361.8 1009.3C362.4 1008.7 362.9 1008.4 363.5 1007.5C364.0 1006.6 364.7 1005.0 365.3 1004.0C365.8 1003.0 366.4 1002.0 366.9 1001.5C367.4 1001.0 367.8 1000.9 368.3 1001.2C368.8 1001.5 369.3 1002.6 369.9 1003.3C370.4 1004.1 371.0 1005.5 371.5 1005.7C372.1 1005.9 372.6 1005.5 373.2 1004.7C373.8 1004.0 374.4 1002.3 375.0 1001.2C375.6 1000.1 376.2 998.8 376.8 998.2C377.4 997.5 378.1 997.3 378.8 997.3C379.4 997.3 380.0 997.4 380.6 998.2C381.2 998.9 381.8 1000.7 382.4 1001.9C383.0 1003.1 383.5 1004.6 384.1 1005.4C384.6 1006.2 385.2 1006.6 385.7 1006.5C386.3 1006.4 386.9 1005.6 387.5 1004.7C388.2 1003.8 388.9 1002.0 389.6 1001.2C390.3 1000.4 391.1 1000.0 391.7 999.8C392.4 999.7 392.9 1000.0 393.5 1000.5C394.1 1001.1 394.8 1002.7 395.5 1003.3C396.1 1003.9 396.6 1004.3 397.3 1004.3C397.9 1004.3 398.7 1004.0 399.4 1003.3C400.1 1002.6 400.8 1000.9 401.4 1000.1C402.1 999.3 402.7 998.7 403.3 998.5C403.8 998.2 404.3 998.3 404.9 998.7C405.6 999.2 406.3 1000.4 407.0 1001.2C407.7 1002.1 408.4 1003.1 409.1 1003.7C409.8 1004.4 410.6 1004.8 411.2 1005.0C411.8 1005.2 412.3 1005.2 413.0 1005.0C413.7 1004.8 414.6 1004.2 415.4 1003.7C416.2 1003.2 416.9 1002.5 417.7 1001.9C418.6 1001.4 419.4 1000.9 420.2 1000.5C421.1 1000.2 421.9 999.9 422.8 999.8C423.6 999.8 424.3 1000.0 425.1 1000.1C425.9 1000.2 426.7 1000.5 427.5 1000.5C428.2 1000.5 429.0 1000.6 429.7 1000.1C430.4 999.7 431.0 998.4 431.6 997.8C432.3 997.1 432.9 996.2 433.5 996.4C434.1 996.5 434.7 997.3 435.3 998.5C435.8 999.6 436.4 1002.3 436.9 1003.3C437.5 1004.4 438.0 1004.6 438.6 1004.7C439.2 1004.8 439.8 1004.1 440.4 1004.0C441.0 1004.0 441.7 1003.6 442.2 1004.3C442.8 1005.0 443.3 1006.8 443.9 1008.2C444.5 1009.5 445.0 1011.5 445.6 1012.4C446.1 1013.3 446.8 1013.8 447.4 1013.5C448.0 1013.1 448.6 1011.9 449.2 1010.3C449.8 1008.7 450.5 1005.6 451.1 1004.0C451.8 1002.4 452.3 1001.3 452.9 1000.5C453.6 999.8 454.1 999.6 454.8 999.6C455.4 999.5 456.0 999.7 456.7 1000.1C457.4 1000.6 458.2 1001.4 458.9 1002.4C459.7 1003.3 460.5 1004.4 461.3 1005.7C462.1 1007.0 462.9 1008.8 463.7 1010.3C464.4 1011.7 465.2 1013.5 465.9 1014.5C466.6 1015.4 467.2 1016.0 467.8 1016.3C468.5 1016.6 469.0 1016.8 469.6 1016.3C470.3 1015.7 470.8 1014.5 471.5 1013.1C472.1 1011.6 472.7 1009.2 473.4 1007.5C474.1 1005.8 474.9 1003.9 475.6 1002.6C476.4 1001.4 477.1 1000.7 478.0 999.8C478.9 999.0 479.9 998.4 480.8 997.8C481.7 997.1 482.7 996.5 483.6 996.1C484.4 995.6 485.2 995.1 485.9 995.0C486.6 994.9 487.1 994.8 487.7 995.4C488.3 996.0 488.9 997.1 489.6 998.5C490.2 999.8 490.9 1002.2 491.5 1003.3C492.1 1004.5 492.7 1005.0 493.3 1005.4C494.0 1005.8 494.7 1005.8 495.4 1005.7C496.1 1005.6 496.8 1005.3 497.5 1004.7C498.2 1004.1 498.9 1003.0 499.6 1001.9C500.3 1000.8 501.0 999.2 501.7 998.2C502.3 997.1 502.9 996.1 503.5 995.7C504.0 995.2 504.6 995.2 505.1 995.4C505.7 995.6 506.2 996.5 506.8 997.1C507.4 997.6 508.0 998.4 508.6 998.5C509.2 998.5 509.8 997.7 510.4 997.3C511.0 996.9 511.5 996.2 512.1 996.1C512.6 996.0 513.2 996.2 513.8 996.8C514.3 997.4 514.6 998.3 515.1 999.8C515.7 1001.4 516.4 1004.4 517.0 1006.1C517.6 1007.8 518.2 1009.2 518.8 1009.9C519.4 1010.5 519.8 1010.3 520.4 1009.9C521.1 1009.5 521.8 1008.5 522.5 1007.5C523.2 1006.5 523.9 1005.1 524.6 1004.0C525.3 1003.0 526.1 1001.9 526.7 1001.2C527.4 1000.6 527.9 1000.2 528.5 1000.1C529.1 1000.0 529.6 1000.0 530.2 1000.5C530.7 1001.1 531.3 1002.3 531.9 1003.3C532.4 1004.4 533.1 1006.0 533.7 1006.8C534.3 1007.6 534.9 1008.3 535.5 1008.2C536.1 1008.1 536.6 1007.4 537.1 1006.1C537.7 1004.8 538.2 1002.3 538.8 1000.5C539.4 998.8 540.0 996.7 540.6 995.7C541.2 994.7 541.8 994.6 542.4 994.5C543.0 994.5 543.5 994.5 544.1 995.4C544.7 996.3 545.3 997.9 545.8 999.8C546.3 1001.7 546.7 1004.5 547.2 1006.8C547.6 1009.1 548.1 1011.7 548.6 1013.8C549.0 1015.8 549.7 1018.2 550.0 1019.0"/>
<path class="c" stroke="#00dd00" d="M109.0 1278.0C109.1 1273.2 109.4 1257.2 109.7 1249.2C109.9 1241.1 110.2 1233.7 110.6 1229.7C111.1 1225.6 111.7 1226.0 112.4 1224.8C113.1 1223.7 114.0 1223.8 114.8 1222.7C115.6 1221.7 116.3 1220.6 117.0 1218.5C117.8 1216.5 118.6 1213.2 119.4 1210.2C120.2 1207.2 121.0 1203.7 121.8 1200.5C122.5 1197.2 123.3 1193.5 124.0 1190.7C124.7 1187.9 125.3 1185.3 125.9 1183.8C126.6 1182.3 127.1 1181.7 127.8 1181.7C128.4 1181.7 128.9 1182.3 129.6 1183.8C130.2 1185.3 130.8 1188.7 131.5 1190.7C132.2 1192.7 133.0 1194.2 133.7 1195.6C134.5 1197.0 135.4 1197.6 136.1 1199.1C136.8 1200.6 137.6 1201.8 138.2 1204.6C138.8 1207.4 139.3 1211.4 139.8 1215.8C140.4 1220.2 141.1 1226.7 141.7 1231.1C142.2 1235.5 142.8 1239.8 143.3 1242.2C143.9 1244.6 144.6 1245.8 145.1 1245.7C145.7 1245.6 146.3 1244.9 146.8 1241.5C147.3 1238.1 147.9 1232.4 148.3 1225.5C148.8 1218.7 149.3 1208.6 149.7 1200.5C150.2 1192.3 150.7 1182.7 151.1 1176.8C151.6 1170.9 152.0 1167.3 152.5 1165.0C153.0 1162.6 153.6 1162.6 154.2 1162.6C154.7 1162.6 155.3 1163.5 155.9 1165.0C156.4 1166.4 156.9 1169.8 157.4 1171.2C157.9 1172.7 158.5 1174.0 159.1 1173.7C159.6 1173.5 160.2 1171.3 160.7 1169.8C161.2 1168.4 161.7 1165.8 162.1 1165.0C162.6 1164.2 163.0 1163.9 163.5 1165.0C164.0 1166.0 164.4 1167.4 164.9 1171.2C165.4 1175.1 165.9 1183.5 166.4 1187.9C166.9 1192.3 167.4 1195.9 167.8 1197.7C168.3 1199.5 168.6 1199.7 169.1 1198.8C169.5 1197.9 170.0 1196.0 170.5 1192.1C170.9 1188.2 171.4 1180.3 171.9 1175.4C172.3 1170.5 172.8 1165.4 173.2 1162.9C173.7 1160.3 174.1 1160.1 174.7 1160.1C175.2 1160.1 175.8 1161.3 176.4 1162.6C177.1 1163.9 177.8 1166.3 178.5 1167.8C179.2 1169.2 179.9 1170.2 180.6 1171.2C181.3 1172.3 182.0 1172.6 182.7 1174.0C183.4 1175.4 184.2 1176.8 184.8 1179.6C185.4 1182.4 186.0 1186.3 186.6 1190.7C187.2 1195.1 187.7 1202.3 188.3 1206.0C188.8 1209.7 189.4 1211.8 189.9 1213.0C190.5 1214.1 190.9 1213.9 191.3 1213.0C191.8 1212.1 192.3 1210.0 192.7 1207.4C193.2 1204.9 193.7 1199.8 194.1 1197.7C194.6 1195.6 195.0 1195.0 195.5 1194.9C196.0 1194.8 196.5 1195.8 197.1 1197.0C197.6 1198.1 198.1 1200.9 198.7 1201.8C199.3 1202.8 199.9 1202.9 200.5 1202.5C201.1 1202.2 201.7 1200.3 202.2 1199.8C202.7 1199.2 203.1 1198.3 203.6 1199.1C204.1 1199.9 204.5 1201.8 205.0 1204.6C205.5 1207.4 206.1 1213.2 206.7 1215.8C207.2 1218.3 207.7 1219.9 208.2 1219.9C208.7 1219.9 209.3 1218.6 209.9 1215.8C210.4 1213.0 211.0 1206.3 211.5 1203.2C212.1 1200.2 212.6 1198.1 213.1 1197.7C213.5 1197.2 213.9 1198.4 214.4 1200.5C215.0 1202.5 215.6 1207.5 216.1 1210.2C216.7 1212.9 217.3 1215.4 217.8 1216.5C218.3 1217.5 218.8 1217.5 219.3 1216.5C219.9 1215.4 220.4 1213.1 221.0 1210.2C221.6 1207.3 222.2 1202.4 222.8 1199.1C223.4 1195.7 224.1 1191.9 224.8 1190.0C225.4 1188.1 226.0 1187.5 226.6 1187.7C227.2 1187.8 227.8 1188.6 228.4 1190.7C228.9 1192.9 229.5 1197.0 230.0 1200.5C230.6 1203.9 231.1 1208.3 231.7 1211.6C232.3 1214.8 233.0 1218.3 233.5 1219.9C234.0 1221.6 234.4 1221.8 234.9 1221.3C235.4 1220.9 236.0 1219.5 236.6 1217.2C237.1 1214.8 237.6 1210.0 238.1 1207.4C238.6 1204.9 239.2 1202.9 239.8 1201.8C240.4 1200.8 240.9 1201.0 241.6 1201.2C242.2 1201.3 242.9 1202.4 243.7 1202.5C244.4 1202.7 245.3 1202.2 246.0 1201.8C246.8 1201.5 247.4 1200.8 248.1 1200.7C248.8 1200.7 249.5 1201.2 250.2 1201.6C250.9 1201.9 251.6 1202.9 252.3 1203.0C253.0 1203.0 253.7 1202.7 254.4 1201.8C255.0 1201.0 255.6 1199.0 256.2 1197.7C256.8 1196.4 257.3 1194.9 257.9 1194.2C258.4 1193.5 259.0 1193.2 259.5 1193.8C260.1 1194.4 260.5 1195.2 261.1 1197.7C261.6 1200.2 262.2 1204.9 262.7 1208.8C263.3 1212.8 263.9 1218.3 264.4 1221.3C264.9 1224.3 265.5 1225.9 265.9 1226.9C266.4 1227.9 266.8 1228.3 267.3 1227.6C267.8 1226.9 268.4 1225.4 269.0 1222.7C269.6 1220.1 270.1 1214.8 270.7 1211.6C271.2 1208.3 271.9 1205.0 272.5 1203.2C273.1 1201.5 273.7 1201.0 274.3 1201.2C274.9 1201.3 275.4 1202.8 276.0 1203.9C276.5 1205.1 277.1 1207.4 277.6 1208.1C278.1 1208.8 278.5 1208.9 279.0 1208.1C279.5 1207.3 280.0 1205.4 280.6 1203.2C281.1 1201.0 281.7 1196.7 282.2 1194.9C282.8 1193.0 283.4 1192.0 283.9 1192.1C284.4 1192.2 284.9 1193.7 285.4 1195.6C286.0 1197.4 286.5 1201.6 287.1 1203.2C287.6 1204.9 288.2 1205.2 288.8 1205.3C289.3 1205.4 290.0 1204.2 290.6 1203.9C291.1 1203.6 291.7 1202.9 292.2 1203.5C292.8 1204.1 293.4 1205.7 294.1 1207.4C294.7 1209.1 295.2 1212.1 295.9 1213.7C296.5 1215.3 297.1 1216.3 297.8 1216.9C298.5 1217.5 299.1 1217.2 299.9 1217.2C300.7 1217.2 301.6 1217.1 302.4 1216.9C303.2 1216.7 304.1 1216.5 304.9 1216.0C305.7 1215.6 306.5 1215.0 307.3 1214.1C308.1 1213.2 308.9 1212.0 309.6 1210.9C310.4 1209.8 311.2 1208.3 311.9 1207.4C312.6 1206.5 313.2 1205.7 313.8 1205.3C314.4 1204.9 315.0 1204.8 315.6 1204.9C316.3 1205.0 317.1 1205.8 317.7 1205.8C318.3 1205.7 318.8 1205.6 319.4 1204.6C320.0 1203.6 320.6 1200.9 321.2 1199.8C321.8 1198.6 322.3 1197.6 322.9 1198.0C323.4 1198.3 323.9 1199.3 324.4 1201.8C324.9 1204.4 325.5 1209.8 326.1 1213.0C326.6 1216.1 327.2 1219.1 327.7 1220.6C328.3 1222.2 328.7 1222.6 329.3 1222.5C329.8 1222.3 330.4 1222.2 330.9 1219.9C331.5 1217.7 332.1 1212.8 332.6 1208.8C333.1 1204.9 333.6 1199.7 334.1 1196.3C334.7 1192.8 335.5 1189.6 336.1 1188.2C336.6 1186.8 337.2 1187.0 337.7 1187.7C338.3 1188.3 338.7 1189.3 339.2 1192.1C339.8 1194.9 340.4 1201.4 340.9 1204.6C341.5 1207.9 342.0 1210.2 342.6 1211.6C343.2 1213.0 343.8 1212.8 344.4 1213.0C345.0 1213.2 345.8 1213.2 346.5 1212.7C347.2 1212.2 347.9 1211.5 348.6 1210.2C349.2 1208.9 349.8 1206.8 350.4 1204.6C351.0 1202.4 351.5 1198.7 352.1 1197.0C352.6 1195.3 353.2 1194.5 353.7 1194.6C354.3 1194.7 354.7 1195.3 355.2 1197.7C355.8 1200.0 356.4 1205.7 356.9 1208.8C357.5 1211.9 358.1 1215.0 358.6 1216.5C359.1 1217.9 359.6 1217.8 360.1 1217.4C360.7 1217.1 361.2 1216.1 361.8 1214.4C362.4 1212.7 363.0 1209.5 363.6 1207.4C364.2 1205.4 364.9 1203.1 365.6 1202.1C366.2 1201.2 366.8 1201.0 367.4 1201.6C367.9 1202.1 368.4 1203.4 369.0 1205.3C369.6 1207.2 370.2 1210.8 370.8 1213.0C371.4 1215.2 372.0 1217.4 372.6 1218.5C373.3 1219.7 374.0 1220.1 374.6 1219.9C375.2 1219.8 375.8 1218.8 376.4 1217.9C377.0 1216.9 377.5 1214.9 378.1 1214.1C378.6 1213.3 379.1 1212.8 379.6 1213.3C380.1 1213.8 380.8 1214.9 381.3 1217.2C381.8 1219.4 382.2 1224.0 382.7 1226.9C383.1 1229.8 383.6 1233.0 384.1 1234.6C384.6 1236.1 385.2 1236.7 385.7 1236.4C386.3 1236.0 386.7 1235.0 387.3 1232.5C387.8 1230.0 388.4 1224.1 388.9 1221.3C389.4 1218.5 389.8 1216.9 390.3 1215.8C390.8 1214.7 391.4 1214.8 392.0 1214.7C392.6 1214.5 393.2 1215.6 393.8 1215.1C394.4 1214.6 394.9 1213.3 395.5 1211.6C396.0 1209.8 396.5 1206.3 397.0 1204.6C397.5 1203.0 398.1 1201.8 398.7 1201.8C399.2 1201.8 399.8 1202.8 400.3 1204.6C400.9 1206.5 401.6 1210.9 402.1 1213.0C402.7 1215.1 403.2 1216.3 403.8 1217.2C404.4 1218.0 405.0 1217.7 405.6 1217.9C406.3 1218.0 407.0 1217.9 407.7 1218.3C408.4 1218.6 409.1 1219.5 409.8 1219.9C410.5 1220.4 411.2 1220.8 411.9 1221.1C412.6 1221.3 413.3 1221.5 414.0 1221.3C414.7 1221.1 415.4 1220.9 416.1 1219.9C416.8 1219.0 417.5 1217.6 418.1 1215.8C418.8 1213.9 419.3 1211.4 420.0 1208.8C420.6 1206.3 421.2 1202.8 421.9 1200.5C422.6 1198.1 423.4 1196.1 424.0 1194.9C424.6 1193.7 425.2 1193.3 425.8 1193.5C426.4 1193.7 427.0 1194.4 427.6 1196.3C428.2 1198.1 428.9 1201.7 429.6 1204.6C430.2 1207.5 431.0 1211.1 431.6 1213.7C432.3 1216.2 433.0 1218.7 433.7 1219.9C434.4 1221.2 435.2 1221.6 435.8 1221.3C436.5 1221.1 437.0 1220.4 437.6 1218.5C438.2 1216.7 438.8 1213.4 439.4 1210.2C440.1 1207.0 440.8 1202.2 441.4 1199.1C442.0 1195.9 442.6 1193.2 443.2 1191.4C443.8 1189.7 444.4 1189.2 445.0 1188.6C445.6 1188.1 446.1 1187.6 446.7 1188.2C447.2 1188.8 447.8 1189.6 448.4 1192.1C448.9 1194.6 449.6 1199.8 450.2 1203.2C450.7 1206.7 451.3 1210.5 451.8 1213.0C452.4 1215.4 452.8 1217.0 453.4 1217.9C453.9 1218.7 454.5 1219.0 455.0 1218.3C455.6 1217.6 456.2 1216.2 456.7 1213.7C457.2 1211.2 457.8 1205.7 458.2 1203.2C458.7 1200.8 459.2 1199.8 459.6 1199.1C460.1 1198.4 460.5 1198.1 461.0 1199.1C461.5 1200.0 462.1 1201.8 462.7 1204.6C463.3 1207.4 463.9 1212.6 464.5 1215.8C465.1 1218.9 465.6 1221.8 466.2 1223.4C466.7 1225.0 467.3 1225.0 467.8 1225.2C468.3 1225.5 468.7 1225.7 469.2 1224.8C469.7 1223.9 470.2 1222.4 470.8 1219.9C471.3 1217.5 471.9 1212.9 472.4 1210.2C473.0 1207.5 473.5 1205.2 474.1 1203.9C474.7 1202.7 475.3 1202.6 475.9 1202.5C476.6 1202.5 477.3 1203.2 478.0 1203.5C478.7 1203.9 479.4 1204.8 480.1 1204.6C480.8 1204.5 481.5 1203.0 482.2 1202.5C482.9 1202.1 483.6 1201.8 484.3 1201.8C485.0 1201.9 485.7 1202.3 486.4 1203.0C487.0 1203.7 487.7 1204.6 488.4 1206.0C489.2 1207.5 490.1 1209.7 490.9 1211.6C491.8 1213.4 492.6 1215.6 493.3 1217.2C494.1 1218.7 494.7 1220.2 495.4 1221.1C496.1 1221.9 496.8 1222.5 497.5 1222.5C498.2 1222.4 498.9 1221.8 499.6 1220.6C500.3 1219.5 501.0 1217.4 501.7 1215.8C502.4 1214.1 503.0 1212.2 503.7 1210.9C504.4 1209.6 505.1 1208.8 505.8 1208.1C506.5 1207.4 507.2 1207.1 507.9 1206.7C508.7 1206.3 509.6 1206.1 510.4 1205.8C511.2 1205.4 512.0 1205.1 512.8 1204.4C513.5 1203.6 514.3 1202.2 514.9 1201.2C515.5 1200.1 516.0 1198.6 516.5 1198.0C517.1 1197.3 517.5 1197.0 517.9 1197.4C518.4 1197.8 518.8 1198.8 519.3 1200.5C519.8 1202.1 520.4 1206.0 520.9 1207.4C521.3 1208.8 521.8 1209.3 522.2 1208.8C522.7 1208.3 523.2 1207.2 523.6 1204.6C524.1 1202.1 524.6 1196.4 525.0 1193.5C525.5 1190.6 526.0 1188.4 526.4 1187.2C526.9 1186.0 527.4 1185.7 527.8 1186.3C528.3 1186.8 528.7 1187.9 529.2 1190.7C529.7 1193.5 530.1 1199.3 530.6 1203.2C531.1 1207.2 531.5 1211.7 532.0 1214.4C532.5 1217.0 532.9 1218.3 533.4 1219.2C533.9 1220.2 534.4 1219.7 535.1 1219.9C535.7 1220.2 536.4 1220.3 537.1 1220.6C537.9 1221.0 538.8 1221.6 539.6 1222.0C540.5 1222.5 541.2 1223.1 542.0 1223.4C542.8 1223.8 543.6 1224.0 544.4 1224.1C545.1 1224.2 545.9 1224.2 546.6 1224.1C547.3 1224.0 548.0 1223.7 548.6 1223.4C549.1 1223.1 549.8 1222.6 550.1 1222.5"/>
</g>
<text class="t" transform="translate(102.0 1288.1) scale(1 1.03)" text-anchor="end">0.0</text>
<text class="t" transform="translate(102.0 1226.5) scale(1 1.03)" text-anchor="end">0.2</text>
<text class="t" transform="translate(102.0 1164.9) scale(1 1.03)" text-anchor="end">0.4</text>
<text class="t" transform="translate(102.0 1103.3) scale(1 1.03)" text-anchor="end">0.6</text>
<text class="t" transform="translate(102.0 1041.7) scale(1 1.03)" text-anchor="end">0.8</text>
<text class="t" transform="translate(102.0 980.1) scale(1 1.03)" text-anchor="end">1.0</text>
<text class="t" transform="translate(109.0 1310.8) scale(1 1.03)" text-anchor="middle">0</text>
<text class="t" transform="translate(219.6 1310.8) scale(1 1.03)" text-anchor="middle">50</text>
<text class="t" transform="translate(330.2 1310.8) scale(1 1.03)" text-anchor="middle">100</text>
<text class="t" transform="translate(440.8 1310.8) scale(1 1.03)" text-anchor="middle">150</text>
<text class="t" transform="translate(551.4 1310.8) scale(1 1.03)" text-anchor="middle">200</text>
<text transform="translate(332.5 1343.4) scale(1 1.03)" text-anchor="middle" textLength="103.3" lengthAdjust="spacing">Epochs</text>
<text transform="translate(331.9 1383.2) scale(1 1.03)" text-anchor="middle" textLength="129.4" lengthAdjust="spacing">Subject 7</text>
<text transform="translate(31.8 1117.4) rotate(-90)" text-anchor="middle" style="font-size:35.0px">Accuracy</text>
</g>
<g id="subject8">
<path d="M677.7 1279.6V971.4M677.7 1279.6H1120.1" stroke="#000" stroke-width="6.0" fill="none"/>
<path d="M677.7 1218.0h6.1M677.7 1156.3h6.1M677.7 1094.7h6.1M677.7 1033.0h6.1M677.7 971.4h6.1M788.3 1279.6v-6.1M898.9 1279.6v-6.1M1009.5 1279.6v-6.1M1120.1 1279.6v-6.1" stroke="#000" stroke-width="5.8" fill="none"/>
<clipPath id="cp8"><rect x="677.7" y="961.4" width="452.4" height="318.2"/></clipPath>
<g clip-path="url(#cp8)">
<path class="c" stroke="#ff0000" d="M677.7 1279.6C677.8 1275.7 678.0 1264.7 678.2 1256.1C678.5 1247.6 678.7 1237.6 679.1 1228.3C679.4 1219.0 679.8 1209.7 680.2 1200.5C680.6 1191.2 681.0 1180.4 681.3 1172.6C681.6 1164.9 681.6 1160.4 681.9 1154.0C682.1 1147.6 682.5 1140.1 682.8 1134.0C683.2 1127.8 683.4 1122.6 683.8 1117.3C684.2 1111.9 684.7 1106.5 685.2 1102.0C685.7 1097.4 686.4 1093.6 687.0 1090.1C687.6 1086.6 688.4 1084.2 689.1 1081.1C689.8 1077.9 690.5 1074.5 691.2 1071.3C691.8 1068.2 692.4 1064.7 693.0 1062.3C693.6 1059.9 694.3 1057.9 694.9 1056.7C695.6 1055.6 696.2 1054.9 696.8 1055.3C697.3 1055.8 697.9 1057.8 698.4 1059.5C699.0 1061.2 699.4 1064.5 700.0 1065.8C700.5 1067.0 701.1 1068.1 701.6 1067.2C702.2 1066.2 702.8 1063.9 703.3 1060.2C703.8 1056.5 704.2 1049.5 704.7 1044.9C705.1 1040.3 705.5 1035.5 706.1 1032.4C706.6 1029.2 707.1 1027.6 707.9 1026.1C708.6 1024.6 709.7 1024.5 710.7 1023.3C711.6 1022.2 712.5 1020.3 713.5 1019.1C714.4 1018.0 715.2 1017.2 716.2 1016.4C717.3 1015.5 718.6 1015.1 719.7 1014.3C720.9 1013.5 722.2 1012.2 723.2 1011.5C724.2 1010.7 724.9 1010.1 725.5 1009.8C726.2 1009.5 726.8 1009.4 727.4 1009.8C728.0 1010.3 728.6 1011.5 729.2 1012.6C729.8 1013.7 730.3 1015.6 730.8 1016.4C731.4 1017.1 731.9 1017.3 732.5 1017.1C733.1 1016.8 733.7 1015.9 734.3 1015.0C734.9 1014.0 735.5 1011.9 736.1 1011.2C736.7 1010.5 737.2 1010.5 737.8 1010.8C738.4 1011.1 738.9 1012.0 739.5 1012.9C740.1 1013.8 740.6 1015.5 741.3 1016.4C741.9 1017.2 742.6 1017.6 743.4 1018.2C744.1 1018.7 745.1 1018.9 745.9 1019.6C746.7 1020.2 747.5 1021.4 748.2 1021.9C748.9 1022.5 749.4 1023.0 750.0 1022.9C750.7 1022.8 751.4 1021.9 752.0 1021.2C752.6 1020.6 753.3 1019.5 753.8 1019.1C754.3 1018.8 754.7 1018.6 755.2 1019.1C755.7 1019.7 756.3 1021.9 756.9 1022.6C757.5 1023.4 758.1 1024.2 758.7 1023.7C759.2 1023.3 759.6 1021.9 760.1 1019.8C760.5 1017.8 761.0 1013.2 761.5 1011.5C761.9 1009.8 762.4 1009.1 762.9 1009.4C763.3 1009.7 763.8 1010.9 764.2 1013.6C764.7 1016.2 765.2 1021.7 765.6 1025.4C766.1 1029.1 766.6 1033.6 767.0 1035.8C767.5 1038.1 768.0 1038.7 768.4 1038.6C768.9 1038.5 769.3 1037.8 769.8 1035.2C770.3 1032.5 770.7 1026.6 771.2 1022.6C771.7 1018.7 772.1 1014.5 772.6 1011.5C773.1 1008.5 773.7 1005.9 774.3 1004.5C774.8 1003.2 775.5 1003.2 776.1 1003.4C776.7 1003.7 777.3 1004.8 777.9 1005.9C778.5 1007.0 779.0 1009.3 779.5 1010.1C780.1 1010.9 780.7 1011.3 781.2 1010.8C781.8 1010.3 782.2 1008.8 782.8 1007.3C783.3 1005.8 783.8 1002.8 784.4 1001.8C785.0 1000.7 785.6 1000.7 786.2 1000.8C786.8 1000.9 787.3 1001.1 787.9 1002.5C788.5 1003.8 789.1 1006.6 789.7 1008.7C790.3 1010.8 791.0 1013.6 791.7 1015.0C792.3 1016.4 792.9 1017.2 793.5 1017.1C794.1 1016.9 794.6 1015.9 795.1 1014.3C795.7 1012.7 796.3 1009.1 797.0 1007.3C797.6 1005.5 798.2 1004.1 798.8 1003.6C799.3 1003.0 799.9 1003.1 800.4 1003.8C801.0 1004.6 801.5 1006.2 802.1 1008.0C802.7 1009.9 803.3 1013.0 803.9 1015.0C804.5 1016.9 805.1 1018.8 805.7 1019.8C806.3 1020.9 806.8 1021.5 807.4 1021.2C807.9 1021.0 808.5 1019.7 809.0 1018.5C809.6 1017.2 810.3 1014.9 810.9 1013.6C811.5 1012.3 812.1 1011.3 812.7 1010.8C813.2 1010.3 813.7 1010.3 814.3 1010.8C815.0 1011.3 815.7 1012.7 816.4 1013.6C817.1 1014.5 817.8 1015.8 818.5 1016.4C819.2 1016.9 820.0 1017.4 820.6 1017.1C821.3 1016.7 821.8 1015.8 822.4 1014.3C823.0 1012.8 823.5 1009.8 824.1 1008.0C824.6 1006.3 825.2 1004.8 825.8 1003.8C826.3 1002.9 827.0 1002.6 827.6 1002.5C828.2 1002.3 828.8 1002.4 829.4 1003.1C830.0 1003.8 830.5 1005.6 831.0 1006.6C831.6 1007.7 832.1 1008.9 832.7 1009.4C833.3 1009.9 833.9 1010.3 834.5 1009.8C835.1 1009.4 835.8 1007.8 836.3 1006.6C836.9 1005.4 837.4 1003.3 838.0 1002.5C838.6 1001.6 839.1 1001.4 839.7 1001.5C840.2 1001.6 840.8 1002.4 841.5 1003.1C842.1 1003.8 842.9 1005.1 843.6 1005.6C844.3 1006.2 845.0 1006.2 845.7 1006.6C846.4 1007.0 847.0 1007.1 847.7 1008.0C848.4 1008.9 849.2 1011.1 849.8 1012.2C850.5 1013.2 851.1 1014.3 851.6 1014.3C852.2 1014.3 852.8 1013.5 853.3 1012.2C853.9 1010.9 854.4 1008.0 855.0 1006.6C855.6 1005.2 856.2 1004.2 856.8 1003.8C857.4 1003.4 857.9 1003.6 858.5 1004.3C859.0 1005.0 859.6 1006.8 860.3 1008.0C860.9 1009.2 861.7 1010.3 862.4 1011.5C863.1 1012.6 863.7 1014.0 864.4 1015.0C865.1 1015.9 865.9 1016.8 866.5 1017.3C867.2 1017.9 867.7 1018.4 868.3 1018.2C869.0 1017.9 869.7 1017.1 870.3 1015.7C870.9 1014.2 871.5 1011.1 872.1 1009.4C872.7 1007.7 873.3 1006.0 873.9 1005.2C874.5 1004.4 875.0 1004.5 875.6 1004.5C876.2 1004.5 877.0 1005.1 877.7 1005.2C878.4 1005.3 879.1 1005.3 879.8 1005.2C880.4 1005.1 881.2 1004.5 881.8 1004.5C882.5 1004.5 882.9 1004.4 883.5 1005.2C884.1 1006.0 884.7 1008.1 885.3 1009.4C885.9 1010.7 886.5 1012.3 887.1 1012.9C887.7 1013.4 888.2 1013.1 888.8 1012.6C889.4 1012.1 890.0 1010.6 890.6 1010.1C891.2 1009.6 891.7 1009.1 892.3 1009.4C892.8 1009.7 893.4 1011.3 894.0 1012.2C894.5 1013.0 895.2 1014.3 895.8 1014.5C896.4 1014.8 897.0 1014.7 897.6 1013.6C898.2 1012.5 898.7 1009.8 899.2 1008.0C899.8 1006.3 900.3 1004.2 900.9 1003.1C901.5 1002.1 902.3 1002.0 902.7 1001.8C903.2 1001.5 903.1 1001.7 903.6 1001.9C904.2 1002.1 905.2 1002.5 906.0 1002.9C906.8 1003.3 907.8 1003.8 908.5 1004.3C909.3 1004.8 910.0 1005.3 910.6 1006.1C911.3 1006.9 911.8 1007.4 912.4 1008.9C913.0 1010.4 913.5 1012.8 914.1 1015.1C914.6 1017.5 915.2 1020.8 915.8 1022.8C916.3 1024.8 916.8 1026.1 917.3 1027.0C917.8 1027.8 918.2 1028.3 918.7 1028.0C919.1 1027.6 919.6 1026.8 920.1 1024.9C920.5 1023.0 921.0 1019.3 921.5 1016.5C922.0 1013.8 922.6 1010.0 923.1 1008.2C923.7 1006.4 924.3 1006.0 925.0 1005.7C925.6 1005.3 926.2 1005.9 926.9 1006.1C927.6 1006.3 928.4 1006.7 929.1 1006.8C929.9 1006.9 930.7 1006.6 931.5 1006.8C932.3 1007.0 933.0 1007.6 933.9 1007.9C934.7 1008.3 935.6 1009.0 936.4 1008.9C937.1 1008.8 937.8 1008.0 938.5 1007.5C939.1 1007.0 939.8 1006.0 940.5 1005.7C941.2 1005.3 941.9 1005.6 942.6 1005.4C943.3 1005.2 944.0 1004.9 944.7 1004.3C945.4 1003.7 946.1 1002.4 946.8 1001.9C947.4 1001.4 948.0 1001.0 948.6 1001.2C949.2 1001.5 949.8 1001.8 950.3 1003.3C950.8 1004.8 951.2 1008.1 951.7 1010.3C952.2 1012.4 952.8 1015.1 953.3 1016.3C953.9 1017.4 954.5 1017.4 955.1 1017.2C955.8 1017.1 956.5 1016.4 957.2 1015.1C957.9 1013.9 958.6 1011.2 959.3 1009.6C960.0 1008.0 960.7 1006.4 961.4 1005.4C962.1 1004.4 962.9 1004.0 963.5 1003.7C964.1 1003.5 964.7 1003.5 965.3 1004.0C965.9 1004.5 966.6 1005.5 967.2 1006.8C967.9 1008.1 968.7 1010.1 969.5 1011.7C970.2 1013.2 971.1 1015.2 971.9 1016.3C972.6 1017.3 973.2 1017.8 973.9 1017.9C974.6 1018.0 975.3 1017.4 976.0 1016.8C976.7 1016.2 977.4 1015.1 978.1 1014.5C978.8 1013.8 979.5 1013.0 980.2 1012.6C980.9 1012.3 981.6 1012.5 982.3 1012.4C983.0 1012.3 983.7 1012.6 984.4 1012.1C985.1 1011.6 985.8 1010.8 986.5 1009.6C987.2 1008.4 987.9 1006.1 988.5 1004.7C989.2 1003.3 989.9 1001.9 990.6 1001.2C991.3 1000.5 992.1 1000.4 992.7 1000.5C993.4 1000.7 993.9 1001.1 994.5 1001.9C995.2 1002.7 995.9 1004.5 996.5 1005.4C997.1 1006.3 997.7 1006.9 998.3 1007.2C998.9 1007.5 999.5 1007.4 1000.1 1007.1C1000.7 1006.7 1001.2 1005.6 1001.8 1005.1C1002.3 1004.7 1002.9 1004.3 1003.4 1004.3C1004.0 1004.3 1004.4 1004.2 1005.0 1005.1C1005.5 1006.0 1006.1 1007.7 1006.6 1009.6C1007.2 1011.5 1007.9 1014.7 1008.5 1016.5C1009.0 1018.4 1009.6 1019.9 1010.1 1020.7C1010.7 1021.5 1011.2 1021.8 1011.8 1021.4C1012.4 1021.1 1013.0 1019.7 1013.6 1018.6C1014.2 1017.6 1014.8 1015.8 1015.4 1015.1C1016.0 1014.5 1016.5 1014.3 1017.1 1014.5C1017.7 1014.6 1018.5 1015.5 1019.2 1016.3C1019.9 1017.0 1020.5 1018.2 1021.2 1019.0C1022.0 1019.9 1022.9 1020.9 1023.8 1021.4C1024.6 1022.0 1025.4 1022.3 1026.1 1022.4C1026.9 1022.5 1027.5 1022.7 1028.2 1022.1C1028.9 1021.5 1029.6 1020.3 1030.3 1018.6C1031.0 1017.0 1031.7 1014.2 1032.4 1012.4C1033.1 1010.5 1033.8 1008.7 1034.5 1007.5C1035.2 1006.3 1035.9 1005.7 1036.6 1005.1C1037.3 1004.6 1038.0 1004.4 1038.7 1004.3C1039.3 1004.2 1040.0 1003.9 1040.7 1004.4C1041.4 1005.0 1042.1 1006.2 1042.8 1007.5C1043.5 1008.8 1044.2 1011.0 1044.9 1012.4C1045.6 1013.8 1046.3 1015.2 1047.0 1015.9C1047.7 1016.5 1048.2 1016.5 1048.8 1016.3C1049.4 1016.0 1050.0 1014.8 1050.5 1014.5C1051.0 1014.1 1051.4 1013.9 1051.9 1014.5C1052.4 1015.0 1053.0 1016.9 1053.5 1017.9C1054.1 1018.9 1054.8 1020.0 1055.3 1020.4C1055.9 1020.9 1056.2 1021.1 1056.7 1020.4C1057.3 1019.8 1058.0 1018.1 1058.5 1016.5C1059.1 1015.0 1059.6 1012.7 1060.2 1011.0C1060.8 1009.2 1061.6 1007.2 1062.3 1006.1C1063.0 1005.0 1063.7 1004.5 1064.4 1004.3C1065.1 1004.1 1065.8 1004.4 1066.5 1004.7C1067.2 1005.0 1067.9 1006.0 1068.6 1006.1C1069.3 1006.2 1069.9 1005.9 1070.7 1005.4C1071.4 1004.9 1072.2 1003.7 1073.0 1002.9C1073.8 1002.1 1074.7 1001.0 1075.5 1000.5C1076.4 1000.0 1077.2 999.8 1078.0 999.8C1078.8 999.8 1079.6 1000.0 1080.4 1000.5C1081.2 1001.1 1082.0 1002.3 1082.8 1003.3C1083.5 1004.4 1084.2 1005.6 1085.0 1006.8C1085.8 1008.0 1086.6 1009.4 1087.4 1010.3C1088.1 1011.2 1088.8 1011.8 1089.4 1012.1C1090.1 1012.4 1090.5 1012.5 1091.1 1012.1C1091.7 1011.7 1092.3 1010.5 1092.9 1009.6C1093.5 1008.7 1094.2 1007.2 1094.7 1006.8C1095.3 1006.4 1095.8 1006.5 1096.4 1007.1C1097.0 1007.7 1097.5 1009.2 1098.1 1010.3C1098.6 1011.4 1099.3 1013.1 1099.9 1013.8C1100.5 1014.4 1101.0 1014.5 1101.5 1014.0C1102.1 1013.6 1102.7 1012.3 1103.4 1011.0C1104.0 1009.7 1104.8 1007.4 1105.5 1006.1C1106.1 1004.8 1106.8 1003.5 1107.5 1002.9C1108.2 1002.3 1108.9 1002.3 1109.6 1002.4C1110.3 1002.4 1111.0 1002.7 1111.7 1003.3C1112.4 1003.9 1113.1 1005.0 1113.8 1006.1C1114.5 1007.2 1115.3 1008.7 1115.9 1009.9C1116.5 1011.0 1117.0 1012.2 1117.6 1013.1C1118.1 1013.9 1118.7 1014.6 1119.0 1014.9"/>
<path class="c" stroke="#00dd00" d="M677.7 1279.6C677.7 1274.5 677.8 1260.0 678.0 1249.2C678.1 1238.3 678.4 1224.6 678.6 1214.4C678.9 1204.2 679.3 1193.7 679.6 1187.9C680.0 1182.1 680.4 1181.0 680.7 1179.6C681.1 1178.1 681.4 1178.4 681.9 1179.3C682.3 1180.2 682.7 1182.1 683.2 1185.2C683.8 1188.2 684.4 1193.7 684.9 1197.7C685.5 1201.6 686.0 1206.4 686.6 1208.8C687.2 1211.2 687.8 1212.1 688.4 1211.9C689.0 1211.6 689.5 1210.5 690.1 1207.4C690.6 1204.4 691.1 1199.5 691.6 1193.5C692.1 1187.5 692.7 1178.0 693.3 1171.2C693.8 1164.5 694.4 1157.2 694.9 1153.1C695.5 1149.1 695.9 1148.0 696.3 1146.9C696.8 1145.8 697.3 1145.6 697.7 1146.5C698.2 1147.3 698.6 1148.1 699.1 1151.8C699.6 1155.4 700.0 1162.4 700.5 1168.5C701.0 1174.5 701.5 1182.8 702.0 1187.9C702.6 1193.0 703.1 1196.9 703.7 1199.1C704.3 1201.3 704.8 1201.4 705.4 1201.2C706.0 1200.9 706.5 1199.3 707.2 1197.7C707.8 1196.1 708.6 1192.7 709.3 1191.4C710.0 1190.1 710.7 1189.8 711.4 1190.0C712.1 1190.3 712.8 1191.5 713.5 1192.8C714.1 1194.1 714.8 1196.4 715.5 1197.7C716.2 1199.0 717.0 1200.2 717.6 1200.7C718.2 1201.2 718.7 1201.5 719.3 1200.7C719.9 1200.0 720.5 1197.8 721.1 1196.3C721.7 1194.7 722.3 1192.3 722.8 1191.4C723.3 1190.5 723.6 1190.2 724.2 1191.0C724.7 1191.8 725.4 1193.5 726.0 1196.3C726.6 1199.0 727.2 1204.3 727.8 1207.4C728.4 1210.6 728.9 1213.6 729.5 1215.1C730.0 1216.6 730.6 1217.0 731.1 1216.5C731.7 1215.9 732.2 1215.0 732.6 1211.6C733.1 1208.2 733.6 1201.6 734.0 1196.3C734.5 1190.9 735.0 1183.6 735.4 1179.6C735.9 1175.5 736.4 1173.2 736.8 1171.9C737.3 1170.7 737.7 1170.7 738.1 1171.9C738.5 1173.2 738.8 1175.1 739.2 1179.6C739.6 1184.1 740.1 1193.5 740.6 1199.1C741.0 1204.6 741.5 1210.2 742.0 1213.0C742.4 1215.8 742.9 1216.3 743.4 1216.0C743.8 1215.8 744.2 1214.9 744.8 1211.6C745.3 1208.3 745.8 1202.1 746.4 1196.3C747.0 1190.5 747.6 1182.4 748.2 1176.8C748.8 1171.2 749.4 1166.6 750.0 1162.9C750.7 1159.2 751.3 1156.6 752.0 1154.5C752.7 1152.4 753.4 1151.3 754.1 1150.4C754.8 1149.4 755.5 1149.1 756.2 1149.0C756.8 1148.9 757.4 1148.7 758.0 1149.7C758.5 1150.6 758.9 1150.9 759.4 1154.5C759.8 1158.1 760.3 1165.0 760.8 1171.2C761.2 1177.5 761.7 1186.7 762.1 1192.1C762.6 1197.6 763.1 1201.7 763.5 1203.9C764.0 1206.1 764.5 1205.9 764.9 1205.3C765.4 1204.8 765.8 1203.1 766.3 1200.5C766.8 1197.8 767.4 1192.3 768.0 1189.3C768.6 1186.3 769.2 1183.7 769.8 1182.4C770.4 1181.0 771.0 1181.1 771.5 1181.2C772.0 1181.4 772.4 1181.0 772.9 1183.1C773.3 1185.1 773.8 1189.2 774.3 1193.5C774.7 1197.8 775.2 1204.8 775.6 1208.8C776.1 1212.9 776.6 1216.4 777.0 1217.9C777.5 1219.4 778.0 1218.8 778.4 1217.9C778.9 1216.9 779.4 1213.6 779.8 1212.3C780.3 1211.0 780.8 1209.9 781.2 1209.9C781.7 1209.9 782.1 1210.9 782.6 1212.3C783.1 1213.7 783.5 1216.6 784.0 1218.5C784.5 1220.5 785.2 1223.0 785.8 1224.1C786.5 1225.3 787.2 1225.5 787.9 1225.5C788.6 1225.6 789.3 1224.8 790.0 1224.4C790.7 1224.0 791.4 1223.3 792.1 1223.0C792.8 1222.7 793.5 1222.5 794.2 1222.5C794.9 1222.4 795.6 1222.6 796.2 1222.5C796.9 1222.3 797.6 1222.0 798.3 1221.3C799.0 1220.7 799.7 1219.6 800.4 1218.5C801.1 1217.5 801.8 1216.1 802.5 1215.1C803.2 1214.0 804.0 1213.5 804.6 1212.3C805.2 1211.1 805.8 1210.3 806.4 1208.1C807.0 1205.9 807.5 1202.9 808.1 1199.1C808.6 1195.2 809.2 1189.3 809.8 1185.2C810.3 1181.0 811.0 1176.8 811.6 1174.0C812.1 1171.2 812.6 1169.7 813.2 1168.5C813.8 1167.2 814.4 1166.7 815.0 1166.8C815.6 1166.9 816.3 1167.5 816.9 1169.2C817.4 1170.8 818.0 1173.7 818.5 1176.8C819.1 1179.9 819.6 1184.0 820.2 1187.9C820.8 1191.9 821.4 1196.9 822.0 1200.5C822.6 1204.1 823.1 1207.9 823.7 1209.5C824.2 1211.1 824.7 1211.0 825.2 1210.2C825.7 1209.4 826.1 1207.6 826.6 1204.6C827.1 1201.6 827.5 1195.2 828.0 1192.1C828.4 1189.0 828.9 1186.9 829.4 1185.8C829.8 1184.8 830.3 1184.6 830.8 1185.8C831.2 1187.1 831.7 1189.9 832.2 1193.5C832.6 1197.1 833.1 1203.6 833.5 1207.4C834.0 1211.2 834.4 1214.7 834.9 1216.5C835.5 1218.3 836.0 1218.2 836.6 1218.3C837.2 1218.3 837.8 1217.5 838.4 1216.9C839.0 1216.2 839.5 1214.8 840.1 1214.4C840.6 1213.9 841.2 1213.8 841.8 1214.1C842.3 1214.4 843.0 1215.8 843.6 1216.5C844.2 1217.2 844.7 1218.0 845.2 1218.3C845.8 1218.5 846.3 1219.0 846.8 1217.9C847.3 1216.7 847.7 1215.2 848.2 1211.6C848.6 1208.0 849.1 1200.7 849.5 1196.3C850.0 1191.9 850.5 1187.5 850.9 1185.2C851.4 1182.8 851.9 1182.0 852.3 1182.1C852.8 1182.2 853.3 1183.0 853.7 1185.8C854.2 1188.7 854.7 1195.7 855.1 1199.1C855.6 1202.4 856.0 1204.8 856.5 1206.0C857.0 1207.2 857.4 1207.5 857.9 1206.3C858.4 1205.1 859.1 1200.9 859.6 1199.1C860.1 1197.2 860.5 1195.8 861.0 1195.2C861.4 1194.6 861.8 1194.7 862.4 1195.6C862.9 1196.5 863.4 1198.3 864.0 1200.5C864.6 1202.7 865.3 1206.3 865.8 1208.8C866.4 1211.4 867.0 1214.5 867.5 1215.8C868.0 1217.0 868.4 1217.2 868.9 1216.5C869.4 1215.8 869.9 1214.5 870.4 1211.6C870.9 1208.7 871.4 1203.2 871.8 1199.1C872.3 1194.9 872.7 1189.1 873.2 1186.5C873.7 1184.0 874.1 1183.6 874.6 1183.8C875.1 1183.9 875.5 1184.7 876.0 1187.2C876.5 1189.8 877.1 1195.4 877.7 1199.1C878.2 1202.8 878.8 1207.1 879.3 1209.5C879.9 1211.9 880.5 1213.0 881.1 1213.7C881.8 1214.4 882.5 1214.1 883.2 1213.7C883.9 1213.2 884.6 1212.1 885.3 1210.9C886.1 1209.7 887.0 1207.8 887.8 1206.7C888.6 1205.6 889.4 1204.9 890.2 1204.4C890.9 1203.8 891.6 1203.6 892.3 1203.5C893.0 1203.5 893.7 1203.4 894.4 1203.9C895.1 1204.5 895.8 1205.2 896.5 1206.7C897.1 1208.2 897.9 1211.2 898.5 1213.0C899.2 1214.7 899.8 1216.3 900.4 1217.2C900.9 1218.0 901.4 1218.6 902.0 1217.9C902.7 1217.2 903.7 1215.4 904.4 1213.0C905.0 1210.5 905.4 1206.6 906.0 1203.2C906.6 1199.9 907.2 1195.3 907.8 1192.8C908.4 1190.3 909.0 1189.0 909.5 1188.2C910.0 1187.4 910.5 1187.3 911.0 1187.9C911.6 1188.6 912.1 1189.8 912.7 1192.1C913.3 1194.4 913.8 1198.5 914.4 1201.8C915.0 1205.2 915.6 1209.4 916.2 1212.3C916.8 1215.2 917.4 1217.6 918.0 1219.2C918.6 1220.9 919.1 1221.6 919.7 1222.0C920.2 1222.5 920.8 1222.7 921.3 1222.0C921.9 1221.3 922.5 1219.9 923.1 1217.9C923.7 1215.8 924.3 1212.4 925.0 1209.5C925.6 1206.6 926.2 1203.0 926.9 1200.5C927.6 1197.9 928.3 1195.8 929.0 1194.2C929.7 1192.6 930.4 1191.4 931.1 1190.7C931.8 1190.0 932.5 1190.1 933.2 1190.0C933.8 1190.0 934.4 1189.6 935.0 1190.4C935.6 1191.3 936.1 1192.1 936.6 1194.9C937.2 1197.7 937.6 1203.2 938.2 1207.4C938.7 1211.6 939.3 1216.7 939.8 1219.9C940.4 1223.2 940.9 1225.5 941.5 1226.9C942.1 1228.3 942.7 1228.2 943.3 1228.3C944.0 1228.4 944.7 1228.0 945.4 1227.6C946.1 1227.2 947.0 1226.5 947.8 1225.8C948.6 1225.1 949.4 1224.5 950.3 1223.4C951.1 1222.3 952.0 1220.9 952.8 1219.2C953.6 1217.6 954.4 1215.4 955.1 1213.7C955.9 1212.0 956.5 1210.1 957.2 1209.1C957.9 1208.0 958.7 1207.8 959.3 1207.4C960.0 1207.0 960.5 1207.4 961.1 1206.7C961.7 1206.0 962.2 1205.7 962.8 1203.2C963.4 1200.8 963.9 1195.2 964.5 1192.1C965.0 1189.0 965.5 1186.1 966.0 1184.5C966.5 1182.8 967.2 1182.5 967.7 1182.4C968.2 1182.3 968.6 1182.4 969.1 1183.8C969.5 1185.2 969.9 1187.2 970.5 1190.7C971.0 1194.2 971.5 1200.2 972.1 1204.6C972.7 1209.0 973.3 1213.9 973.9 1217.2C974.5 1220.4 975.0 1222.7 975.6 1224.1C976.2 1225.6 976.9 1225.7 977.4 1225.8C977.9 1225.9 978.3 1226.0 978.8 1224.8C979.3 1223.6 979.9 1221.2 980.5 1218.5C981.0 1215.9 981.5 1211.6 982.0 1208.8C982.5 1206.0 983.1 1203.2 983.7 1201.8C984.3 1200.5 984.9 1200.5 985.5 1200.7C986.1 1201.0 986.6 1202.2 987.1 1203.2C987.7 1204.2 988.3 1206.1 988.8 1206.7C989.4 1207.4 989.8 1207.5 990.4 1207.1C990.9 1206.8 991.4 1205.4 992.0 1204.6C992.6 1203.9 993.2 1203.0 993.8 1202.5C994.5 1202.1 995.2 1201.8 995.8 1201.8C996.4 1201.8 997.0 1202.5 997.6 1202.5C998.2 1202.5 998.7 1202.4 999.3 1201.8C999.8 1201.3 1000.5 1199.8 1001.1 1199.1C1001.7 1198.4 1002.2 1197.6 1002.7 1197.7C1003.3 1197.8 1004.0 1198.6 1004.5 1199.8C1005.1 1200.9 1005.6 1203.6 1006.2 1204.6C1006.8 1205.7 1007.4 1206.0 1008.0 1206.0C1008.6 1206.0 1009.2 1205.2 1009.8 1204.6C1010.5 1204.1 1011.1 1203.0 1011.8 1202.5C1012.5 1202.1 1013.2 1201.8 1013.9 1201.8C1014.6 1201.8 1015.3 1202.2 1016.0 1202.5C1016.7 1202.9 1017.4 1203.7 1018.0 1203.9C1018.7 1204.2 1019.3 1204.5 1019.9 1203.9C1020.4 1203.4 1021.0 1201.9 1021.5 1200.5C1022.1 1199.0 1022.5 1196.2 1023.1 1195.2C1023.6 1194.1 1024.2 1193.8 1024.7 1194.2C1025.3 1194.6 1025.8 1195.7 1026.4 1197.7C1027.0 1199.7 1027.6 1203.5 1028.2 1206.0C1028.9 1208.6 1029.6 1211.2 1030.3 1213.0C1031.0 1214.7 1031.7 1215.6 1032.4 1216.5C1033.1 1217.3 1033.8 1217.6 1034.5 1217.9C1035.1 1218.1 1035.7 1218.2 1036.3 1217.9C1036.9 1217.5 1037.6 1216.7 1038.2 1215.8C1038.9 1214.8 1039.6 1213.5 1040.3 1212.3C1041.0 1211.1 1041.7 1209.7 1042.4 1208.8C1043.1 1207.9 1043.8 1207.4 1044.5 1206.7C1045.2 1206.0 1045.9 1205.9 1046.6 1204.6C1047.2 1203.4 1047.8 1201.2 1048.4 1199.1C1049.0 1197.0 1049.5 1193.6 1050.1 1192.1C1050.6 1190.6 1051.1 1189.9 1051.6 1190.0C1052.1 1190.1 1052.7 1191.1 1053.3 1192.8C1053.8 1194.5 1054.4 1198.4 1054.9 1200.5C1055.5 1202.5 1056.1 1204.2 1056.7 1205.3C1057.4 1206.5 1058.1 1206.6 1058.8 1207.4C1059.5 1208.2 1060.3 1209.0 1060.9 1210.2C1061.6 1211.4 1062.1 1213.5 1062.7 1214.4C1063.3 1215.3 1063.8 1215.8 1064.4 1215.5C1064.9 1215.1 1065.5 1214.1 1066.1 1212.3C1066.6 1210.5 1067.3 1207.0 1067.9 1204.6C1068.4 1202.3 1069.0 1199.8 1069.5 1198.4C1070.1 1197.0 1070.8 1196.5 1071.3 1196.3C1071.9 1196.0 1072.4 1196.1 1073.0 1197.0C1073.6 1197.9 1074.2 1199.6 1074.8 1201.8C1075.5 1204.1 1076.2 1207.6 1076.9 1210.2C1077.6 1212.8 1078.4 1215.4 1079.0 1217.2C1079.7 1218.9 1080.2 1220.0 1080.8 1220.6C1081.4 1221.3 1081.9 1221.4 1082.5 1221.1C1083.0 1220.7 1083.6 1219.5 1084.2 1218.5C1084.7 1217.6 1085.4 1215.8 1086.0 1215.1C1086.6 1214.3 1087.1 1214.3 1087.8 1214.1C1088.4 1213.9 1089.1 1214.4 1089.7 1214.1C1090.3 1213.8 1090.9 1213.6 1091.5 1212.3C1092.1 1210.9 1092.8 1207.8 1093.3 1206.0C1093.9 1204.3 1094.4 1202.7 1095.0 1201.8C1095.6 1201.0 1096.2 1201.0 1096.8 1201.2C1097.4 1201.3 1098.1 1202.1 1098.8 1203.0C1099.4 1203.8 1100.1 1205.1 1100.9 1206.0C1101.6 1207.0 1102.3 1207.9 1103.1 1208.5C1103.8 1209.2 1104.7 1209.4 1105.5 1209.9C1106.2 1210.5 1107.0 1211.1 1107.8 1211.9C1108.6 1212.7 1109.3 1213.8 1110.0 1214.7C1110.8 1215.5 1111.4 1216.6 1112.1 1217.2C1112.8 1217.7 1113.5 1218.0 1114.2 1217.9C1114.9 1217.7 1115.5 1217.1 1116.2 1216.5C1116.8 1215.8 1117.5 1214.6 1118.0 1214.1C1118.5 1213.6 1118.9 1213.4 1119.1 1213.3"/>
</g>
<text class="t" transform="translate(670.7 1289.7) scale(1 1.03)" text-anchor="end">0.0</text>
<text class="t" transform="translate(670.7 1228.1) scale(1 1.03)" text-anchor="end">0.2</text>
<text class="t" transform="translate(670.7 1166.4) scale(1 1.03)" text-anchor="end">0.4</text>
<text class="t" transform="translate(670.7 1104.8) scale(1 1.03)" text-anchor="end">0.6</text>
<text class="t" transform="translate(670.7 1043.1) scale(1 1.03)" text-anchor="end">0.8</text>
<text class="t" transform="translate(670.7 981.5) scale(1 1.03)" text-anchor="end">1.0</text>
<text class="t" transform="translate(677.7 1312.4) scale(1 1.03)" text-anchor="middle">0</text>
<text class="t" transform="translate(788.3 1312.4) scale(1 1.03)" text-anchor="middle">50</text>
<text class="t" transform="translate(898.9 1312.4) scale(1 1.03)" text-anchor="middle">100</text>
<text class="t" transform="translate(1009.5 1312.4) scale(1 1.03)" text-anchor="middle">150</text>
<text class="t" transform="translate(1120.1 1312.4) scale(1 1.03)" text-anchor="middle">200</text>
<text transform="translate(899.1 1344.5) scale(1 1.03)" text-anchor="middle" textLength="103.3" lengthAdjust="spacing">Epochs</text>
<text transform="translate(904.1 1381.8) scale(1 1.03)" text-anchor="middle" textLength="129.4" lengthAdjust="spacing">Subject 8</text>
<text transform="translate(600.5 1118.9) rotate(-90)" text-anchor="middle" style="font-size:35.0px">Accuracy</text>
</g>
<g id="subject9">
<path d="M1255.8 1278.8V970.8M1255.8 1278.8H1698.2" stroke="#000" stroke-width="6.0" fill="none"/>
<path d="M1255.8 1217.2h6.1M1255.8 1155.6h6.1M1255.8 1094.0h6.1M1255.8 1032.4h6.1M1255.8 970.8h6.1M1366.4 1278.8v-6.1M1477.0 1278.8v-6.1M1587.6 1278.8v-6.1M1698.2 1278.8v-6.1" stroke="#000" stroke-width="5.8" fill="none"/>
<clipPath id="cp9"><rect x="1255.8" y="960.8" width="452.4" height="318.0"/></clipPath>
<g clip-path="url(#cp9)">
<path class="c" stroke="#ff0000" d="M1255.8 1278.8C1255.9 1273.9 1256.0 1258.7 1256.1 1249.2C1256.2 1239.6 1256.4 1230.6 1256.5 1221.3C1256.7 1212.1 1256.8 1204.7 1257.0 1193.5C1257.1 1182.3 1257.1 1164.0 1257.2 1154.0C1257.4 1143.9 1257.5 1140.0 1257.7 1133.1C1257.8 1126.1 1258.0 1118.5 1258.3 1112.2C1258.7 1105.9 1259.0 1100.1 1259.5 1095.5C1259.9 1090.9 1260.3 1087.5 1260.9 1084.4C1261.4 1081.2 1262.0 1078.7 1262.5 1076.7C1263.1 1074.7 1263.6 1073.5 1264.2 1072.5C1264.8 1071.6 1265.4 1071.2 1266.0 1071.2C1266.6 1071.2 1267.2 1071.7 1267.8 1072.5C1268.4 1073.4 1269.1 1075.2 1269.8 1076.0C1270.4 1076.8 1270.9 1077.3 1271.6 1077.4C1272.2 1077.5 1272.8 1077.0 1273.7 1076.7C1274.5 1076.4 1275.5 1076.1 1276.4 1075.8C1277.4 1075.4 1278.3 1075.4 1279.2 1074.6C1280.1 1073.9 1280.9 1072.2 1281.7 1071.2C1282.5 1070.1 1283.4 1068.9 1284.1 1068.4C1284.8 1067.8 1285.4 1067.7 1286.2 1067.7C1286.9 1067.7 1287.9 1068.1 1288.7 1068.4C1289.5 1068.6 1290.3 1069.2 1291.0 1069.3C1291.8 1069.5 1292.7 1069.6 1293.4 1069.3C1294.2 1069.1 1294.9 1068.8 1295.7 1068.0C1296.4 1067.1 1297.3 1065.9 1298.0 1064.2C1298.8 1062.5 1299.4 1060.2 1300.1 1057.9C1300.8 1055.6 1301.5 1052.5 1302.2 1050.3C1302.9 1048.1 1303.6 1045.9 1304.3 1044.7C1305.0 1043.5 1305.7 1043.2 1306.4 1043.3C1307.1 1043.4 1307.8 1044.2 1308.5 1045.4C1309.1 1046.6 1309.8 1048.8 1310.5 1050.3C1311.2 1051.8 1311.9 1053.5 1312.6 1054.5C1313.3 1055.4 1314.1 1056.0 1314.7 1055.8C1315.4 1055.7 1315.9 1055.3 1316.5 1053.8C1317.1 1052.3 1317.8 1048.9 1318.5 1046.8C1319.1 1044.7 1319.7 1042.5 1320.3 1041.2C1320.9 1040.0 1321.5 1039.4 1322.1 1039.2C1322.7 1038.9 1323.1 1038.9 1323.8 1039.6C1324.4 1040.3 1325.2 1042.0 1325.8 1043.3C1326.5 1044.6 1327.2 1046.7 1327.9 1047.5C1328.6 1048.3 1329.3 1048.4 1330.0 1048.2C1330.7 1048.0 1331.4 1047.3 1332.1 1046.1C1332.8 1044.9 1333.5 1042.6 1334.2 1041.2C1334.9 1039.9 1335.4 1038.8 1336.0 1038.2C1336.6 1037.5 1337.1 1037.2 1337.7 1037.5C1338.3 1037.8 1339.1 1038.9 1339.8 1039.8C1340.5 1040.8 1341.1 1042.5 1341.8 1043.3C1342.6 1044.1 1343.5 1044.7 1344.4 1044.7C1345.2 1044.7 1346.0 1044.1 1346.7 1043.3C1347.5 1042.6 1348.2 1041.0 1348.8 1040.1C1349.4 1039.2 1349.9 1038.3 1350.5 1037.8C1351.1 1037.2 1351.6 1036.9 1352.3 1037.1C1352.9 1037.2 1353.6 1037.8 1354.4 1038.5C1355.1 1039.1 1356.1 1040.2 1356.9 1041.2C1357.7 1042.3 1358.5 1043.5 1359.2 1044.7C1360.0 1045.9 1360.6 1047.4 1361.3 1048.2C1362.0 1049.0 1362.8 1049.7 1363.4 1049.6C1364.1 1049.5 1364.6 1048.9 1365.2 1047.5C1365.9 1046.1 1366.6 1043.0 1367.2 1041.2C1367.8 1039.5 1368.3 1038.0 1369.0 1037.1C1369.6 1036.1 1370.3 1035.7 1371.1 1035.4C1371.8 1035.0 1372.8 1034.9 1373.6 1035.0C1374.4 1035.0 1375.2 1035.0 1376.0 1035.7C1376.7 1036.4 1377.3 1037.5 1378.0 1039.2C1378.7 1040.8 1379.4 1043.7 1380.1 1045.4C1380.8 1047.1 1381.5 1048.7 1382.2 1049.6C1382.9 1050.5 1383.6 1050.9 1384.3 1050.7C1385.0 1050.5 1385.7 1049.8 1386.4 1048.2C1387.1 1046.6 1387.8 1043.3 1388.5 1041.2C1389.1 1039.1 1389.7 1036.9 1390.3 1035.7C1390.9 1034.4 1391.6 1033.9 1392.2 1033.6C1392.9 1033.2 1393.5 1032.8 1394.0 1033.6C1394.6 1034.4 1395.0 1036.0 1395.4 1038.5C1395.9 1040.9 1396.4 1045.5 1396.8 1048.2C1397.3 1050.9 1397.7 1053.2 1398.2 1054.5C1398.7 1055.7 1399.3 1056.2 1399.9 1055.8C1400.4 1055.5 1400.9 1054.5 1401.4 1052.4C1401.9 1050.3 1402.5 1045.8 1403.1 1043.3C1403.6 1040.9 1404.2 1038.9 1404.8 1037.8C1405.3 1036.6 1406.0 1036.1 1406.6 1036.4C1407.1 1036.6 1407.7 1037.6 1408.2 1039.2C1408.8 1040.7 1409.5 1044.0 1410.0 1045.4C1410.6 1046.8 1411.2 1047.3 1411.7 1047.5C1412.2 1047.7 1412.8 1047.8 1413.2 1046.8C1413.7 1045.8 1414.1 1043.7 1414.6 1041.2C1415.2 1038.8 1415.8 1034.2 1416.3 1032.2C1416.9 1030.2 1417.4 1029.6 1418.0 1029.0C1418.6 1028.4 1419.2 1028.3 1419.8 1028.7C1420.4 1029.1 1420.9 1029.9 1421.5 1031.5C1422.0 1033.1 1422.7 1036.0 1423.3 1038.5C1423.9 1040.9 1424.4 1043.9 1425.1 1046.1C1425.7 1048.3 1426.4 1050.4 1427.0 1051.7C1427.6 1052.9 1428.2 1053.2 1428.8 1053.5C1429.4 1053.7 1430.1 1053.7 1430.6 1053.1C1431.2 1052.4 1431.7 1051.2 1432.3 1049.6C1432.9 1048.0 1433.7 1045.2 1434.4 1043.3C1435.1 1041.5 1435.8 1039.5 1436.5 1038.5C1437.2 1037.4 1437.9 1037.1 1438.6 1037.1C1439.3 1037.0 1440.0 1037.6 1440.7 1038.2C1441.4 1038.8 1442.2 1040.4 1442.8 1040.5C1443.3 1040.7 1443.7 1040.3 1444.1 1039.2C1444.6 1038.0 1445.1 1035.0 1445.5 1033.6C1446.0 1032.1 1446.4 1031.0 1446.9 1030.4C1447.4 1029.8 1448.0 1029.6 1448.6 1030.1C1449.2 1030.6 1449.8 1032.0 1450.4 1033.6C1451.0 1035.2 1451.5 1038.3 1452.1 1039.8C1452.6 1041.4 1453.3 1042.3 1453.9 1042.9C1454.5 1043.5 1455.1 1043.6 1455.7 1043.3C1456.3 1043.0 1457.0 1042.3 1457.6 1041.2C1458.3 1040.2 1458.8 1038.2 1459.5 1037.1C1460.1 1035.9 1460.7 1035.0 1461.3 1034.5C1461.8 1034.1 1462.3 1034.0 1462.9 1034.3C1463.6 1034.6 1464.3 1035.3 1465.0 1036.4C1465.7 1037.4 1466.4 1039.5 1467.1 1040.5C1467.8 1041.6 1468.5 1042.4 1469.2 1042.6C1469.8 1042.9 1470.4 1042.5 1471.0 1041.9C1471.6 1041.4 1472.1 1040.0 1472.7 1039.2C1473.2 1038.3 1473.8 1037.2 1474.3 1036.8C1474.9 1036.3 1475.5 1036.1 1476.2 1036.4C1476.8 1036.6 1477.5 1037.5 1478.2 1038.5C1479.0 1039.4 1479.8 1040.8 1480.7 1041.9C1481.7 1043.1 1483.1 1044.3 1484.0 1045.2C1485.0 1046.0 1485.6 1046.6 1486.4 1047.0C1487.2 1047.4 1487.9 1047.8 1488.6 1047.7C1489.3 1047.6 1490.0 1047.3 1490.6 1046.6C1491.2 1045.9 1491.8 1044.7 1492.4 1043.5C1493.0 1042.3 1493.6 1040.5 1494.2 1039.3C1494.8 1038.1 1495.5 1036.9 1496.2 1036.3C1496.8 1035.6 1497.4 1035.4 1498.0 1035.4C1498.6 1035.4 1499.1 1035.9 1499.8 1036.3C1500.4 1036.6 1501.0 1037.4 1501.7 1037.7C1502.4 1037.9 1503.2 1038.1 1504.0 1037.9C1504.7 1037.8 1505.5 1037.3 1506.3 1036.8C1507.1 1036.3 1507.9 1035.6 1508.7 1034.9C1509.4 1034.2 1510.3 1033.1 1510.9 1032.7C1511.6 1032.2 1512.0 1031.9 1512.6 1032.0C1513.1 1032.0 1513.7 1031.9 1514.2 1033.1C1514.8 1034.2 1515.4 1037.0 1516.0 1038.6C1516.7 1040.3 1517.3 1042.0 1517.9 1042.8C1518.4 1043.6 1519.0 1043.6 1519.5 1043.2C1520.1 1042.9 1520.6 1041.9 1521.2 1040.7C1521.8 1039.5 1522.4 1037.2 1523.0 1035.8C1523.6 1034.5 1524.2 1033.3 1524.8 1032.7C1525.4 1032.0 1525.9 1031.8 1526.5 1032.0C1527.0 1032.1 1527.6 1032.7 1528.2 1033.8C1528.7 1034.8 1529.4 1037.2 1530.0 1038.2C1530.6 1039.3 1531.2 1040.0 1531.8 1040.0C1532.4 1040.1 1532.9 1039.6 1533.5 1038.6C1534.0 1037.7 1534.5 1035.4 1535.1 1034.5C1535.7 1033.5 1536.3 1033.1 1536.9 1033.1C1537.5 1033.1 1538.2 1033.8 1538.7 1034.5C1539.3 1035.1 1539.9 1036.7 1540.4 1037.2C1541.0 1037.8 1541.5 1038.2 1542.1 1037.9C1542.7 1037.7 1543.3 1036.5 1543.9 1035.8C1544.5 1035.2 1545.1 1034.1 1545.7 1033.8C1546.3 1033.5 1546.8 1033.6 1547.4 1034.0C1547.9 1034.5 1548.5 1035.4 1549.0 1036.5C1549.6 1037.7 1550.2 1039.4 1550.8 1040.7C1551.5 1042.0 1552.0 1043.4 1552.7 1044.2C1553.3 1045.0 1554.0 1045.4 1554.6 1045.6C1555.2 1045.8 1555.8 1045.9 1556.4 1045.6C1557.1 1045.2 1557.8 1044.3 1558.5 1043.5C1559.2 1042.7 1559.9 1041.6 1560.6 1040.7C1561.3 1039.8 1562.0 1038.7 1562.7 1037.9C1563.4 1037.2 1564.1 1036.6 1564.8 1036.3C1565.5 1035.9 1566.2 1035.8 1566.8 1035.8C1567.5 1035.9 1568.2 1036.2 1568.9 1036.5C1569.6 1036.8 1570.3 1037.5 1571.0 1037.7C1571.7 1037.8 1572.5 1037.7 1573.1 1037.2C1573.8 1036.8 1574.3 1035.6 1574.9 1034.9C1575.5 1034.1 1576.2 1033.1 1576.9 1032.7C1577.5 1032.2 1578.1 1032.1 1578.7 1032.1C1579.3 1032.0 1579.9 1032.0 1580.5 1032.4C1581.1 1032.8 1581.6 1033.1 1582.2 1034.5C1582.7 1035.8 1583.2 1038.1 1583.8 1040.7C1584.4 1043.4 1585.0 1047.7 1585.6 1050.5C1586.2 1053.2 1586.8 1056.0 1587.5 1057.4C1588.1 1058.9 1588.8 1059.2 1589.4 1059.1C1590.0 1059.0 1590.6 1058.6 1591.2 1056.7C1591.8 1054.8 1592.4 1050.6 1593.0 1047.7C1593.6 1044.8 1594.1 1041.4 1594.7 1039.3C1595.3 1037.2 1595.8 1036.2 1596.5 1035.2C1597.1 1034.1 1597.8 1033.5 1598.6 1033.1C1599.3 1032.6 1600.2 1032.5 1601.0 1032.4C1601.7 1032.3 1602.5 1032.3 1603.3 1032.4C1604.1 1032.5 1604.8 1032.9 1605.5 1033.1C1606.2 1033.2 1606.8 1033.3 1607.5 1033.1C1608.2 1032.8 1608.9 1032.0 1609.7 1031.7C1610.5 1031.3 1611.3 1031.0 1612.1 1031.0C1612.8 1031.0 1613.5 1031.2 1614.2 1031.7C1614.9 1032.1 1615.6 1033.1 1616.3 1033.8C1617.0 1034.5 1617.6 1035.4 1618.3 1035.8C1619.0 1036.3 1619.7 1036.5 1620.4 1036.5C1621.1 1036.5 1621.8 1036.1 1622.5 1035.8C1623.2 1035.6 1624.0 1035.1 1624.6 1035.2C1625.3 1035.2 1625.8 1035.8 1626.4 1036.3C1627.0 1036.7 1627.5 1037.4 1628.1 1037.7C1628.7 1037.9 1629.5 1038.0 1630.2 1037.7C1630.9 1037.4 1631.6 1036.5 1632.3 1035.8C1633.0 1035.2 1633.7 1034.2 1634.3 1033.5C1635.0 1032.8 1635.7 1032.1 1636.4 1031.7C1637.1 1031.3 1637.8 1031.1 1638.5 1031.0C1639.2 1030.9 1639.9 1030.9 1640.6 1031.0C1641.3 1031.0 1642.0 1031.4 1642.7 1031.2C1643.4 1031.1 1643.9 1030.6 1644.5 1030.3C1645.1 1030.0 1645.8 1029.4 1646.5 1029.6C1647.1 1029.7 1647.6 1030.3 1648.3 1031.2C1648.9 1032.2 1649.7 1034.0 1650.3 1035.2C1651.0 1036.3 1651.7 1037.6 1652.4 1038.2C1653.1 1038.9 1653.8 1039.1 1654.5 1039.0C1655.2 1039.0 1655.9 1038.5 1656.6 1037.9C1657.3 1037.4 1658.0 1036.5 1658.7 1035.8C1659.4 1035.2 1660.1 1034.4 1660.8 1034.0C1661.5 1033.6 1662.2 1033.4 1662.9 1033.5C1663.6 1033.5 1664.3 1034.1 1665.0 1034.5C1665.7 1034.8 1666.4 1035.5 1667.0 1035.8C1667.7 1036.2 1668.5 1036.4 1669.1 1036.3C1669.8 1036.1 1670.4 1035.6 1671.0 1035.2C1671.5 1034.7 1672.1 1034.0 1672.6 1033.8C1673.2 1033.5 1673.7 1033.4 1674.3 1033.8C1674.9 1034.1 1675.5 1035.3 1676.1 1035.8C1676.7 1036.4 1677.3 1037.1 1677.9 1037.2C1678.5 1037.4 1679.0 1037.1 1679.6 1036.5C1680.1 1036.0 1680.7 1034.6 1681.2 1033.8C1681.8 1032.9 1682.4 1031.8 1683.1 1031.2C1683.7 1030.7 1684.4 1031.0 1685.1 1030.7C1685.8 1030.4 1686.5 1030.2 1687.2 1029.6C1687.9 1029.0 1688.6 1027.7 1689.3 1027.1C1690.0 1026.4 1690.8 1025.9 1691.4 1025.7C1692.1 1025.5 1692.6 1025.5 1693.2 1025.7C1693.8 1025.9 1694.3 1026.5 1694.9 1027.1C1695.4 1027.6 1696.3 1028.6 1696.6 1028.9"/>
<path class="c" stroke="#00dd00" d="M1255.8 1278.8C1255.9 1275.0 1256.0 1263.4 1256.3 1256.1C1256.5 1248.9 1256.8 1240.8 1257.2 1235.2C1257.6 1229.7 1258.1 1226.4 1258.6 1222.7C1259.2 1219.0 1259.8 1216.5 1260.4 1213.0C1261.0 1209.5 1261.7 1205.8 1262.2 1201.8C1262.8 1197.9 1263.4 1192.8 1263.9 1189.3C1264.5 1185.9 1265.1 1182.6 1265.6 1181.0C1266.1 1179.4 1266.5 1179.1 1267.0 1179.6C1267.4 1180.0 1267.8 1181.2 1268.4 1183.8C1268.9 1186.3 1269.6 1191.6 1270.2 1194.9C1270.8 1198.1 1271.4 1201.2 1272.0 1203.2C1272.6 1205.3 1273.3 1205.8 1273.9 1207.4C1274.6 1209.0 1275.1 1210.9 1275.8 1213.0C1276.4 1215.1 1276.9 1217.6 1277.6 1219.9C1278.2 1222.3 1278.9 1225.2 1279.5 1226.9C1280.1 1228.6 1280.7 1229.4 1281.3 1230.0C1281.9 1230.5 1282.5 1230.9 1283.1 1230.4C1283.7 1229.9 1284.2 1228.9 1284.8 1226.9C1285.3 1224.9 1285.9 1221.6 1286.5 1218.5C1287.0 1215.5 1287.7 1211.6 1288.3 1208.8C1288.9 1206.0 1289.5 1203.5 1290.1 1201.8C1290.7 1200.2 1291.3 1199.6 1292.0 1199.1C1292.7 1198.6 1293.5 1198.8 1294.3 1198.8C1295.0 1198.8 1295.9 1199.5 1296.6 1199.1C1297.3 1198.7 1297.9 1197.6 1298.4 1196.3C1299.0 1195.0 1299.4 1192.3 1299.8 1191.4C1300.3 1190.5 1300.7 1190.1 1301.2 1190.7C1301.7 1191.3 1302.1 1191.6 1302.6 1194.9C1303.1 1198.1 1303.5 1205.7 1304.0 1210.2C1304.5 1214.7 1304.9 1219.7 1305.4 1222.0C1305.9 1224.4 1306.3 1225.0 1306.8 1224.4C1307.2 1223.8 1307.7 1221.8 1308.2 1218.5C1308.6 1215.3 1309.1 1208.0 1309.6 1204.6C1310.0 1201.3 1310.4 1199.5 1311.0 1198.4C1311.5 1197.3 1312.1 1197.6 1312.6 1198.0C1313.2 1198.3 1313.7 1199.6 1314.3 1200.2C1314.9 1200.7 1315.5 1201.3 1316.1 1201.2C1316.7 1201.0 1317.4 1199.4 1317.9 1199.1C1318.4 1198.7 1318.8 1197.9 1319.3 1199.1C1319.8 1200.2 1320.2 1202.6 1320.7 1206.0C1321.2 1209.5 1321.6 1216.5 1322.1 1219.9C1322.6 1223.4 1323.0 1225.7 1323.5 1226.9C1323.9 1228.1 1324.3 1228.3 1324.7 1227.2C1325.2 1226.0 1325.6 1223.7 1326.1 1219.9C1326.6 1216.2 1327.2 1208.7 1327.7 1204.6C1328.1 1200.6 1328.5 1197.4 1329.0 1195.6C1329.6 1193.8 1330.2 1193.5 1330.7 1193.8C1331.3 1194.0 1331.8 1195.2 1332.4 1197.0C1333.0 1198.8 1333.6 1202.0 1334.2 1204.6C1334.8 1207.3 1335.6 1210.3 1336.3 1213.0C1337.0 1215.6 1337.7 1218.9 1338.4 1220.6C1339.0 1222.4 1339.6 1223.5 1340.2 1223.4C1340.8 1223.3 1341.3 1223.1 1341.8 1219.9C1342.4 1216.8 1342.8 1210.4 1343.2 1204.6C1343.7 1198.8 1344.1 1190.7 1344.6 1185.2C1345.1 1179.6 1345.8 1174.2 1346.3 1171.2C1346.8 1168.3 1347.4 1168.0 1347.8 1167.3C1348.3 1166.7 1348.8 1166.5 1349.2 1167.3C1349.7 1168.2 1350.2 1169.2 1350.6 1172.6C1351.1 1176.1 1351.5 1182.4 1352.0 1187.9C1352.5 1193.5 1353.0 1202.0 1353.4 1206.0C1353.8 1210.1 1354.2 1211.5 1354.7 1212.3C1355.1 1213.1 1355.6 1213.1 1356.0 1210.9C1356.5 1208.7 1357.0 1202.4 1357.4 1199.1C1357.9 1195.7 1358.4 1192.2 1358.8 1190.7C1359.3 1189.3 1359.8 1189.5 1360.2 1190.4C1360.7 1191.4 1361.1 1193.0 1361.6 1196.3C1362.1 1199.6 1362.5 1206.7 1363.0 1210.2C1363.5 1213.7 1363.9 1216.0 1364.4 1217.2C1364.9 1218.3 1365.3 1218.0 1365.8 1217.2C1366.3 1216.3 1366.7 1213.5 1367.2 1212.3C1367.6 1211.1 1368.1 1209.8 1368.6 1209.9C1369.0 1210.0 1369.5 1211.4 1370.0 1213.0C1370.4 1214.5 1370.9 1218.0 1371.3 1219.2C1371.8 1220.5 1372.3 1221.2 1372.8 1220.6C1373.2 1220.1 1373.7 1218.4 1374.1 1215.8C1374.6 1213.1 1375.2 1207.4 1375.7 1204.6C1376.2 1201.8 1376.6 1200.1 1377.1 1199.1C1377.5 1198.0 1377.9 1197.9 1378.5 1198.4C1379.0 1198.8 1379.5 1200.0 1380.1 1201.8C1380.7 1203.7 1381.4 1207.5 1381.9 1209.5C1382.5 1211.5 1383.0 1213.0 1383.6 1213.7C1384.2 1214.4 1384.7 1214.5 1385.3 1213.7C1385.8 1212.9 1386.3 1211.2 1386.8 1208.8C1387.3 1206.4 1387.7 1201.3 1388.2 1199.1C1388.7 1196.9 1389.1 1196.1 1389.6 1195.6C1390.1 1195.1 1390.5 1194.7 1391.0 1196.0C1391.4 1197.3 1391.9 1199.7 1392.4 1203.2C1392.8 1206.8 1393.3 1213.9 1393.8 1217.2C1394.2 1220.4 1394.7 1221.8 1395.2 1222.7C1395.6 1223.7 1396.0 1223.9 1396.5 1223.0C1397.0 1222.1 1397.6 1219.8 1398.2 1217.2C1398.8 1214.6 1399.4 1209.9 1400.0 1207.4C1400.6 1205.0 1401.3 1203.4 1402.0 1202.5C1402.6 1201.7 1403.2 1201.7 1403.8 1202.5C1404.4 1203.4 1404.9 1205.2 1405.5 1207.4C1406.0 1209.6 1406.7 1213.8 1407.3 1215.8C1407.9 1217.7 1408.5 1218.7 1409.1 1219.2C1409.6 1219.8 1410.2 1220.3 1410.7 1219.2C1411.3 1218.2 1411.9 1216.1 1412.4 1213.0C1412.9 1209.8 1413.4 1204.2 1413.9 1200.5C1414.5 1196.8 1415.1 1192.9 1415.6 1190.7C1416.1 1188.6 1416.5 1188.1 1417.0 1187.7C1417.5 1187.2 1417.9 1187.0 1418.4 1188.2C1418.9 1189.4 1419.3 1191.7 1419.8 1194.9C1420.2 1198.1 1420.7 1204.5 1421.2 1207.4C1421.6 1210.4 1422.1 1211.8 1422.6 1212.7C1423.1 1213.6 1423.7 1213.1 1424.2 1212.7C1424.8 1212.3 1425.4 1211.1 1426.0 1210.2C1426.7 1209.3 1427.4 1208.2 1428.1 1207.4C1428.8 1206.7 1429.6 1206.0 1430.2 1205.8C1430.9 1205.5 1431.4 1205.4 1432.0 1205.8C1432.7 1206.1 1433.4 1206.9 1434.0 1208.1C1434.6 1209.3 1435.2 1211.5 1435.8 1213.0C1436.4 1214.5 1437.0 1216.3 1437.6 1217.2C1438.2 1218.0 1438.7 1218.4 1439.3 1218.3C1439.8 1218.2 1440.5 1217.2 1441.1 1216.5C1441.7 1215.8 1442.4 1214.6 1443.0 1214.1C1443.7 1213.6 1444.2 1213.5 1444.8 1213.7C1445.5 1213.8 1446.2 1214.5 1446.9 1215.1C1447.7 1215.6 1448.5 1216.5 1449.3 1217.2C1450.1 1217.9 1450.8 1218.7 1451.5 1219.2C1452.2 1219.8 1452.9 1220.5 1453.5 1220.6C1454.0 1220.8 1454.5 1221.0 1455.0 1220.2C1455.5 1219.4 1456.1 1218.4 1456.7 1215.8C1457.2 1213.2 1457.8 1208.2 1458.3 1204.6C1458.9 1201.0 1459.4 1196.5 1459.9 1194.2C1460.4 1191.9 1460.8 1191.3 1461.3 1190.7C1461.7 1190.1 1462.2 1189.8 1462.7 1190.7C1463.1 1191.6 1463.5 1193.3 1464.0 1196.3C1464.5 1199.3 1465.2 1205.3 1465.7 1208.8C1466.3 1212.3 1466.8 1215.6 1467.4 1217.2C1467.9 1218.7 1468.4 1218.8 1468.9 1218.3C1469.4 1217.7 1470.0 1215.6 1470.6 1213.7C1471.1 1211.8 1471.7 1208.1 1472.2 1206.7C1472.8 1205.3 1473.2 1205.0 1473.8 1205.3C1474.3 1205.7 1474.9 1206.8 1475.5 1208.8C1476.0 1210.8 1476.6 1215.1 1477.1 1217.2C1477.7 1219.2 1478.2 1220.7 1478.7 1221.3C1479.1 1222.0 1479.5 1221.6 1480.0 1221.1C1480.5 1220.5 1481.2 1218.4 1481.7 1217.9C1482.2 1217.3 1482.5 1217.9 1482.9 1217.9C1483.4 1217.8 1483.9 1217.1 1484.5 1217.4C1485.0 1217.7 1485.5 1218.9 1486.1 1219.7C1486.8 1220.4 1487.5 1221.5 1488.2 1222.0C1489.0 1222.5 1489.8 1222.7 1490.6 1222.7C1491.4 1222.8 1492.3 1222.8 1493.1 1222.5C1493.9 1222.1 1494.5 1221.8 1495.2 1220.6C1495.8 1219.5 1496.4 1217.7 1497.0 1215.8C1497.6 1213.8 1498.1 1210.4 1498.7 1208.8C1499.2 1207.2 1499.8 1206.4 1500.3 1206.0C1500.8 1205.6 1501.3 1205.6 1501.7 1206.3C1502.2 1207.0 1502.6 1208.2 1503.1 1210.2C1503.6 1212.2 1504.3 1216.5 1504.9 1218.5C1505.5 1220.6 1506.2 1221.8 1506.7 1222.5C1507.3 1223.1 1507.8 1223.0 1508.4 1222.5C1509.0 1221.9 1509.5 1220.7 1510.1 1219.2C1510.6 1217.8 1511.3 1215.8 1511.9 1213.7C1512.5 1211.6 1513.1 1209.2 1513.7 1206.7C1514.3 1204.3 1515.0 1200.9 1515.6 1199.1C1516.3 1197.2 1516.8 1196.2 1517.5 1195.6C1518.1 1194.9 1518.7 1194.7 1519.3 1195.2C1519.8 1195.6 1520.4 1196.8 1520.9 1198.4C1521.5 1199.9 1522.2 1203.1 1522.7 1204.6C1523.3 1206.1 1523.8 1207.0 1524.4 1207.4C1525.0 1207.8 1525.5 1207.8 1526.1 1207.1C1526.6 1206.4 1527.3 1204.7 1527.9 1203.2C1528.5 1201.8 1529.1 1199.3 1529.7 1198.4C1530.3 1197.4 1530.8 1197.3 1531.4 1197.7C1531.9 1198.0 1532.5 1198.6 1533.0 1200.5C1533.6 1202.3 1534.2 1206.7 1534.8 1208.8C1535.4 1210.9 1536.1 1212.2 1536.7 1213.0C1537.2 1213.7 1537.7 1213.6 1538.3 1213.3C1538.9 1212.9 1539.6 1211.5 1540.1 1210.9C1540.7 1210.3 1541.2 1209.7 1541.8 1209.5C1542.4 1209.3 1542.9 1209.2 1543.5 1209.5C1544.0 1209.9 1544.7 1210.5 1545.3 1211.6C1545.9 1212.6 1546.5 1214.7 1547.1 1215.8C1547.7 1216.8 1548.2 1217.6 1548.8 1217.9C1549.3 1218.1 1549.9 1218.1 1550.4 1217.2C1551.0 1216.2 1551.6 1214.1 1552.2 1212.3C1552.8 1210.4 1553.5 1207.4 1554.0 1206.0C1554.6 1204.7 1555.2 1204.4 1555.7 1204.4C1556.3 1204.4 1556.8 1205.1 1557.4 1206.0C1558.0 1207.0 1558.6 1208.7 1559.2 1210.2C1559.8 1211.7 1560.6 1213.7 1561.3 1215.1C1562.0 1216.4 1562.7 1217.7 1563.4 1218.3C1564.0 1218.8 1564.6 1219.0 1565.2 1218.5C1565.8 1218.1 1566.5 1217.2 1567.1 1215.8C1567.8 1214.4 1568.3 1211.7 1568.9 1210.2C1569.5 1208.7 1570.2 1207.4 1570.8 1206.7C1571.3 1206.1 1571.6 1206.0 1572.1 1206.3C1572.7 1206.6 1573.3 1208.0 1573.8 1208.8C1574.4 1209.6 1575.0 1211.1 1575.5 1211.3C1576.0 1211.5 1576.4 1211.5 1576.9 1210.2C1577.3 1208.9 1577.8 1206.0 1578.3 1203.2C1578.7 1200.5 1579.2 1195.9 1579.7 1193.5C1580.1 1191.1 1580.6 1189.8 1581.0 1189.0C1581.5 1188.3 1582.0 1188.3 1582.4 1189.0C1582.9 1189.8 1583.3 1190.9 1583.8 1193.5C1584.4 1196.1 1585.0 1201.3 1585.6 1204.6C1586.2 1208.0 1586.9 1211.8 1587.5 1213.7C1588.0 1215.6 1588.6 1215.8 1589.1 1216.0C1589.6 1216.3 1590.0 1216.0 1590.5 1215.1C1591.0 1214.1 1591.6 1212.6 1592.2 1210.2C1592.8 1207.8 1593.4 1203.5 1594.0 1200.5C1594.6 1197.4 1595.2 1194.0 1595.8 1192.1C1596.4 1190.2 1596.9 1189.6 1597.5 1189.0C1598.0 1188.5 1598.6 1188.4 1599.1 1189.0C1599.7 1189.7 1600.1 1190.7 1600.7 1192.8C1601.2 1194.9 1601.8 1198.8 1602.3 1201.8C1602.9 1204.9 1603.6 1208.8 1604.2 1210.9C1604.7 1213.0 1605.3 1214.0 1605.8 1214.7C1606.4 1215.3 1607.0 1215.3 1607.5 1214.7C1608.0 1214.0 1608.5 1212.3 1609.0 1210.9C1609.5 1209.5 1609.9 1207.0 1610.4 1206.0C1610.9 1205.1 1611.6 1204.9 1612.1 1205.3C1612.6 1205.8 1613.0 1207.2 1613.5 1208.8C1614.0 1210.4 1614.6 1213.8 1615.1 1215.1C1615.7 1216.3 1616.1 1216.8 1616.7 1216.5C1617.2 1216.1 1617.7 1214.7 1618.3 1213.0C1619.0 1211.2 1619.7 1207.9 1620.4 1206.0C1621.1 1204.2 1621.8 1202.8 1622.5 1201.8C1623.2 1200.9 1624.0 1200.6 1624.6 1200.5C1625.3 1200.3 1625.8 1200.6 1626.4 1201.2C1627.0 1201.7 1627.5 1202.8 1628.1 1203.5C1628.7 1204.2 1629.5 1205.0 1630.2 1205.3C1630.9 1205.7 1631.6 1205.6 1632.3 1205.8C1633.0 1205.9 1633.7 1205.6 1634.3 1206.0C1635.0 1206.4 1635.7 1207.1 1636.4 1208.1C1637.1 1209.2 1637.8 1210.8 1638.5 1212.3C1639.2 1213.8 1640.0 1215.7 1640.6 1216.9C1641.3 1218.0 1641.8 1218.9 1642.4 1219.2C1643.0 1219.6 1643.5 1219.7 1644.1 1219.2C1644.7 1218.8 1645.3 1217.9 1645.9 1216.5C1646.5 1215.1 1647.2 1212.6 1647.8 1210.9C1648.5 1209.2 1649.0 1207.4 1649.7 1206.0C1650.3 1204.6 1651.1 1203.4 1651.7 1202.5C1652.4 1201.7 1653.0 1201.3 1653.5 1201.2C1654.1 1201.0 1654.6 1201.0 1655.2 1201.6C1655.8 1202.1 1656.4 1203.4 1657.0 1204.6C1657.7 1205.8 1658.3 1207.5 1659.0 1208.8C1659.7 1210.1 1660.4 1211.5 1661.1 1212.3C1661.7 1213.0 1662.2 1213.4 1662.9 1213.3C1663.5 1213.1 1664.3 1212.4 1665.0 1211.6C1665.7 1210.7 1666.4 1209.2 1667.0 1208.1C1667.7 1207.1 1668.4 1206.0 1669.1 1205.3C1669.8 1204.7 1670.5 1204.5 1671.2 1204.4C1671.9 1204.2 1672.6 1204.6 1673.3 1204.6C1674.0 1204.6 1674.7 1204.6 1675.4 1204.4C1676.1 1204.1 1676.8 1203.5 1677.5 1203.2C1678.2 1202.9 1678.9 1202.9 1679.6 1202.5C1680.3 1202.2 1681.0 1202.2 1681.7 1201.2C1682.3 1200.1 1682.8 1198.5 1683.3 1196.3C1683.9 1194.1 1684.4 1190.1 1684.9 1187.9C1685.4 1185.8 1685.8 1184.2 1686.3 1183.5C1686.7 1182.8 1687.1 1182.6 1687.5 1183.8C1688.0 1185.0 1688.4 1187.5 1688.9 1190.7C1689.4 1194.0 1689.8 1200.1 1690.3 1203.2C1690.8 1206.4 1691.2 1208.3 1691.7 1209.5C1692.1 1210.7 1692.6 1210.8 1693.1 1210.2C1693.5 1209.6 1694.0 1207.9 1694.5 1206.0C1694.9 1204.2 1695.4 1200.7 1695.9 1199.1C1696.3 1197.4 1696.8 1196.7 1697.0 1196.3"/>
</g>
<text class="t" transform="translate(1248.8 1288.9) scale(1 1.03)" text-anchor="end">0.0</text>
<text class="t" transform="translate(1248.8 1227.3) scale(1 1.03)" text-anchor="end">0.2</text>
<text class="t" transform="translate(1248.8 1165.7) scale(1 1.03)" text-anchor="end">0.4</text>
<text class="t" transform="translate(1248.8 1104.1) scale(1 1.03)" text-anchor="end">0.6</text>
<text class="t" transform="translate(1248.8 1042.5) scale(1 1.03)" text-anchor="end">0.8</text>
<text class="t" transform="translate(1248.8 980.9) scale(1 1.03)" text-anchor="end">1.0</text>
<text class="t" transform="translate(1255.8 1311.6) scale(1 1.03)" text-anchor="middle">0</text>
<text class="t" transform="translate(1366.4 1311.6) scale(1 1.03)" text-anchor="middle">50</text>
<text class="t" transform="translate(1477.0 1311.6) scale(1 1.03)" text-anchor="middle">100</text>
<text class="t" transform="translate(1587.6 1311.6) scale(1 1.03)" text-anchor="middle">150</text>
<text class="t" transform="translate(1698.2 1311.6) scale(1 1.03)" text-anchor="middle">200</text>
<text transform="translate(1487.1 1340.7) scale(1 1.03)" text-anchor="middle" textLength="103.3" lengthAdjust="spacing">Epochs</text>
<text transform="translate(1488.0 1377.4) scale(1 1.03)" text-anchor="middle" textLength="129.4" lengthAdjust="spacing">Subject 9</text>
<text transform="translate(1178.4 1118.2) rotate(-90)" text-anchor="middle" style="font-size:35.0px">Accuracy</text>
</g>
</svg></body></html>
